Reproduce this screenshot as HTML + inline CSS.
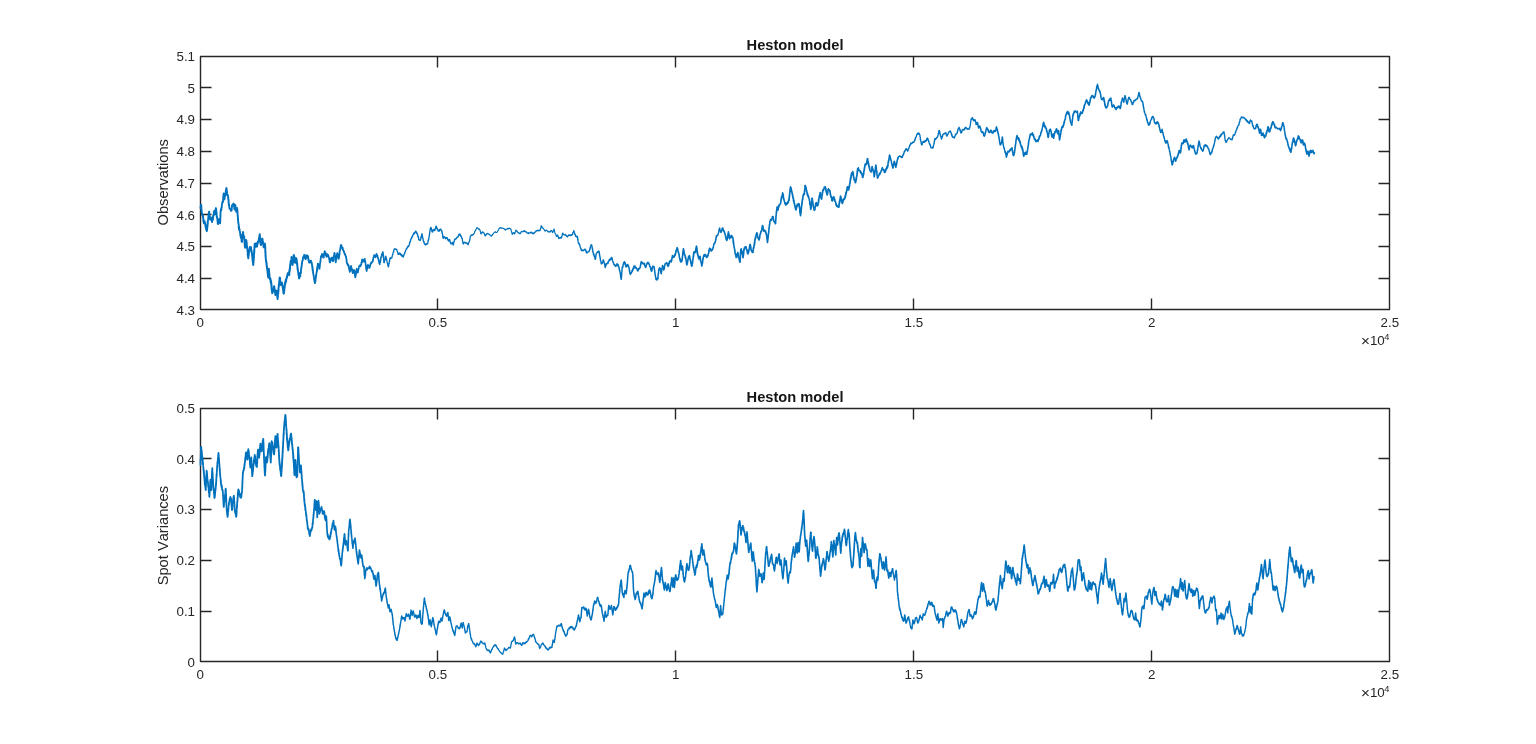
<!DOCTYPE html>
<html lang="en"><head><meta charset="utf-8"><title>Heston model</title>
<style>
html,body{margin:0;padding:0;background:#fff;}
body{width:1536px;height:744px;overflow:hidden;}
svg{display:block;}
text{font-family:"Liberation Sans",sans-serif;fill:#262626;font-kerning:none;}
.t{font-size:13.33px;}
.l{font-size:14.67px;}
.h{font-size:14.67px;font-weight:bold;fill:#161616;}
.ax{stroke:#262626;stroke-width:1.4;fill:none;stroke-linejoin:round;}
.c{stroke:#0072bd;fill:none;stroke-linejoin:round;stroke-linecap:round;}
</style></head><body>
<svg width="1536" height="744" viewBox="0 0 1536 744">
<rect width="1536" height="744" fill="#fff"/>
<g>
<rect class="ax" x="200.5" y="56.5" width="1189.0" height="253.0"/>
<path class="ax" d="M437.5 309.5v-11M437.5 56.5v11M675.5 309.5v-11M675.5 56.5v11M913.5 309.5v-11M913.5 56.5v11M1151.5 309.5v-11M1151.5 56.5v11M200.5 87.5h11M1389.5 87.5h-11M200.5 119.5h11M1389.5 119.5h-11M200.5 151.5h11M1389.5 151.5h-11M200.5 183.5h11M1389.5 183.5h-11M200.5 214.5h11M1389.5 214.5h-11M200.5 246.5h11M1389.5 246.5h-11M200.5 278.5h11M1389.5 278.5h-11"/>
<text class="t" x="200.3" y="327" text-anchor="middle">0</text>
<text class="t" x="437.8" y="327" text-anchor="middle">0.5</text>
<text class="t" x="675.8" y="327" text-anchor="middle">1</text>
<text class="t" x="913.8" y="327" text-anchor="middle">1.5</text>
<text class="t" x="1151.8" y="327" text-anchor="middle">2</text>
<text class="t" x="1389.8" y="327" text-anchor="middle">2.5</text>
<text class="t" x="195.0" y="61" text-anchor="end">5.1</text>
<text class="t" x="195.0" y="93" text-anchor="end">5</text>
<text class="t" x="195.0" y="124" text-anchor="end">4.9</text>
<text class="t" x="195.0" y="156" text-anchor="end">4.8</text>
<text class="t" x="195.0" y="188" text-anchor="end">4.7</text>
<text class="t" x="195.0" y="220" text-anchor="end">4.6</text>
<text class="t" x="195.0" y="251" text-anchor="end">4.5</text>
<text class="t" x="195.0" y="283" text-anchor="end">4.4</text>
<text class="t" x="195.0" y="315" text-anchor="end">4.3</text>
<text class="t" x="1361" y="345"><tspan font-size="15.3px" dy="1.2">×</tspan><tspan dy="-1.2">10</tspan><tspan dy="-4.8" dx="-0.5" font-size="9.3px">4</tspan></text>
<text class="h" x="795.0" y="49.65" text-anchor="middle">Heston model</text>
<text class="l" transform="translate(168 182.3) rotate(-90)" text-anchor="middle">Observations</text>
<path class="c" stroke-width="1.87" d="M200.6 208.3l0-1.9 0 1.1 .1-.1 .1 .5 .1-2.3 .2-1 .1 .8 0 .4 0 .8 .1 1.1 0-1.7 .1 .2 0 2.7 0 .2 .1 1.5 0 0 0-.9 .1 .2 0 2.4 0-1.5 .1 0 0 .2 .1 1.5 0 .5 0 .3 .2 0 .2 .6 .1 .8 .2 .6 .2-.3 0 1 .1 0 .1-.9 0 2.3 .1-1.7 .1 1.7 0-1 .1 2.1 .1-.5 0 1.6 .1 1.9 .1-1.3 0 1.4 .1-1.9 .1 1.6 0 1.3 .1-.2 .1 .7 0 .2 .2-.2 .2-1.6 .1 1.5 .2-1.8 .2 .5 0 1 .1-.5 .1 1.3 .1-.1 .1 1.4 .1-1.2 .1 2.2 .1-.8 .1 2.1 .1-.3 .1-.2 .1-.7 .1 2.3 .1 .1 .1 1.5 .1-1.6 .1 1.4 .1 .4 0 .2 .1 .3 .1 .4 .1 .3 .1-.6 0-.8 .1-.2 0 .3 .1 .4 0-.8 .1-.3 0-.7 0-.5 .1-1 0 .2 .1 .4 0-2.6 .1-.9 0 2.1 .1-1.8 0 .4 .1-.6 0-2.7 .1 2.3 0-.6 0-1.6 .1 0 0-1 .1-1.1 0 .1 .1-.4 0-.3 .1 .2 .1-.6 0-1 .1 .9 0-2.7 .1 1.3 .1 0 0-2.2 .1-1.7 0 .2 .1 .8 0-.1 .1 .2 .1-2.4 0 .3 .1-.4 0 .8 .1-.1 0-.7 .1 2.6 0 1.2 0 0 .1-1.8 0 1 .1 1.2 0 1.8 .1-.5 0-.1 .1 1.4 0-.7 .1 .5 .2 1.2 .3-2.4 .3 .1 .2 .3 .1 .9 .1 1.2 .1-.2 .2 .1 .1-1.6 .1 1.2 .1 .6 .1 .6 .1 1.5 .1-.4 .1 .7 .1 0 .1-.8 .1-.8 .1 0 0 0 .1 .1 .1-2 .1-.1 .1-1.8 .1 2.9 .1-.5 .1-2.2 0-.7 .1-1 .1 .8 .1-.5 .1-.5 .1 .6 .1-1.2 .1-1.5 .1-1.3 .1 2.9 .1-1.8 .1-1.7 .1 .7 .1 .5 .2-1.3 .1 3.7 .1 0 .1-.4 .1 0 .1-.5 0-1.5 .1 .6 .1-1.8 .1 1.8 0-2.8 .1 .2 .1 2.1 0-.3 .1-3.3 .1-.4 .1 1.6 0-.7 .1-.9 0 0 .1 .4 0 .4 .1-.1 0 .8 .1 2.5 0-.1 0 1.3 .1-1.3 0 .4 .1-.6 0 1.5 .1-.9 0 .4 .1 2.6 0 .9 0-.1 .1 .5 0-.2"/>
<path class="c" stroke-width="1.84" d="M216.8 216.7l.1 .5 .1-.2 .1 1.1 0 0 .1-.4 .1 0 0 .4 .1 2.1 .1 .6 .1-.3 0 2.6 .1-.9 .1 .8 .1 .9 0-1.2 .1 .3 .1 1.2 .1 0 0-1.4 .1 1.4 .1-1.3 0 .4 .1-.7 .1-3 0 2 .1-1.9 .1-.3 0-.1 .1-.1 .1 .9 .2 .7 .1 .7 .1-2.3 .1 1.4 .2-.6 .1 2 .1 1 .1-.6 .2 .9 0-.3 0-.4 0 .1 0-1.8 0-.6 .1-.4 0 1.7 0-.7 0-1.7 0-.1 0-.6 .1-.3 0-.9 0-.6 0-1.6 0 .3 0 1.9 .1-1.5 0-.9 0-.7 0-.2 0-.3 0-1.1 0 .1 .1-.5 0-.5 .1-1.1 .2-.6 .1-.8 .1-.4 .2 1.5 .1-1.1 .1-1.3 0 .2 .1-.8 0-.5 .1 .4 0 .8 .1-1.7 0-.6 .1-.9 0 .1 .1 .2 0-.9 .2-.7 .1-1.3 .2-.5 .2 .1 .1 .7 .1-1.1 0 .9 .1-.8 0-1 0 1.2 .1-2.5 0 1.1 .1-.4 0-3 0-.4 .1 .1 0 1.7 .1-.1 0-3.1 .1 1.9 0-1.8 0-.4 .1-.5 0-.3 .1-.2 0-.4 .1 .4 0 0 .1 2.1 0 1.5 .1 .5 0-1.6 .1-.8 0 1.6 .1-.1 0 2.5 .1-.4 0 .1 .1-.9 .1 .9 .1-.7 .1-2.6 .1 .6 .1-.1 .1-.1 .1-.3 .1-.8 .1-.2 .1-.3 .1-1 0-.8 .1 1.7 .1-1.4 0-.4 .1-2.5 .1 1 0 .7 .1-2.9 .1 2.2 0-2 .1 .3 .1-.9 .1-.2 0-.6 .1 1.1 0-.5 .1 1.9 0-1.5 .1 .3 0 2.2 .1-1.6 0 1.2 .1 1.9 0 .8 .1-2.4 0 2.4 .1 1.2 0 .1 .1-.6 0 .6 .2-.2 .2 .5 .1-.6 .2 1.4 .2 .6 0 .3 .1 .5 0 1.4 .1-.7 0-.7 0 2.9 .1-1.8 0 1.1 .1 .8 0 .2 .1-.3 0 1.3 .1 2.1 0-1.6 0 .9 .1 1.5 0 0 .1 .3 0 .1 .1 1 .1-1.5 .1 .8 .1 1.5 .1 .8 .1 1.1 .1-.5 .2 .1 .2 .2 .2 .6 .3 .1 .2 .8 .2 .8 .3-.6 .2 .6 .1-.9 0-.6 .1 1.3 0-.1 .1-.7 0-.5 .1-.5 0-1.3 .1 .2 0-1.9 .1 .3 0-.3 .3-.9 .3 1 .2-1.8 .3 .2 .3 .1 .3-.6"/>
<path class="c" stroke-width="1.86" d="M233.7 203.8l0 1.1 .1-.9 .1 .1 0 2.2 .1-1.7 .1 2.2 0-.8 .1 1 0-.9 .1 2.5 .1-.6 0 .3 .1 .9 .1 .4 0-.6 .1 .3 .1-1.3 0-1.3 .1 .1 .1 .9 0-1.9 .1-.1 .1-.7 0 .7 .1-.5 .1 1.2 0-.1 .1-.4 .1 2.7 0 .3 .1-.3 .1-.6 0 0 .1 2.4 .1-.1 0-.5 .1 1.4 .1 .5 .1-1.4 .1 .5 .2-.2 .1-.2 .1-.6 .2-.5 .1-1.4 .1 .4 .1 .3 0 .2 0 .7 .1 .9 0 .8 0 1.4 0-2.8 .1 2.5 0-.2 0 2.2 .1-.1 0-1.8 0 2 0-.1 .1 .7 0 .9 0-.7 .1 1 0 .4 0 .5 .1-.1 0-.5 0 2.5 .1 1.1 0-.8 .1-.6 0 1.8 0 .8 .1-.3 0 .6 0 1.5 .1-1.4 0 .9 0 .7 .1-.3 .1 .7 0 .3 .1 .1 .1 .7 0 2.8 .1-1.4 .1 .6 0 2.1 .1-1.2 .1-.9 0 2.2 .1-.6 .1 1.9 0-.3 .2-1 .1 1.2 .2 1 0-.3 .1 1.3 .1-.6 .1 1.2 .1 .1 0 .1 .1 2.3 .1 .4 .1-.6 .1-.7 .1 .3 .1 1.8 0 1.2 .1-.9 .1 .7 .1-.1 .1 .3 .1-.1 .1 .5 .1 1.3 .1 2.4 .1-1.2 .1-.1 .1 0 .1 1.4 0-.4 .1-.5 0-1.4 .1-.5 0 .5 .1 .7 0-.8 0-1 .1-1 0 .3 .1-.8 0 1.2 0-3.4 .1 .4 0 1.3 .1-2 0 1 .1-1.7 0-.3 0-.7 .1-.3 .1-.6 .2 .5 .1 2.9 .1-.4 .2 .4 .1 .8 .1-.1 .2 .6 .1-.4 .1 .4 0 .4 0 1.3 .1-.6 0-.5 0 1.4 .1 .1 0 1.7 0-1.1 .1 0 0 1.3 0 2.6 .1-1.4 0 .7 0 .3 .1 .7 0 1.2 0 .9 .1-2.6 0 3.3 0-1 .1 .2 0 1.7 0-.7 .1 1.2 0-.2 .1 .1 0-1.7 .1 .7 .1-.1 .1-1.3 0-2 .1 .8 .1-.3 .1-1.5 0 2.6 .1-2.4 .1-.6 .1-.3 0-.9 .1-.3 .1 .2 0-.5 .1 .6 0-.1 .1 .7 0-.8 .1 2.3 .1-.9 0 1.5 .1-.9 0 .9 .1 1.3 0-1.3 0 3.6 .1-1.3 0 .4 .1-.2 .1 2.5 0 .3 .1-.5 0-.5 0 1.2 .1 .2 0 1.1 .1-.4 0-.3 .1 .4 0 .8 .1 1.3 0-.4 .1 1.3 0 2.2 .1 .4 0-2.6 .1 2.2 0 .1 .1 .2 0 1.7 .1-1 0 .5 .1 .5 0 .6 0 .5 .1 .2 .1-.5 0-2 .1 .2 0-.8 .1 1.3 0-1.1 .1 .4 .1-1.6 0-2.1 .1 1.9 0-.7 .1-.1 0-2.6 .1 1.2 .1-1.2 0-.4 .1 .6 0-.5 .1-1.3 0-.5 .1 .3 .3-1.8 .3 .4 .3 1.6 .4-1.5"/>
<path class="c" stroke-width="1.93" d="M250.8 247.5l0 .4 .1-.7 .1 .7 .1 1.7 .1 1.6 0 .2 .1-.5 .1 .2 .1-1.2 .1 1.2 .1 .6 .1 0 0 1.3 .1 .1 .1 .7 0 .5 .1 1.2 0 .1 .1 .2 0-.1 .1-.8 0 1.8 .1 1.1 0-1.4 .1 3.2 0-1.5 .1 1.3 0-.4 .1-.8 0 3.8 .1-2.8 0 3 .1-1.3 0 1.4 .1-.7 0 .8 .1 1.7 0 .7 .1-1.2 0 1 0 .4 .1-.1 0-1.1 0 .3 .1-1.4 0 .5 0-.5 .1 .2 0-1.1 0-1.9 .1 1.3 0-2.2 0 1.5 .1 .3 0-1.3 0-1.8 .1 1.6 0-1.6 0-2.2 0 .6 .1 1.8 0-2.6 0 .1 .1-1 0-1.8 0 .7 .1 .6 0-.6 0-.9 .1-2 0 2.8 0-1.1 0 0 .1-.2 0-2.5 0-.6 .1 .6 0 .7 0-3.3 .1 .7 0-.9 0 .7 .1 .2 0-1.8 0-1 .1 .4 0-.6 0-.8 .1 .1 .2 1.1 .3-1 .3 1.8 .2-2.2 .3 3.3 .3-2.1 .2 1.5 .2 .3 .1-2.3 .2 2.3 .1-2.4 .2-1.7 .2 1.1 .1 .3 .2-2.1 .1 .3 .2 .3 .1-.7 .2-.4 .1-1.2 .1 .1 0 .3 .1-.5 .1 .4 .1-2.5 0 2.2 .1-1.2 .1-1 .1 .5 .1-.7 0-1.4 .1-1.1 .1 .9 .1-1 .1-.6 0-.2 0 .3 .1 1.6 0 .1 .1 .7 0 .8 0-.1 .1 2 0-2 .1 .7 0 1.4 0 .9 .1 .5 0 1.2 .1-1.9 0 2.4 .1-.4 0-1.2 0 1.5 .1 1.8 0-.2 .1-.5 0 .1 .1 1.1 .1-.8 0-.6 .2 .2 0 1.1 .1-1.1 .2-.9 0-2 .2-.8 0 .9 .2-.7 .1 1.7 0-2.4 .2-.5 0 .7 .1-1 .1 .4 .1-.5 .1 2.5 .1-1.1 0-.7 .1 2.3 .1 .6 .1-.6 .1 1.8 0 .6 .1-1.8 .1-.1 .1 .5 .1 1.9 0 1.8 .1 .1 .1 .5 .1 .2 .1-.3 .1-.4 .2 .7 .1-3.2 .2 2.2 .1-.8 .2-1 .1-.6 .2 0 0 0 0 .9 .1 1.2 0-.7 0 1.2 0-.6 .1 1.3 0-.9 0 1.9 0-.2 0 1.1 .1-.7 0-.3 0 1.5 0 2.2 .1 .9 0-1.8 0 1.9 0 .4 0 0 .1-1.8 0 2.6 0-1.2 0 3 .1 0 0 .2 0-1.6 0 2.4 0 .4 .1-1.1 0 2.1 0-.2 0 .3 .1 .6 0 0 .1 .1 0 .8 .1 2.1 .1-.7 0 .5 .1-.6 .1 .5 0 .5 .1 0 .1 2.7 0-1.1 .1 1.9 .1-2.1 0 3 .1-.7 .1 1.2 0-.4 .1-.3 .1 2.2 0-.8 .1 .6 0 .6"/>
<path class="c" stroke-width="1.95" d="M267.2 268.8l.1-.1 .1 1.1 0-.1 0 1.1 .1 .5 .1-.7 0-.5 0 2.7 .1 1.1 .1 .1 0-1.9 .1 2.7 0 .1 0 .3 .1 .6 .1-.4 0 1 0 .9 .1-.5 0 .7 .1-1.2 0 .2 0-.1 .1-2 0 .2 0 1 0-1.3 0-.2 .1-2.2 0 2.4 0 .2 .1-2.5 0-1.1 0-.9 0 1.9 0-1.3 .1-1.2 0 1.1 0-.9 .1-.8 0 .7 0-.8 .1 1.3 0 1.1 .1-1.4 0 2.7 .1 1 0 .1 0-1.7 .1 .4 0 2.6 .1 .5 0 .7 .1 .3 0-1.2 0 .1 .1-.6 0 2.8 .1 .9 0-1.2 .1 .5 0 1 .1 .2 .1 .6 .2-1.5 .2 1 .2-.1 .1 3.3 .2-1.8 .2 .9 0 .9 .1 .9 0 .6 .1 .6 0 .6 .1-2.2 0 1.3 .1 0 0 1 .1 2.5 0-3.1 .1 2.9 0-1.8 0 3.7 .1 .4 0-1.9 .1 2.9 0-1.2 .1 1.8 0-.7 .1-.5 0 .7 .1 .7 0 1 .1 0 0 1 0-.2 .2-.5 .1-.7 .1-.8 .1-.5 .1-1.3 .2 0 .1 2 .1-1.5 .1-.8 .1 .3 .1 .4 .2-1.1 .1-.3 .1-1.6 .1-.2 .1-.3 .1 .1 0 .8 .1-.3 .1 .8 0 .6 .1 .4 .1 .4 0 .1 .1 2.8 .1-1.7 0-.4 .1 1.9 0-1.1 .1 .5 .1 1.8 0-1 .1 .6 .1 1.8 0 .8 .1-.1 .1-1.5 .2-.3 .1 1.2 .1-2.9 .2 .3 .1-.8 .1 .9 .2-1.3 .1 .6 .1 1 0-.2 .1 .9 .1-.2 0-.9 .1 1.9 0-1.1 .1 2.2 0-.7 .1 1.2 .1 .5 0 1.6 .1 .4 0-1.3 .1 1.4 .1 1.2 0-.3 .1-.3 0-1.1 0-.1 .1-.6 0 .7 .1-1.3 0-.1 0 .8 .1-3.7 0-.1 .1-.9 0-.5 0 2.5 .1-1.2 0 1 .1-4.1 0 .2 0 2.5 .1-1 0-.7 .1-.5 0-1.3 0-.5 .1-.4 0 .1 .1-1.2 0-.2 .1-.6 0 .3 .1-1.9 0-.3 0 .8 .1-1.3 .1-.4 0 1.5 0-1.6 .1-1.5 0 1.5 .1 0 .1-3.7 0 .1 0 .6 .1-1.3 .1 1.7 0-1.4 0-1.2 .1 .1 .1-.7 0 0 .1 .4 .1 1 0 1.9 .1-2.7 .1 2.6 .1 1.6 0-.3 .1 1.3 .1-.8 .1 0 0 .1 .1-.3 .1 2.7 .1-1.8 0 1.3 .1 .5 .3-.9 .3-.8 .3-.8 .3 1.3 .1 .2 .1 .7 .1 .4 0 1.2 .1-.6 .1-.1 0 1.5 .1 .9 .1-1.6 0-.2 .1 .9 .1 3.2 0 .3 .1-2 .1 1.7 0 1.2 .1 .9 .1-1.6 0 .8 .1 1.6 .1 .2 .1-.3"/>
<path class="c" stroke-width="1.95" d="M283.8 293.1l0 .3 .1-1.9 0 .7 .1-1.1 0-.2 .1-1.1 0-.2 .1 .1 .1 1.4 0-1.3 .1-.8 0-1 .1-1.4 0 .3 .1 1.3 .1-.9 0 .1 .1-1.7 0-.7 .1-1.4 0 .8 .1-.6 .1-1.4 .2 1.8 .1-2.4 .1 .3 .2-2.2 .1 .7 .1-1 .2 2.2 .1-1.5 .2-1.8 .1-.3 .1 .6 .1-.5 .1-.8 .1-1.2 .1 1.5 .1-1.4 .1 0 .2-1.3 .1-.4 .1-.2 .1-1.2 .1 1.3 .1-.8 .3 .7 .3-2 .3 2.3 .3 .2 .1 .1 0-.8 .1 .4 0-1.7 .1-.2 0-1.8 .1-.1 0-1 .1 .1 0 1 .1-.1 0 .4 .1-1.8 0-1.8 0 1.4 .1-1.2 0 1.5 .1-.5 0-1 .1-2.8 0 .3 .1 .3 0-1.2 .1 .5 0-.5 .1-.7 .1 0 0-.7 .1-1.5 .1-.5 .1 .4 .1 1.4 .1-.2 0-1 .1-1.2 .1-.1 .1-.3 .1-.1 .1-1 0-1.9 .1 .4 .1 1 0 .2 .1-.3 0 1.4 .1 .2 0 .1 .1-1.3 0 2.4 .1 1 0-.4 .1-1.2 0 2.7 .1 .7 0-.2 .1 .7 0-.1 .1 .6 .1-.7 0 .2 .1-1.1 0 0 .1 .9 0-1.1 .1-1.1 0-2.3 .1 1.4 0 .4 .1-2.3 .1 .2 0-1.9 .1 2 0-1.8 .1 1 0 .3 .1-2.1 0 .7 .1-1.2 0-.8 .1-.4 .1-.3 0 0 .1 1.9 .1 .2 0-1.4 .1 2.5 .1-1.4 .1-.5 0 3.8 .1-2.8 .1 3.6 .1-.8 0 1.2 .1 0 .1 1 .1-.4 0 .5 .1 .1 .1-.2 .1 .4 .1-1.8 .2 1.2 .1 .2 .1-2.3 .1 .2 .1-1.4 .1-.2 .1 .1 .1-.6 .1 .3 .1 .1 0 .9 .1 .6 .1 .6 0 .9 .1-1.8 0 3.5 .1-1.3 .1-.3 0 .9 .1 1.4 0 1 .1-1.1 .1 1.1 0-1.5 .1 2.4 0 .1 .1 .1 .1 1.9 0 .9 .1 0 0-1.2 .1 2.1 .1-.8 0 .6 .1 .5 0 .1 .1 1.1 .1 .6 0 .1 .1 0 .1 .5 0 .1 .1 2.1 .1-1.4 0 .9 .1 .3 .1-.2 0 1.1 .1-.8 .1 2.3 0 .5 .1-.2 .1 1.3 0-.3 .1-.8 .2 .5 .1-.4 .1-1.5 .1-.1 .1 1 .1-1.4 .2-.2 .1 .9 .1-1.8 .1-1.9 .1 .3 .1 .7 .2-.9"/>
<path class="c" stroke-width="1.78" d="M300.8 272.5l0-.5 .1-1 0-.8 .1 .8 0 .6 .1-2.9 .1-.6 0 1.5 .1-1.6 0-.2 .1-.4 0-1.1 .1 1.1 .1 .1 0-1.1 .1-1.4 0 1.3 .1-1.7 0 .3 .1-1.9 .1 1 0-.4 .1-.2 0-1.3 .1-.2 0-.7 .2-.7 .1 .6 .1-.4 .1 0 .2-1.9 .1-1.4 .1 .9 .1-.6 .2-1 .1 1 .1-.1 .1-1 .2 0 .1-1 .1-.6 .2-.2 .1 .5 .1 .6 .2 1.5 .1 .7 .2-.5 .1 1.2 .1-1 .2 1 .1-.5 .2 1 .1-1.2 .2 .3 .2-3.1 .1-.2 .2 .3 .1 .2 .3 1.1 .3 .8 .4-2 .3 .7 .1 0 0 .2 .1 .4 .1 1.6 .1-.4 .1 2.3 .1-.3 0-1.2 .1 1.5 .1 0 .1 1.3 .1 .4 .1-.6 0 1.1 .1 0 .3 .1 .3-.8 .2 0 .3 .1 .3-1.2 .3-.1 .1 0 .1 1.8 .1-.6 .1-.2 .1 1.5 .1-1.6 .1 2 .2-1 .1 1.4 .1-.1 .1 1.2 .1 .2 0 1.2 .1-.2 .1-.4 0 2.6 .1-1.4 .1 2.4 0-1.4 .1-.6 .1 3.4 0-1.5 .1 1.7 0 .9 .1-2.2 .1 1.9 0-.2 .1 1.5 .1-.1 0-.5 .1 1.4 .1 .9 0-.1 .1 .5 .1 .7 .1-.2 0 .7 .1 .8 .1 .3 .1 1.5 .1 .2 0 .3 .1 .3 .1-.2 .1-.9 0 2.7 .1 .7 .1-.7 .1 0 .1 .6 0 1.2 .1-.2 .1 .3 .1-.8 0-.2 .1-.8 .1-.1 0-1 .1-.5 .1 1.7 0-.8 .1-2.9 .1 0 0 .1 .1-.4 .1-1.5 0 2 .1-2.9 .1 1.7 0-.4 .1-1.5 .1-.6 .1 .1 0-.4 .1-1.3 .1-.1 0 0 .1-.2 0-.7 .1-.7 .1-.9 0-.3 .1-.5 .1 1.7 0-3.2 .1 2.4 0-1.5 .1-.7 .1-.4 0-1.1 .1 1.3 .1-1.3 0-.9 .1-.5 .1-.3 0-1 .1 .1"/>
<path class="c" stroke-width="1.75" d="M317.9 263.8l.1 .2 .1 .1 .2 1.5 .1 .4 .2-1.7 .1 1.7 .1 1.7 .2-1.9 .1 .7 .1 2.2 .2-.4 .1 .5 .1-.7 0-.8 .1 .2 0-.9 .1 .1 0-.3 .1-.1 0-1.4 .1-.7 0 .1 .1-.6 0-.1 .1-1.2 0-.1 .1-.9 .1-.4 0 .3 .1 .6 0-2.1 .1 .6 0-.7 .1-.7 0 0 .1-1.3 0 .2 .1-.6 0-1.1 .1 0 .2 0 .3-.1 .3 .5 .2-2.7 .2 .5 .2 .4 .2 .7 .1-.9 .2 2.6 .1-.4 .2-.8 .1 .3 .2 1.2 .1-.6 .1 .7 .1-.2 0-2.9 .1-.5 .1 1.7 .1-1.2 .1-1 0 .9 .1-1 .1-.2 .1-.5 .1-1.3 .1 .9 .1-1.1 .1 .2 .1 1.5 .1 .2 .1-.1 .2 .5 .1 .2 .1-1 .2 1.6 .1 1.1 .1-1 .1 .7 .1 1.1 .4 .6 .3-.2 .3-2.5 .4 1.8 .3-.7 .3-.2 .1 .8 .1-.2 .1 .5 .1 0 .1 1.2 .1 .1 .1-.1 .1 .7 .1 0 .1 1.8 .1-1.2 .1 0 .1 1 .1 2.1 .1-.8 .1 1.2 .1 .3 .1 .1 .1-.7 .2 .4 .1-.5 .1-.9 .2-1.1 .1 .2 .1-1.6 .2 .6 .1-.6 .2 .4 .1-.6 .1-.6 .2 0 .1 1.5 .1 .9 .2-.7 .1-.3 .2 1.6 .1-1.2 .1 1.2 .2 .7 .1-.1 .1 .1 0-1.7 .1 1.1 .1-.3 .1-.3 .1-3.1 .1 2 0-1.3 .1 .4 .1-1.6 .1-.9 .1 0 .1 1 .1-1 0-1.3 .1 0 .1-.3 .1-.8"/>
<path class="c" stroke-width="1.68" d="M334.5 253.1l.1 .7 0 .2 .1 0 0 .3 .1 .6 0 .3 .1-.4 .1 .4 0 2.6 .1-1.5 0 .2 .1 1.7 0 1.8 .1 .3 .1-1.2 0 0 .1 .8 0 .2 .1 .8 0 1 .1-.2 .1 .8 0-.7 .1-.3 .1-.3 0-1 .1-.5 .1-.7 0-.2 .1 .8 .1-1.2 0-1.5 .1 1.5 .1-1.1 0-1.2 .1 .2 .1-1.5 0-.3 .1 1.7 .1-.4 0-.5 .1-1.7 .1 0 0-.5 .2 .8 .1-.7 .1 2.3 .1-1.3 .1 1.4 .1-1 .2 1.9 .1 .1 .1 1.4 .1-1.5 .1 1.4 .1 1.1 .2-.2 0-.9 .1 .2 0-.4 .1-1 .1-.3 0 .9 .1-.6 .1-.9 0-.7 .1-1.7 0 .7 .1 .8 .1-.7 0-2.8 .1-.5 .1 .3 0 .3 .1-1 0-.2 .1 .1 .1-.1 0-.9 .1 .1 .1-1.8 0 .4 .1-.6 .2-.1 .1-2 .2 2.2 .2-2.7 .1 .7 .3-.4 .2 2.4 .2 .4 .2-.4 .2 1.3 .2 0 .2-1.2 .2 1.1 .1 .6 .1 1.1 .2-.6 .1 .6 .2-.1 .1 1.6 .1-.9 .2 .5 .1-.1 .1 .8 .2 1.1 .1 .4 .2 .6 .2-.3 .2-.3 .3 1.7 .2 .3 .2 .9 .2-.5 .1 .3 0 .4 .1 1 0 1.2 .1-.7 .1 .4 0-.4 .1 1 0 1.7 .1 .4 0 .6 .1-1.8 .1 2.4 0-.9 .1 1.4 0-.5 .1 1.1 .3 .1 .3-.5 .3 2.3 .3-.9 .3 .2 .1 1 .1-.4 0 1.7 .1-.9 .1 2 .1-1.3 0 0 .1 2.2 .1-.8 .1 .7 .1-.7 0 1.4 .1 .8 .1-.1 .1 1 .1 .3 0-1.1 .1 .8 .1-1.3 .1 1.1 .1-2 .1-.8 .1-.2 .1 .3 .1-.2 .1-1.3 .1-.6 .1 .3 .1-.7"/>
<path class="c" stroke-width="1.63" d="M351 266.2l.1 .8 .1-.7 .2 .5 .1 .6 .1 2.2 .1 .4 .1 0 .1 .2 .2-1.2 .1 2.6 .1-1 .1 .1 .1 2.1 .1-1.4 .2 1.9 .1-.2 .1-.2 .2-1.3 .1 .5 .2-1.4 .2 .6 .1-1 .2-.6 .1 .3 .1 1 .1-.4 0 1.4 .1-.3 .1 1.1 .1-1.3 0 .6 .1 .1 .1 2.7 .1-.1 0-1 .1 2.2 .1 .2 .1 1 0-.4 .1 .6 .1 .1 0-.2 .1-.3 .1-.8 0-.8 .1 .5 .1 .1 0-2.6 .1-.5 0 .6 .1 1 .1-2 0-1.6 .1 1.7 0-.6 .1 .1 .1-1.5 0 .4 .1-1.8 .1 .3 0-.7 .2 .4 .1-.5 .1 1.1 .2 1.9 .1 .2 .2-1 .1 1.6 .1 .1 .2-.1 .1 0 0-.7 .1-.3 .1-1.3 .1 .2 .1-.3 .1-1.2 0 0 .1 0 .1-.4 .1 .3 .1-2 .1 0 0 0 .1-.6 .3-.4 .3 .3 .4-.9 .3 1.2 .3-1.3 .3-.1 .1-.9 .1 .5 .1 .1 .1-2.6 .1 .6 .1-.2 .1 .4 .1-.1 .1-1.8 .1-1.4 .1 1.1 .1-.4 0-.9 .3 .6 .3 .1 .2-.5 .2 2.2 .3-1.6 .3 1 .1-1.2 .2 1.2 .1-.9 .2-.2 .2-.7 .2-.6 0 .8 .1 .6 0-.4 .1 1.3 .1-.9 0 .2 .1 2.3 .1-.8 0-.4 .1 1.5 .1-.1 0 1.5 .1-.1 .1-.2 0 .5 .1 1.7 0-1 .1 1.3 .1-.5 0 1.6 .1 1.2 .1-.2 0 .7 .1 0 .1-.4 0 .8 .1 .6 .1 .5 0 .3 .1-.6 .1 .2 .1-1.3 .1 .1 0-.4 .1-1.4 .1 1.4 .1-1.2 .1-.4 .1-.5 0-1.5 .1-.3 .1 0 .1 .5 .1-.8"/>
<path class="c" stroke-width="1.53" d="M367.9 265l.2 .1 .2 1.1 .2-.9 .2 .5 .2 .8 .2 1.5 .2-1.1 .2 1.1 .1-.5 .1-.1 .1-.6 .2-.5 .1 .2 .1-.8 .1-1.6 .1 1 .1-1.6 .2 0 .1 .6 .1-.7 .1-1 .4 .8 .4-.7 .3-1.1 .4 .4 .1-.7 .1 .5 .1-.9 .1-1.6 .1 1.6 .1-1 .1 .2 .1-1.2 .1-1.9 .1 .1 .1 0 .1-.4 .1 .6 .1-1.7 .1-.1 .1-.4 .2 .3 .2 .4 .2-.5 .1 .2 .2 .4 .2 1.5 .2 .2 .1-.5 .2-.2 .1-1.3 .1 .3 .2-1.2 .1-.4 .1 .6 .2-.3 .1-.7 .2 .6 .1 .2 .1 .1 .2 1.8 .1 .3 .1-1.1 .2 .1 .1 1.6 .1 .3 .2-.3 .1 1.5 .1-.1 .2-.2 .1 .6 .1 1 .1 1 .1-1.3 .1 1.1 .2 1.9 .1 .4 .1-.8 .1 .6 .1-.1 .1 1.1 .2 .3 0-.8 .1-.7 .1-.6 .1 .4 0-1.4 .1 1.3 .1-.2 .1-.7 .1-.7 0-.1 .1-1.1 .1 0 .1-.7 0-.4 .1-1.1 .1-.1 .1-.6 .2-.7 .1 .6 .1-.6 .2-1.3 .1-.5 .1-.1 .2 .6 .1-1.1 .1-.5 .2-.6 .1-.1 .1 .2 .2-.9 0 .2 .1 .5 0 1.2 .1 .2 0-.6 .1 1.8 0-1 .1 1.6 0-.9 .1 .7 0 1.8 .1-.6 .1 .3 0 1 .1 .4 0 .1 .1 .4 0 1.7 .1 .4 0-.2 .1-.2 0 .7 .1 .6 0 .5"/>
<path class="c" stroke-width="1.34" d="M384.1 262.5l.1-.3 .1 .1 .1-1.3 .2-.1 .1-.8 .1 0 .1-1 .1 .3 .1 .2 .1-1.5 .1-.4 .1-.1 .1-1.1 .1 .6 .2-.9 .1 0 0 .7 .2 .1 0 1.8 .1-.8 .2 .4 0 1.7 .2-.6 0 0 .2 .9 .1 .6 0-.1 .2 .7 0 .4 .1 .5 .2 .7 .1 .5 .1 .5 .1-.2 .1 1 .1-.2 .1 1.2 .2-.1 .1 0 .1 1 .1 0 .1-.8 0-.4 .1-.5 .1-.1 .1-1.1 0-.4 .1-.6 .1 .5 .1-1 0 .9 .1-.8 .1-1.7 .1 1.1 .1-1.2 0 .1 .1-1.6 .1 .6 .1-.5 0-.9 .1-.4 .4-.4 .4 .2 .4 .4 .4-.2 .1-.1 .2-.3 .1-.3 .1-1 .1-.5 .1-.1 .2-.7 .1-.6 .1-.2 .1 .2 .1-1 .1-.2 .2-.7 .1-.4 .1-.5 .1 .4 .1-.9 .2 0 .1-1 .1-.2 .1-.6 .4-.6 .5 .4 .4 .1 .4-.3 .4 .3 .4 .1 .2 .1 .1 .7 .1 .1 .2 .7 .1 .3 .1 0 .2 .8 .1 .6 .1-.2 .2 1.1 .1 .7 .1 .1 .4-.4 .3 .2 .2-.2 .3-1 .4 .1 .2 .7 .3 .5 .3-.7 .3 1.5 .3-.8 .3 1.5 .3-1.2 .3 1.6 .3-.2 .3-.2 .3 .5 .2 .6"/>
<path class="c" stroke-width="1.36" d="M403.2 256.9l.2-.7 .2-.5 .1 .1 .2-.6 .1-1.1 .2 .2 .1 0 .2-.6 .1 .3 .2-1.8 .1 .4 .2-.5 .1-.3 .2-.6 .2-.8 .2-.5 .1 .1 .2-.2 .2-1.2 .2 .6 .2-.6 .2 0 .2-1.2 .1 .1 .3-.2 .3-1 .3-.2 .2 .4 .3 0 .3-1.1 .2-.4 .1-.4 .2 .1 .1-1.4 .1 0 .1-.7 .2-.7 .1 .3 .1 .3 .1-1.1 .2-.3 .1-.7 .1 .1 .1-.8 .2-.8 .1-.1 .2-.4 .2 .3 .2-1.1 .2 .4 .1-1.2 .2 .5 .2-1 .2-.2 .2-.8 .2-.3 .2-.1 .3-.7 .3-1 .2 .6 .3-1.2 .2 1.2 .3-.7 .3-.8 .2-.1 .3-1.1 .3 .1 .2 1 .2-.6 .2 1.1 .2 .8 .2-1.2 .2 .9 .2 .6 .2 .5 .1 .5 .1-.5 .1 .6 .2 1.7 .1-.7 .1 1.1 .1-.8 .2 .8 .1 .1 .1 1.4 .1 .8 .2-.1 .1 .3 .1 .5 .4 .1 .5 .2 .4-.3"/>
<path class="c" stroke-width="1.34" d="M420.4 240l.1-.5 .1-.1 .1 0 .1-.3 .1-1.5 .1-.9 .1 1.2 .1-.6 .2-.3 .1-.8 .1-.9 .1 .2 .1-.5 .1-.5 .1-.7 .1 .1 .1 1.1 .1-.1 .1 .4 0 .9 .1 0 .1 1.5 .1-.1 .1 .3 .1 .2 .1 .7 .1 .1 0 .9 .1 .5 .1 .4 .1-.2 .1 .7 .2 .3 .1 .6 .2-.4 .1 1.4 .2 0 .1 .5 .2 .5 .2 .3 .4-.4 .4 1 .4-.3 .4-1 .4 .4 .4-.3 .3 .1 .3-.8 0-.6 .1-.4 .1 .1 .1-1.6 .1-.4 .1 .5 .1-.2 .1-1.4 .1 .6 .1-.2 .1-1 .1-.6 .1-.4 .1-.4 0-.8 .1 .1 0-.6 .1-.1 .1-.1 0-1.1 .1-.4 .1-.3 0 .1 .1-2 .1 .4 0-.8 .1-.1 0 0 .1-.9 .1-.1 0-.7 .1-.7 0-.2 .3-.6 .3-.8 .2 .7 .2-.3 .1 .2 .1 1 .1 .5 .1-.6 .1 .3 .1 1.4 .1-.4 0 1 .1 .5 .1 .2 .3-.5 .2 .6 .2-1.5 .2 .4 .3-.7 .2-.2 .3-.5 .3 .7 .3 .2 .4 .2 .1-.2 .1-.6 .1-.7 .1-.3 .1-.3 .1 .2 .1-1 .2 .4 .1-.7 .1-1 .1-.2 .2 .8 .2-.6 .2 1 .2-.1 .1 .9 .2 1 .2-.2 .2 .4"/>
<path class="c" stroke-width="1.34" d="M437.5 229.4l.3 .3 .2 1.1 .2-.7 .3 .4 .3 .7 .2 .1 .3-.4 .3-1.4 .2 .6 .3-.1 .3-.7 .2-.3 .2 .2 .2 .6 .2 .5 .3-.2 .2 1.1 .2 0 .1 .1 0 .8 .1 1 .1-.6 .1 .9 0-.3 .1 .7 .1 .2 .1 1.2 .1 .1 0 1.4 .1-.7 .1 .8 .1 .5 0 .6 .1 .2 .3 .2 .4-1.6 .3 1.2 .3-1 .2 .2 .3 .1 .2 0 .3 1 .2 .6 .3-1 .3 .4 .4-.7 .3 0 .2 .5 .2-.1 .2 .8 .2 1.2 .2 .2 .2-.2 .2 0 .2 .7 .3 .5 .3-1.6 .3 0 .4 .5 .1 .8 .1-.2 .2 1.4 .1 0 .1 .9 .2 .3 .1 0 .2-.1 .1 .7 .3-.1 .3 .2 .3-1 .3-.4 .2-.1 .2 .7 .2 .5 .1 .5 .2 .3 .1 .6 .2-.1 .1-1.2 .1 .2 .1-1.3 .1-.5 .1-.2 .2-.3 .1-.5 .1-.3 .1 .2 .1-.5 .1-.7 .2-.4"/>
<path class="c" stroke-width="1.28" d="M454.8 239.4l.3-.1 .4-.6 .4-.2 .3 .3 .3-.9 .3-.1 .3-.7 .2 .1 .3 .1 .3-.5 .2-.6 .3 .1 .2-1.2 .2-.6 .3-.2 .2 .8 .2-.8 .3-.5 .1 .2 .2 1.1 .2-.5 .2 1.3 .1-.5 .2 .4 .2 .4 .2 .6 .2-.4 .1 .8 .2 1.2 .2-.2 .2-.2 .1 .8 .1 .3 .1 .5 .1 .1 0 .9 .1 .9 .1-.2 .1 .8 0 .1 .1 .4 .1 0 0 1 .1 .2 .3 .2 .4-1.1 .3-.5 .3 .4 .4-.6 .3 .2 .4 .7 .4-.3 .3 0 .3 .2 .3-.3 .3 1.2 .2 0 .3-.3 .3 .4 .2 .8 .2-.8 .1 .2 .1-.8 .2-.9 .1-.1 .2-.3 .1-.1 .1-.4 .2-.4 .1-.5 .1-.1 .1-.3 .1-.9 .1 .3 .1-1.1 0-.8 .1 .1 .1-1.1 .1 0 .1-.6 .1-.2 .1-.4 .4 0 .4-.8 .3 .6 .4-.2 .4-.2"/>
<path class="c" stroke-width="1.16" d="M472.5 235l.3-.3 .3 .1 .3-.4 .3-.5 .3-.1 .2-.7 .1 .1 .2-.3 .1-1.2 .2-.1 .2-.6 .1 .4 .2-.8 .2-.5 .1-.1 .2 0 .2-.5 .2-.5 .1-.3 .2-.6 .2-.2 .2-.4 .3 .5 .3 .2 .4-.1 .3 .4 .3 .3 .3 .6 .3-.4 .3 0 .3 .8 .3 .2 .1 .2 .1 1 .1 .2 .1 .4 .1 .3 .1 .8 .1-.4 .1 .7 .1 .1 .1 .7 .2 0 .3-.7 .3 .1 .2-.9 .2-.5 .3-.1 .3 0 .3 .7 .3-.3 .3 .6 .3 .2 .2 .3 .2 .3 .1 .5 .2 1 .2-.4 .2 .9 .1 .3 .3-.2 .2-.7 .2-.6 .3 .5 .2-.4 .2-.8 .3-.3 .4-.2 .4 .7 .4-.1 .4 .1"/>
<path class="c" stroke-width="1.11" d="M488.5 234l.3 0 .3 .4 .3-.1 .3 .5 .3 .4 .3-.1 .3 .1 .3 .8 .3 .1 .3 .1 .2 0 .3-1.1 .2-.1 .2-.5 .3 .3 .2-.5 .2-.5 .3-.3 .3-.4 .4-.5 .3-.3 .3-.2 .3-.2 .4-.2 .4 .9 .3-.1 .4 0 .3 0 .2-.3 .3-.5 .3-.2 .3-.9 .2 0 .2-.5 .2 0 .2-.7 .2-.6 .2 0 .2-.7 .2 0 .3-.3 .4 .4 .4-.7 .4 .3 .5 .4 .4-.1 .4 .1 .3 .2 .4-.2 .4 .3 .4 .3 .3-.2 .4 .5 .4 .6 .3-.4 .4 .5"/>
<path class="c" stroke-width="1.17" d="M505.6 229.8l.3-.3 .3 0 .4 0 .3-.2 .3-.8 .3 0 .4-.1 .4 .5 .4-.6 .4 .3 .4-.4 .4 .1 .3 .2 .2 0 .2 .5 .2 .1 .1 .5 .2 .4 .1 .6 .2 .7 .1 .4 .1 .3 .1 .1 .1 .1 .1 1.1 .1 0 .1 .6 .1 .5 .3-.1 .3-.6 .2-.3 .2-.6 .3 .3 .3-.6 .2 .5 .2 .4 .3 .5 .3-.1 .1-.8 .1-.1 .2-.2 .1-.5 .1-.4 .2-.4 .1-1 .2 0 .1-.4 .2 .6 .3 0 .3 .3 .2 .6 .2-.3 .3 .7 .3 .3 .3 .7 .3-.3 .4 0 .3 .8 .3-.1 .3 .2 .3 .5 .2-.3 .2-.9 .2 .4 .3-1.1 .2-.1 .2 0 .2-.5 .4-.1 .3 0 .4 .4 .4-.1 .4-.2 .4-.5"/>
<path class="c" stroke-width="1.20" d="M523.8 231l.3-.1 .4 .7 .4-.9 .3 .9 .4-.1 .3 .6 .3-.4 .4 .8 .3 .4 .3-.1 .3 .3 .4-.2 .4 .8 .3-1.1 .4 .6 .4-.1 .3 .1 .3-.5 .4 .2 .3-.3 .3-.7 .3 .4 .3 .7 .3 .1 .3-.5 .3 .7 .3 .5 .3 .2 .3-.2 .4-1 .3 .9 .3-1.3 .4 .1 .2-.6 .2 .1 .3-.4 .3 .2 .2-.8 .2-.4 .4 .1 .4 .2 .4-.6 .3-.1 .4 .4 .4-.2 .5 .5 .4-.6 .4 .4 .4-.5"/>
<path class="c" stroke-width="1.16" d="M540.2 230.2l.1-.5 .1-.1 .1-.6 .1-.1 .1-.8 .1-.3 .1-.7 .1 .2 .1-.9 .1-.3 0-.5 .2 .5 .2-.1 .2 .4 .2 .6 .1 .8 .2-.3 .2 .6 .3 0 .3 .2 .3 .4 .3 .1 .3 .6 .2 .1 .3 .8 .3-.2 .2 .8 .2 .3 .4-.6 .3-.1 .3 0 .3-.5 .3 0 .2 .6 .3 .4 .3 .2 .3 .4 .2 .3 .4 .1 .4-.6 .3 .4 .4 .3 .4-.2 .3 .1 .3-1.2 .3 .1 .3-.5 .3 .2 .2 .3 .2-.1 .2 .3 .2 1.1 .2 .4 .3-.1 .1-.7 .1 .4 .2-1.2 .1 .2 .1-.5 .2 0 .1-1 .2-.5 .1-.2 .1 .4 .1 .7 .1-.2 .2 1 .1 .2 .1 .6 .1 .3 .1 .7 .1 .4 .1 .1 .1 .6 .2 .2 .2-.1 .2 .5 .2 .1 .1 1.3 .2-.2 .2 .6"/>
<path class="c" stroke-width="1.28" d="M556.5 236.2l.3-.5 .2 .2 .2-.2 .3-.7 .1 .7 .2-.3 .1 .9 .2 .8 .1-.6 .1 .7 .2 .1 .1 .6 .2 .6 .3 0 .3-.5 .3-.4 .3-.1 .4-.2 .4 1 .3-.3 .4-.2 .1-.8 .1 .4 .1-1.1 .2-.3 .1-.6 .1-.5 .1 .2 .1-1.3 .1 .2 .1-.5 .2-.4 .2 .8 .3 0 .3 .4 .2 .3 .3 .3 .3 .1 .4 .1 .4-.7 .4 1 .4-.2 .3 .2 .3 .8 .3 .2 .3-.1 .3 .6 .3-.7 .2-.5 .2 .3 .3-.6 .3-.6 .2 0 .3 0 .3 .5 .4-.4 .3 .5 .3 .2 .4-.4 .5-.5 .4 .5 .1-.3 .2-.4 .2 0 .2-.1 .1-1.5 .2 .3 .2-.5 .1-.5 .2-.1 .2-.5 .2-.6"/>
<path class="c" stroke-width="1.36" d="M573.8 231l.1 0 .1 1.4 .2-.4 .1 .1 .1 .4 .2 .6 .1 0 .2 1.2 .1 .1 .2 .5 .2-.3 .1 1.3 .2 0 .2 .3 .2 .7 .1 0 .4-.3 .3-.3 .3-.1 .1 .6 .1-.2 .1 .4 .1 1.2 0 .8 .1-1 .1 1.3 .1 0 .1 .6 0 1 .1 .8 .1 .4 .1 .1 0 .3 .1 .2 .1 .4 .2-.2 .2 1.1 .2-.6 .2 .4 .2 .9 .3 .3 .1 0 .1 1.4 .1 .1 .1 .4 .2 .5 .1 .2 .1 .3 .2 .8 .1-.3 .1 .9 .1 .3 .1 .4 .4 .5 .3-.9 .3 1 .3 0 .3-.2 .3 .3 .3-.3 .4-.4 .3-.2 .3 0 .3-.3 .3-.5 .2 .8 .1 .1 .2 .5 .2-.5 .2 .8 .1 1 .2 .5 .2-.7 .1 .8 .2 .4 .2 .4 .3-.3 .3-.6 .3-.2 .3-.1 .3-.4 .4-.2 .3 .2 .3-.9 .1-.6 .1-.6 .2 .4 .1-.5 .1-.8 .2-1 .1 1 .1-1.8 .2 1 .1-1 .1-.6 .2-.4 .1 0 .1-.7"/>
<path class="c" stroke-width="1.40" d="M591.2 245l.2 .4 .2-.4 .2 .8 .1 0 .2 1.5 .1 .2 .1 .7 .1 .6 .1-.7 0 2 .1 .4 .1-.5 0-.4 .1 .8 .1 1.6 0 .6 .1-.6 .1 .2 0 .9 .2-.1 .2 1.8 .1-.6 .2-.3 .2 1.1 .1-.1 .1 1.2 .1 .5 .2-.3 .1 .6 .1 .5 .1 .2 .1 .3 .1 .4 .1 .5 .1 .6 .1-.1 .1-.6 .1-.1 .1-.1 0-2.2 .1 .4 .1 .3 .1-1.2 0-.7 .1 .2 .1-.9 .1-.5 0-.1 .3-.6 .3-.2 .2-.4 .2 .1 .3-.8 .4-.2 .3-.4 .4 .9 .4-1 .1 .4 0 .4 .1 .4 .1 .1 0 0 .1 1.4 .1 1.2 0-1.4 .1 .8 .1 1.2 0-.3 .1 1.1 .1 .1 0 .2 .1 .7 .1 .3 .1 .3 0 .9 .1-.6 .1 1.4 .1 1 .1-.3 .1 .5 .1-.1 0 1 .1 .1 .1-.1 .1 .5 .1 .5 0 .9 .4-.1 .3-.5 .3 .2 .3-.9 .2-.3 .1-.1 .2-1.7 .2-.4 .1 .1 .2-.1 .1 .3 .1 .7 .1 .2 .1 .4 .1 .5 .1 .5 .1 .4 .1 .5 .1-.1 .1 .7 .1-.4 .1 .6 .1 1 .1 .8 .1-.2 .1 .2 .1 1.2 0 .2 .2-.7 .1-.8 .1-.3 .2-.6 .1-.5 .1 .3 .1 .6 .1-1.6 .2-.3 .1-.1 .4 .5 .4-.7 .5-.2"/>
<path class="c" stroke-width="1.43" d="M607.8 263.1l.1-.4 .2 .5 .2-1.9 .2 .3 .1 0 .2-.5 .2-.5 .3-.8 .2-.4 .3 1.2 .3-1.3 .3-.4 .2-.1 .4 .4 .3-1.7 .4 .7 .3-.1 .1-.2 .1 1.9 0-1.1 .1 1.1 .1 0 .1 .8 .2 .5 .1 .5 .2 .2 .1 .2 .2 .8 .2 0 .1 .3 .2 1.1 .1 .4 .2-.5 .1 .9 .4-.3 .3 .4 .3 1 .3 .1 .2-.9 .3 1.1 .2-1.2 .2-.3 .3 .1 .2-1.2 .2 0 .3 .5 .2 .4 .2 1 .3-1.3 .2 2 .2-.2 .3 0 0 .6 .1 .8 .1-.2 .1 .5 .1 1.1 .1-.4 .1 1.4 .1 .6 .1-.3 .1 .4 .1 0 .1 .4 .1 .8 .1 .9 0-.5 .1 .9 .1 .6 .1-.3 0 .6 .1 .4 .1 1.9 .1-.3 0 1.2 .1 .4 .1 .1 .1 .6 0-.6 .1 .4 .1 1.2 0 0 .1-.1 0-1.2 .1 .5 0-.8 0-.2 .1-.3 0-.1 0-1.8 .1 0 0 .5 0-1.6 .1 .2 0-.9 .1-1.4 0 .1 0 .6 .1-1.4 0-1 0 .2 .1-.1 0-.3 0-.5 .1-.5 0-.5 .1-.9 .1-.3 .1-.6 .1-.2 .1 .2 .2 .3 .1-1.6 .1 .5 .1-.5 .1-1.7 .1-.1 .1-.1 .2-.2 .3-1.5 .2 1.8 .3-2.2 .2 .5"/>
<path class="c" stroke-width="1.50" d="M624.6 262.2l.2 0 .1 1.3 .2-.5 .1 1.5 .2-.9 .1 2 .2-.8 .1 1.3 .2 .5 .1-.7 .1 1 .3-.8 .2-.9 .2-.2 .2 1.2 .2-1.1 .2 .1 .3-.8 .1 1 .2 .5 .1 .2 .2-.5 .1 .5 .2 .8 .1 .6 .2 0 .1 .8 .1 .2 0 .1 .1 .6 .1 1.4 .1-.3 0 1.3 .1-1.2 .1 1.7 .1-.1 .1 .8 0-.6 .1 1.1 .1 .2 .1 .4 0 .5 .3-1 .2-.7 .2 .4 .2 .3 .2-.6 .2-.4 .3-.5 .1-.2 .2-1.3 .1 1.1 .2-1 .2-1.1 .1-.2 .2 .8 .2-1 .1-1.1 .2 .2 .2 .5 .3-2.3 .2 1.7 .3-.9 .2-.9 .3-.3 .4 1.8 .3 .3 .3-.1 .3-.4 .2 .7 .2 .3 .2 .4 .2-.2 .2 1 .2 1 .2-.5 .2 .4 .2 .4 .2-2 .3 .7 .3-1.3 .2-.1 .2 .5 .3-.2 .3-.7 .2-.4 .2 0 .1-.8 .1-.2 .1-1.1 .1 .3 0-.7 .1-1 .1 .8 .1-1.7 0 .8 .1-.5 .1-.4 .1-.6 0-.5"/>
<path class="c" stroke-width="1.49" d="M641.2 261.9l.3 .7 .3-.2 .2-.3 .2 1.3 .3-.3 .3 .7 .3-.2 .4 .3 .4-.7 .3 .6 .2 .7 .2-.8 .1 2 .2-.4 .2 1.3 .1 .2 .2 0 .2 .1 .1 .3 .2 .3 .1-.9 .1-.2 .1-.7 .1-.3 .1 0 .2-.8 .1 .2 .1-.6 .1-.5 .1 0 .1-.6 .4 .3 .4-1.2 .4 .8 .5 .1 .1 1.1 .2-.2 .1 .7 .2-.5 .2 1.8 .2 .6 .1-.2 .2 0 .1 .5 .2 .4 .1-.4 .1 1.6 .1-.2 .1 .9 .1 .4 .1 .2 .2 1.2 .1 0 .1-.4 .1 .6 .1-.1 .2-.3 .1-.7 .1 .5 .1-1.7 .1-1.2 .2-.1 .1 .6 .1-1.3 .2 .3 .1-1.1 .1 .1 .3 .6 .3-.1 .3-.1 .3 .9 .1 .3 .1 .5 0 1.1 .1 0 0 .2 .1 .7 .1 1 0 .1 .1 1.2 0-1.2 .1 1.6 .1-.1 0 0 .1 1.1 0 .5 .1 .4 0 .1 .1 .7 .1-.3 .1 1 .1 .6 .1 1.3 .1-.6 .1 .5 .1 1.2 .1-.5 .1 .2 0 .7 .3-.1 .4 .3 .2-.7 .4-1.2 .3 .7"/>
<path class="c" stroke-width="1.52" d="M657.8 278.8l0-.6 .1 .1 0-1.2 .1 .4 0-.8 .1-1.1 0 .7 .1-2.1 0-.4 .1-.5 0 1.1 .1-1.1 .1 .3 0-1 .1-.2 0-1 .1-.3 0 .5 .1-.7 0-1.5 .1 .5 0-.3 .1-.8 .3 .3 .3-1.4 .3 1.1 .3-.7 .1 .6 .1 .1 .1 1.3 .1 .7 0-.9 .1 .9 .1 .1 .1 .7 0 1.4 .1-.8 .1 1 .1 .2 0 .4 .1-.4 .1-1 0 .4 .1-1.4 .1 .7 0-1 .1-.2 .1-.9 0-.7 .1-.6 .1 .4 0-.5 .1-.2 .1-.8 0 .2 .1-.8 .1-.5 0-.5 .1-.4 .1 .4 .1 .8 .1-.4 .2-.1 .1 1.6 .1 .5 .1 .1 .1 .5 .1-.5 .1 .7 .2 .8 .1-.4 .1-.4 0-1.2 .1 .7 .1-1.8 .2 1.6 .1-2.2 0 0 .1-.8 .2-.6 .1 .3 .1-1.1 0 .3 .1-.2 .1-.4 .4-.3 .4 .1 .4-1 .4 .9 .2-.4 .2 .2 .2 2.1 .3-.2 .2-.9 .2 2.1 .3-.4 .1-.2 .1 0 .1-.4 .1-.1 .1-2.6 .2 .8 .1-1.1 .1 1.1 .1-1 .1-.8 .1-.5 .4 .1 .4-.8 .4 1.3 .4 .1 .1-.7 .1 .5 .1-.6 .1-.9 .1-.7 .1 .7 0-1.6 .1 .8 .1-1.1 .1-.8 .1 .1 0 .1 .1-2 .1 .6 .1-.7 .3 .7 .3-.3 .3 1.5 .3-.4 .3-.2"/>
<path class="c" stroke-width="1.56" d="M674 256.9l.2-.1 .2-1.4 .2 .8 .2-1.9 .1 1 .2 .2 .2-1.8 .2 .1 .1 .1 .1-1.5 .1 .2 .1 0 .1-2 .1 .9 .2-1.3 .1-.3 .1 .8 .1-1.2 .1 0 .1-.7 .1-.3 .1-.1 .1-.9 .1 .5 .1 .2 .1 .6 .1 .9 .1 .3 .2-1.1 .1 1.5 .1 .8 .1 1 .1-.9 .1 .7 .1 .5 .1 0 .1 .8 .1-.5 .1 .8 .1 .9 .1-.7 .1 1.4 .1 .1 .1 1.8 .1 .4 .1 .2 .1-.2 .1 .5 .1 .8 .2 1 .1-1.1 .1 2.1 .1-1.4 .1 2 .1-1.5 .2 1.3 .1 .5 .1 .5 .2-.5 .2-1.3 .2 .9 .2-.7 .2 .6 .2-1.2 .1-.3 0-1.1 .1 .2 0 .1 .1-1.1 0-.9 .1-.9 0 .3 .1-.9 0 .1 .1-.5 0 .9 .1-2.3 0 .6 0-1.6 .1 .7 0 .2 .1-1.7 0-.9 .1 .5 0-.5 .1-.8 0 .2 .1-.6 0-.3 .1-.6 .1-.2 0 1.4 .1 .8 .1-1 .1 2.2 .1-.5 .1-.9 0 .6 .1 .7 .1 .5 .1 .8 .1 .8 .1 .1 0 .4 .1 .5 .2 0 .1-.1 .1 .8 .2 0 .1 2.2 .2-1.5 .1 2.3 .1-1.1 .2 1.2 0 .3 .1 .5 .1-.3 0 .4 .1 1.9 .1-1.2 0 1.2 .1 .5 .1 1 0-1.2 .1 2.4 .1-.6 0 1 .1-.7 .1 1 .1 0 .1-.9 0 .1 .1-1.4 .1 .7 .1-1.1 .1-1.7 .1 2 .1-2.2 .1 .5 .1-1 0-.6 .1-.4 .1 .4 .1-.5 .1-.6 .1-.8 .3-1.3 .3 1.4 .3-2.1 .3 .7 .1 1 .1 .1 .1 1 .1-.4 0 .6 .1-.3 .1 2.2 .1-1.1 .1 1.6 .1-1.1 0 .9 .1 .3 .1 .6 .1 .3 .1 .6"/>
<path class="c" stroke-width="1.61" d="M690.9 262.5l.1 .8 .1 .5 .1-1.2 .1 1.2 .1-.3 .1 2.4 .2-1.3 .1 1.5 .1 .1 0-.3 .1-.5 .1-1.4 0 1.5 .1-1.5 .1 .2 0-.1 .1-2.2 .1-.5 0 1.6 .1-.4 .1-2.3 0 .2 .1 .2 .1-1.1 0 .1 .1-.9 .1-.2 0-.7 .1 0 0-1.2 .1 1 .1-2.1 0 1.3 .1-.3 .1-3 0 2.1 .1-2.8 .1 .7 0 .5 .1-.7 0-.8 .1-.7 .3 .4 .3 .1 .3 .3 .3-.2 .1-.5 .1-.5 .1-1.1 .1 1.5 .1-1.5 .1 .8 0-.9 .1-.7 .1-1.8 .1 .3 .1-.1 0-.6 .1-.5 .1-.8 .1 .1 .1 .4 0 .4 .1 .3 .1 .5 0-.4 .1 .8 0 2.3 .1-1.6 .1 .8 0 .2 .1 1 0 .2 .1 2 .1-1.5 0 2.3 .1-1 .1 1.1 0 .8 .1-.2 .1 .4 .1 .4 .1-.6 .1 1.2 .1 .5 .1 .7 .1 .5 .1-.6 .1 .8 .2 .9 .1 .1 .2-1 .2-.2 .2 .2 .1-.8 .2-.4 .2-.5 .1 0 0 .9 .1-.6 .1 2.6 0-1.3 .1 2.3 .1-1.2 0 .7 .1 1.6 .1-.4 0 .4 .1 .1 .1 .6 .1 .3 .1 0 .1 .3 .1-.2 .1 1.6 .1-.1 .2 2 .1 .1 .1-.3 .1 .1 0-1.5 .1-.1 .1-.3 .1-1.4 0 1.7 .1-.9 .1-.8 .1 .5 0-1.2 .1-1.1 .1 .1 .1-1.1 0 .3 .1-1.8 .1 .9 .1-1 0-.4 .1-.4 .1-.3 .2-.4 .2-1.4 .3 1.3 .2-1.1 .2 .9 .3-1.4 .2-.4 .2 .9 .2-.1 .2 .3 .2-.6 .1 1.1 .2 .3 .2 .1 .2 1.1 .2-.5 .2-.7 .2 .4 .3 .3 .2-1.5 .2 .6 .2-1.1"/>
<path class="c" stroke-width="1.45" d="M708 255l.1 0 .1-.4 .1-1.1 .1-.1 .1 .5 .1-.4 .1-.5 .1-2.6 .1-.4 .1 1.8 .1-.9 .1-.1 .1-1 .1-.9 .1-.2 .1-.6 .3 .4 .2 1.3 .2 .1 .3-1.1 .2 .6 .2 1.4 .2-.2 .3 .3 .4-.5 .2-.2 .4-1.3 .3 .5 0-.7 .1 .1 .1-1.6 .1 .8 .1-.3 .1-.4 .1-.3 .1-.1 .1-1.2 .1-1.1 .1-.7 .1-.2 .1 .1 .3-.3 .3 .3 .3-1.8 .3 .5 .1-.4 .1-.7 .1-.3 .1-.2 0-.5 .1-1.3 .1 1 .1-1.1 .1-1.4 0 1.2 .1-.1 .1-1.6 .1 .6 0-1.8 .1 .1 .1-.4 .3 .5 .3 0 .3-.8 .3-.1 .3-.8 .1-.5 .1 0 .1-.2 .1-.4 .1-.7 .1-.1 .2-.7 .1-.3 .1-1.8 .1 .9 .1-1.3 .1-.1 .1-.2 .1-.4 .1-.5 .1-.1 .1 .7 .2 .8 .1 0 .1 .7 .1 .5 .1 .4 .1-.1 .2 .8 .1 .5 .1 .2 .1-.9 .2 .6 .1-1.5 .2 .5 .1-.2 .2-.4 .1-1.7 .2-.1 .1-.5 .2 .5 .1-.7 .2 .5 .2-.6 .2 1.9 .1 .7 .2-.8 .2 .7 .2 .5 .2 .2"/>
<path class="c" stroke-width="1.61" d="M724 231.2l.2 0 .1 .6 .2 1.1 .1-.3 .2 .6 .1 .5 .2 .9 .1-.2 .1 .5 .1 .6 .1-.1 .1 1.6 .1-.4 .1 .4 .1 1.5 .1 .4 .1-1.2 .1 .8 .1 1.3 .1-.4 .1 .6 .2 .5 .2-1.3 .2 .8 .2-2.1 .2 .2 .1-.9 0-.6 .1 1.1 0-1.7 .1-.2 .1-.6 0-.6 .1 .4 0-.5 .1-1 0-.3 .1 .8 .1-.8 0-.5 .1-.8 .1 .9 0-.1 .1 1.1 .1 .8 .1-1.2 0 2.2 .1-1.9 .1 .4 .1 .5 .1 .8 0 .5 .1 .8 .1 1.3 .1-.5 0 .7 .1 .6 .2-1.1 .2-.7 .2 .6 .1-.9 .2 1 .2-1 .2-.5 .4-.7 .3 1.9 .4-1.4 .4 1 .4 .5 0 .1 .1 .4 0 .5 .1-.1 .1 .8 0 .7 .1 1.3 0 .5 .1 1 .1-2.1 0 1.4 .1 1.9 .1-1.7 0 1.3 .1 1.2 .1 .8 0-.2 .1 .3 0 .2 .1 .4 .1 .8 0 .2 .1 .6 .1-.3 .1 .9 0-.3 .1 .3 .1 .6 .1 .5 0 .6 .1 .5 .1-.2 .1 1.9 0 .4 .1 1 .1-1 0 1.1 .2-.4 .1 .5 .1 .3 .1 1.3 .1-.5 .1 .6 .1 1.7 .1-.3 .1 .5 .2-1.1 .1 .9 .1 .1 .2-.5 .1-1.6 .1 1.1 .1-1.9 .1-.6 .2 .1 .1 .2 .1-1.2 .2-.5 0 .3 .1-.3 .1 1.5 .1-.7 .1 1.3 .1-.8 .1 .9 .1 .4 .1 .7 .1 .1 .1 2.2 .1 0 .1 0 .1 .3 .1-.3 .1 2.3 .1-.8 .2 1.2 .1 .8 .1-.9 .1 1 .1 .2"/>
<path class="c" stroke-width="1.67" d="M740 261.9l0-.3 .1-.8 0-.3 0-.8 .1-1.1 0 .3 0 1 .1-.7 0-.1 0-1.6 0 .4 .1-2 0-.5 0-.6 .1 .9 0-.2 0-2.6 .1 1.6 0-.2 0-.6 .1-2.2 0 .7 0-.3 .1-1.6 0-.2 0 .8 0-1.3 .1-.2 .2 0 .1-.5 .2 1 .2 2.3 .2-.7 .1-.5 .2 .9 .1 .4 .1 .7 0 .7 .1-1 .1 1.7 0-.6 .1 .6 .1 .1 0 .6 .1 1.5 .1-.9 0 1.5 .1 .3 .1 .1 0-1.4 .1-.1 0-.3 .1 .7 0-2.8 .1 1.3 .1-1 0 1 .1-1.9 0 1.1 .1-2.7 0 .8 .1-1.8 .1 .1 0-1 .1 .3 0 .9 .1-1.7 0 .6 .1-.6 0-1 .3 0 .3-.6 .2 0 .2-.6 .3-.1 .2 1.3 .2 0 .2-1.2 .2 1.8 .2 .7 .3 0 .1 .4 .1 .6 .1 .2 .1-.1 .1 1.9 .1 .7 .1-1.2 .2 1.4 .1-1.1 .1 1.8 .1-.2 .1-.9 .1 .1 .1 .3 .1-1.6 .1 0 .1 .5 .1-1.9 .1 .4 .1 .2 .1-1.1 .1-1 .1 0 .2-.6 .1-.4 0-.2 .1 .1 .2-2.3 .1 .9 .1-.2 0 .5 .1-2.2 .1 .4 .1 0 .1 1.4 .1-.2 .1 1.5 .1-.6 .1-.1 0 1 .1 1.5 .1 0 .1 0 .1 .3 0 .4 .3 1 .2 .2 .2 .1 .2 .8 .2-.2 .2-.4 .3 1 0 0 .1-.1 .1-.2 .1-1.4 .1-1.4 0 1 .1-1.3 .1-1.2 .1 1 .1-1.2 .1 .3 .1-.8 0 .4 .1-.6 .1-.8 .1-.2 0 0 .1-1.4 .1 .9 .1-2.6 0 1.3 .1-.1 .1-1.7 .1 0 0-1.6 .1 .2 .1 .2 .1-1.6 0-.4 .1 .3 .1-.6 0-.1 .2-.9 .1-.1 .1-1.3 .1 1.4 .1-.3 .1-1.4 .2-1 .1 0 .1-.4 .1-.9 .1-.3 .1 .1 .2-.6"/>
<path class="c" stroke-width="1.58" d="M756.8 233.1l.1 0 .1 .4 .1 .5 .1-.1 .1 1.4 .1-.9 .1 2.3 .2 .1 .1-.1 .1 .8 .1 0 .2 1.1 .1-.6 .2 .7 .2 0 .1 .7 .2 .6 .1-.6 .1-.2 0-.1 .1 .3 .1-1.2 .1 .1 .1-1.4 .1 1 .1-1.5 0-.7 .1-.5 .1-.2 .1-.6 .1-.2 0-.4 .2 .4 .2-1.1 .2-1 .2-1 .1 .8 .2-.8 .2 .1 .1-.7 .1 0 0-.3 .1-.3 .1 .1 .1-2.1 0-.2 .1-.6 .1-.5 .1-.1 0-.5 .1 .3 .1-.7 .1 0 .1 1.7 .1-1.4 .1 2.1 .1-1.4 .1 1.2 .1-.2 .1 1.5 .1 .8 .1-.2 .1 .3 .1 .4 .1 .8 .3-.7 .3-.3 .3 .1 .3 .3 .2 .4 .1 1 .2-.8 .1-.2 .2 1.3 .1 1.2 .2-.7 .1 1 .1 .5 .1-.2 0 .2 .1 1.3 .1-.7 0 1.2 .1-.4 .1 .7 0 1.6 .1-.3 0 .2 .1 1.5 .1-.7 0 .3 .1 1 0 .7 .1 .6 .1 .2 0 .9 .1 .1 0-.3 .1-.6 0 .3 .1-2 0 .6 .1-1.2 0 1.2 .1-1.3 0 0 .1-.7 0 .4 .1-2.1 0 .8 .1-2.4 0 1.3 .1 0 0-.7 .1-.7 0-1.9 .1 .7 0-.7 .1 .6 0-1 .1-.4 0-.3 .1-.9 0-.2 .1-1.2 0-.3 .1-.9 0 1.3 .1-1.4 0-1.3 .1 .9 0-1.1 .1-.4 0 .9 .1-2.7 .1-.4 0 .6 .1-.5 0 .6 .1-1.5 0 .2 .1 .1 0-2.1 .1-.3 0-.1 .1-.2 .2-.4 .3-1.1 .3 .8 .2-1.2 .2 1.1 .3-1 .2-.1 .2-.1 .1-.7 .2-.4 .2-1.6 .2 .6 .2-.2"/>
<path class="c" stroke-width="1.59" d="M772.8 216.9l.1-.3 .1 1.9 .1-1.3 .1 .5 .1 .7 .1 2.1 .1-1.8 .2 2.5 .1-.7 .1 1 .1-.3 .2 .3 .2 0 .2 .8 .3-.1 .2 .3 .2 1.3 .2 0 0-.7 .1 .2 0-.5 0-.2 .1 0 0-.7 0-2 0 1.4 .1-2.7 0 1.8 0-.5 .1-2.3 0 1.5 0-2.6 .1 1.4 0-1.4 0-.4 .1-.3 0-.6 0-.2 .1-.2 0-.7 .1-.4 0-.4 .1-.7 0-1 .1 .9 0-.2 .1-2.2 0 1.4 .1-.2 .1-1.3 0 .6 .1-2.6 0 1.5 .1-1.8 0 .2 .1-.9 0-.1 .1 1.1 .1-.7 .2 1.3 .1-1.4 .1 1.4 .1 .9 .1 0 .1 .5 .1-.8 .1 .8 0-2.3 .1 .7 .1-.7 .1-.5 .1 .4 .1-.8 .1-.7 0 .1 .1-.8 .1-.4 .3 0 .3 .4 .3-1.1 .3-.5 .3-.3 .1-.7 0 .6 .1-.6 .1-.6 .1-.6 0-1.4 .1 .3 .1-.2 0-1.6 .1-.2 .1 .2 .1 .5 0-1.1 .1-.6 .1-1 .1 1 .1-.6 .2-.4 .1-1.5 .1 0 .1 .9 .1-.8 .1-.3 .1-1.9 .2 .2 0-.1 .1 .7 .1 .1 .1 .5 0 1.5 .1 1 .1-1.9 .1 2.1 .1 .7 0-.1 .1 1.3 .1 .2 .1-.9 0 1 .1 .5 .1 .3 .2-.1 .1 .8 .2 1.3 .1 0 .2 .1 .1 1.6 .2-.3 .2 .7 .1-1 .2 1.8 .1-.5 .2 .6 .2-.4 .3-.6 .3-1.1 .3 1.3 .2-1.5 .3 .4 .2 .1 .2-1.5 .2 1.3 .1-1.2 .2 .3 .2-2.1 .2 .7 .2-.7"/>
<path class="c" stroke-width="1.66" d="M789 200l0-.2 .1-.6 0-.6 .1-.7 0-1 .1 .8 .1-1.7 0-.3 .1 .6 0-1.8 0 0 .1 .8 0-1 .1-.6 .1-1 0 .4 .1-1.8 0 .3 .1 .7 0-1.8 0 .2 .1-.6 0-1.1 .1-.5 0 0 .1-.3 .1-.5 0 0 .1-.3 0-.5 .1 .7 .1 .3 .1-.7 .2 2.4 .1-.4 .1 .7 .1-1.3 .1 2.3 .1 .5 .1-.3 .2 .1 0 .9 .1-.4 .1 .9 .1 .3 .1 1 0 0 .1 .5 .1-.6 .1 .2 .1 1.4 .1 1.5 .1-1.3 0 1.4 .1 .6 .1-.1 .1 .1 .1-.1 .1 1.6 .1 .1 .1-.3 .1 2.5 .1-.2 .1-.3 .1-.6 .1 2.4 .1 .3 .1 .1 0 0 .2 1 .1-.7 .1 .3 .1 1.8 .1 .1 .1 .1 .1 0 .1 1.8 .1-.3 .1 1 .1-1.3 .1 1.4 .1 .7 .1 .7 .1-.7 .1 1 .1-.5 .1-.8 .1 .1 .1-.6 .1 .1 .1-.1 .1-.9 .1-.7 .1 .3 .1-.1 .1-1.4 .1-.4 .3-.7 .3 1.5 .4-.6 .3 .2 .3-1.7 .3 .1 .1 .3 0 .4 .1 .5 0-.4 .1 1.9 0-1.2 .1 .4 0 1.5 .1-.5 .1 1.7 0-.9 .1 .2 0 .4 .1 .6 0 1.4 .1 2 0-.3 .1-.7 .1 2.2 0-.6 .1-.8 0 .5 .1 .5 0 1.1 .1 .8 0 .2 .1 .6 .1-.6 0-.7 .1 .1 0 0 .1-1.8 0 1.4 .1-2.2 0 0 .1 1.2 0-1.2 .1-1 0-1.9 .1 1 0-.8 .1-.3 0 .7 .1-1.9 0 1.2 .1-1.6 0-.3 .1-.8 0-.2 .1 0 .1-.9 0-.3 .1-1.1 0-.4 .1 .9 .1-.8 0-1.7 .1 .2 0-.2 .1 0 .1-1.9 0 .6 .1-1.8 .1 .1 0 .1 .1 .8 .1-1.6 0 .6 .1-1.2 0-.1 .1-1 .2-.4 .3-1.6 .3-.4 .2 .6 .2 0 .1 .1 .1-1.1 0-.7 .1 .4 0-1.2 0-.5 .1 .1 0-.2 .1-1.4 .1-.7 0 1.7 .1-2.6 0-.4 .1 .2 0-.4 0-.1 .1 .3 0-.7 .1-1.2 0-.4"/>
<path class="c" stroke-width="1.65" d="M805.2 185.6l.2 .5 .1 1 .1-.3 .1 .7 .1-.8 .1 1.9 .2 0 .1-.9 .1 2 .1 1.4 .1-.5 .1-.2 .2 .8 .1 1.1 .1 0 .1 .4 .1 1.5 .1 0 .1 .9 .1-1.7 .1 .8 .1 .7 .1 .7 .1-.4 .1 1 .2 .6 .2-1 .1 1 .2 .6 .2 .9 .2 .3 .1 .2 .1 .1 .1 .9 .1 .5 0 .2 .1 .5 .1 0 0 2.1 .1 .4 .1-.5 0 1.4 .1-1.6 .1 .8 0 .6 .1 1.2 .1-.3 0-.1 .1 .1 .1 .7 0 2.1 .1 0 .1-.7 0 2 .1-.4 .1 .6 0-.6 .1-.4 0-.3 .1-.7 0-.2 .1 .2 0-.3 .1-1.8 0 0 .1-.9 0-.2 .1-.1 0-.7 0 .5 .1-1.9 0 .8 .1-.1 0-1.4 .1-.4 0 .3 .1-1.2 0-.4 .1-.1 0-1.2 .1 .5 0-.7 .1 .5 0 .7 .1-.7 .1 1 0 1.1 .1 .5 .1-.5 0 .5 .1 2.2 .1-.6 0 1.3 .1-2 0 2.1 .1-.4 .1 .5 0 1.7 .1-1.1 .1 .6 0 .7 .1 .7 .1 .2 .2 .6 .1 .7 .2 1.2 .2-.3 .1 1 .2-.1 .1-.2 .1-.2 .1-.7 .1 .6 0-1.7 .1 .7 .1-1.2 .1-1 0 .7 .1-.4 .1-.8 .1 .2 .1-1.3 0-1 .1 .1 .1 .1 .1-1 .2-.2 .3-.2 .3 1.5 .2-.6 .3 2.4 .3-.6 .3 .2 0-.8 .1-.1 .1-1 .1 .6 0 0 .1-.2 .1-.5 .1-1.4 .1 .6 0-1 .1-2 .1 1.7 .1-2.1 0-.1 .1-.7 .1 .2 .1-.8 .1-.9 0-.5 .1-.2 .1-.7 .1 .2 .1 .7 .1-1.5 .1 .3 0 .1 .1-1.8 .1 1 .1-1.4 .1-.4 0-.4 .1 .6 .1 1 .1-1.2 .1 2 .1-.7 .1 .9 0-.6 .1 .1 .1 2.7 .1 0 .1-1 0 .6 .1 .3 .1 1.1 .1 .5"/>
<path class="c" stroke-width="1.64" d="M821.5 198.8l.1 .1 0-1.1 .1-1.3 .1 1 .1-1.7 0-.9 .1 1.1 .1-.8 .1-.3 0 .1 .1-.3 .1-2.4 .1 .8 0 .2 .1-.5 .1-1.5 .1-.1 .1-1.1 .2-.4 .2 .8 .2-.9 .1 .5 .2-1.1 .2-.2 .2-1.3 .3-.5 .3 .4 .2 .4 .2-.9 .1 .9 .1-.6 .1 1.2 .1 .1 .1-.4 .1 .4 .1 2.6 .1-1.2 .1 .7 .1 1 .1 .3 .1 .7 .1-.8 .1 .8 .1 .9 .1 .4 .1-.1 .1 .3 .1 .9 .1-.1 .1-.2 .1-.3 .1-1.2 0-1.5 .1 .4 .1 1.3 .1-1.5 .1-.4 .1-1.9 0 .3 .1 .8 .1-.9 .1-.7 .1-.3 .3 1.2 .3 0 .3 .1 .3-.1 .1 .3 .1 .8 .1 .9 .1-.1 0-.9 .1 1.3 .1 .4 .1 1 .1 1.2 .1-.8 0 .1 .1 1.3 .1 .2 .1-.2 .1 .7 .1 .7 .1 .3 .1 .5 .1-1.1 .1 .3 .2 .4 .1 .5 .1 2.4 .1 .3 .1-.9 .1 1 .2 .4 .1-1.9 .2-.3 .2 1.6 .1-2.9 .2 1.5 .2-.3 .1-.3 .2-.8 .2-.7 .1 .5 .1 1.3 .2-.7 .1 .6 .1 .6 .2-.3 .1 .6 .1 1.6 .2 .3 .1-.2 .1 0 .2 .4 .1 .1 .1 .4 .1 .4 .1 .3 .1 .8 .1 .2 .2 1.5 .1-1.5 .1 1.2 .1 .6 .4 .8 .3-.7 .4 .2 .4 1.1 .4-.4 .4 .3"/>
<path class="c" stroke-width="1.67" d="M838.8 206.9l0-.8 .1 0 .1-.2 0-1.8 .1 1.3 .1-2.3 .1 1.3 0-2.2 .1 .9 .1-.7 .1 .6 0-1.5 .1-.8 .1-.7 0 .4 .1-.8 .1 .5 .1-.8 0 .1 .1-.9 .1-.8 .1-.6 0-.2 .1-.7 .1 .8 .1-.7 .1 1.5 .1-.1 .1 1 .1 .9 .1-1.7 .1 1.7 .1 1.5 .1-1.9 .1 2 .1 .2 .1 0 .1 1.4 .1 .3 .1 0 .2-.4 .1 .7 .1-.2 .2-1.5 .1 .2 .2-.5 .1-.1 .1-1 .2-.9 .2 .1 .3-.6 .3 .3 .3 .2 .2-1.6 .3-.3 .1-.5 .1-1 .1 1.4 .1-1.9 .1-.5 .1-.5 .1 1.2 .1-1.2 .1-1.9 .1 .8 .1 .2 .1-1.1 .1-.4 .1-.4 .1 .6 .1-1.7 .1-.4 .1 .3 .1 .3 .1-1.3 .1-2.1 .1 .7 .1-.5 .1 .1 .1-.8 .2 .1 .2 .7 .1-.9 .2 .3 .2 1.6 .2 1.2 .2-.5 0-.8 .1-.9 .1 1.3 .1-1 0 0 .1-1.3 .1-.1 .1-.7 .1-.4 0 .9 .1-2.1 .1-.4 .1-.1 0-.5 .1 .2 .1-1 .1-.5 0-.1 .1-1.5 .1 .8 .1-.3 0-.4 .1-2.4 .1 .3 .1-1.2 0 2.2 .1-1.8 .1 .8 .1-.5 0-.8 .1-1.6 .1-.1 0-.4 .2 .1 .2-2 .2 2 .2-.3 .2-.9 .2-1.4 .2 0 .2-.6 0-.2 .1 .5 .1 .7 .1 .1 0 2.2 .1-.3 .1-1.3 .1 2.8 .1-.1 0-.3 .1 0 .1 2.2 .1-.5 0 .4 .1-.4 .1 1.1 .2 .1 .1 1.4 .2-.1 .2-.2 .1 .6 .2-.6 .2 .6 .1 1.8 .2 .1"/>
<path class="c" stroke-width="1.64" d="M855.5 182.5l.1-1 .1-.7 .1 .7 0 .1 .1-1.5 .1 .9 .1-1.3 .1-1.9 0 2.2 .1-2.6 .1 1.7 .1-1.8 .1-.2 .1-.6 .1-.3 0-.8 .1 .3 0 .2 .1-.4 0-1.8 .1 .4 0 .1 .1-.8 0-2.2 .1 2.1 .1-2.4 0-.5 .1 .4 0-.4 .1-1 0-.7 .1-.2 .1 0 .2 .3 .3-.9 .3 2.6 .2-.2 .3-.1 .3 .3 .2 .1 .3-.2 .3 .4 .2 1.6 .3-.9 .3 1.6 .2-.6 .2 .9 .1 .4 .1-.2 .2-.2 .1 1.1 .1-.4 .1 1 .1 .4 .2 .3 .1 1.6 .1-.7 .2 .8 0-.7 .1 .6 .1-.9 .1-.2 .1-1.4 0 .4 .1 .5 .1-1.6 .1 0 .1 .2 .1-1 .1 0 0-2 .1-.3 .1 .1 .1-.8 0 .3 .1-1.2 .1-1 0 1.9 .1-.4 .1-2.1 0-.6 .1-.4 .1 .8 0-.6 .1-.7 .1 .3 0-1.6 .1-.1 .4-1.1 .4 .8 .3-.2 .4-.1 .1-.4 .1-.2 0-1.7 .1 1.7 .1-2.8 .1 1.1 0-.4 .1 0 .1-1 .1-1.2 0 0 .1-.9 .1 .2 .1 .3 .1 .4 .1-.5 0 2.5 .1-1.1 .1 1.3 .1 1.2 .1-.8 0 .1 .1-.2 .1 .8 .1 .5 .1 .8 .1 .8 .1 .1 0 .5 .1 1.2 .1-.1 .1 .3 .1-.9 .1 1.5 .1 .8 .1-1 .1 1.6 .1-.1 .1 .8 .1 .6 .1 .4 .3 .1 .3 .5 .3 .6 .3 .1 .1-.3 .1-1 .1 .7 0-1 .1-.2 .1 .5 .1-.4 0-.5 .1-1.7 .1 0 0-.5 .1-.6"/>
<path class="c" stroke-width="1.57" d="M872.1 166.9l.1 .4 .1 .3 .2 1.1 .1 .7 .1 .7 .1-1.3 .1 1.3 .1-.6 .2 .8 .1-.1 .1 1 0 1.1 .1-1 .1 1.3 0-.7 .1 1.3 .1-.2 0 .1 .1 .8 .1 1.1 0 .5 .1-.3 .1 1.5 0 .2 .1-.5 .1-.9 0 .8 .1-1.6 .1 .1 0 .4 .1-1.3 0-.6 .1 .4 .1-1.6 0 0 .1-.6 0-.7 .1 .6 .1-.9 0 .5 .1-1.3 0-1.9 .1 1 .1-.9 0-.4 .1 .3 0-.8 .1-1.4 .1 .9 0-1.1 .1-.4 0 0 .1 .8 0 .8 .1-.5 0 .6 .1 0 .1 1.6 0-.2 .1 1.9 0-.4 .1 .4 0-.2 .1 1.7 0-1.5 .1 1.8 0 .6 .1-.6 .1 .1 0 2.4 .1 .6 0-.4 .1 1.2 0-.3 .1 0 0 .3 .1 0 0 1.6 .1-.3 0 .5 .1 .6 .2-.2 .2-.2 .2-1.3 .1 .4 .2-.7 .2-.2 .2-.6 .2-.3 .2-.5 .2-1.2 .2 .2 .2 1.1 .2-1.6 .3 .1 .2-.1 .2-1.3 .2 .2 .1-.4 .2-.6 .1 0 .1-.2 .2-.8 .1-.7 .1 .4 .2-1 .1-.5 .3-.4 .2 2.1 .2-.2 .3-.5 .2 .8 .2-.2 .3 .9 .2 .4 .2-.9 .2 2.3 .2-.1 .2-.7 .2 .9 .1-.2 .2-1.5 .1 .1 .1-.8 .2 1 .1-.4 .2-2.1 .1 .9 .1-.3 .2-.8 .1-.3 .3 .6 .2-2.5 .2 1.9 .3-.5 .3-1.4 0-.5 .1-.9 .1 1 0-2.3 .1 .6 0-1.5 .1 .7 .1-.9 .1-1 0 1.1 .1 0 0-2.1 .1 .8 .1-.7 .1-.5"/>
<path class="c" stroke-width="1.47" d="M888.8 160l0-.7 .1-.5 .1 .4 0 0 .1-1.5 .1-1.4 .1 1.5 0-.8 .1-1.8 .1 .3 0-.1 .1-.4 .1 .3 .1 .7 .1-.4 .1 1.6 .1-1.3 .1 1.9 .2-.4 .1 .8 .1 1 .1 .8 .1-.9 .1 .9 .1 .4 .1-.2 .1 1.1 .1-.1 .1-.1 .1 2.3 .1-.2 .1 .1 .1 1.4 .1-1.3 .1 1.3 .1 .3 .1 1.1 .1-.6 .2 0 .1 .4 .1 2 .1 .2 .1-.2 .1 .2 .1-.1 .1-1.1 0-.3 .1 .3 .1-1.6 .1 .4 0-.6 .1-1.1 .1 .4 .1-1.6 .1 .1 0-.9 .1-.2 .1-.1 .1 .1 0-.6 .2 .5 .1-.2 .1 .8 .1 1.5 .1-.4 .1 .6 .1-.9 .1 1.1 .1 1.6 .1-1.4 .1 .8 .2 .6 .1 .8 .1 .7 .1 .2 .1-.9 0 .4 .1-1.6 .1-.2 .1 .5 .1-1.6 .1-.2 0-.2 .1 1.1 .1-2.2 .1 .9 .1-.2 .1-1.4 0-.5 .1-.2 .1-.4 .1-.9 .2-.1 .1-.9 .1-.7 .1-.3 .1 1.2 .1-1.5 .2-.6 .1 .7 .1-.8 .4-.3 .4-.3 .4-.4 .4 .3 .3 .3 .3 0 .3 .2 .3 .4 .3 .4 .3 0 .2-.8 .2 .7 .3-.6 .3-1.4 .2 .2 .1-.7 .2-.7 .1-.2 .2 .4 .1-1 .2-.5 .1 0 .2-1.2 .1 .5 .2-.6 .1-.4 .3-.1 .2-.8 .2 .4 .3-.3 .2-1.1 .2 0 .2-.5"/>
<path class="c" stroke-width="1.33" d="M906.2 148.8l.3-.1 .2 .4 .2 .1 .2 .8 .2-.1 .2 .5 .3 .8 .1-.4 .1-.9 .2 .4 .1-1.2 .1 0 .2-.4 .1 .3 .1-.7 .2-.8 .1-.4 .1-.2 .2-.1 .2-.8 .1-.8 .2 .2 .2-.1 .1-.7 .2-.4 .2 .3 .1-1.2 .2-.2 .4 .2 .3 .3 .4-.1 .4-1.4 .4 .4 .3-.1 .3-.5 .3 .5 .3-.5 .3-.6 .3-.7 .2 0 .1-.5 .1-1.3 .2 1.1 .1-2 .2 .7 .1-.5 .2-.6 .1-.3 .2 0 .1-.9 .2 .1 .1-.7 .2-.9 .1 .3 .2-.7 .3-.6 .3 .4 .4-1.2 .3 .5 .3-.4 .2 .5 .2 .7 .2-.9 .3 .6 .2 .7 .2 .3 0 .1 .1 .9 .1 .9 0 .1 .1 .4 0-.4 .1 1.2 0 .4 .1 1 .1-.7 0 1.3 .1-.4 0 .5 .1 .4 .1 .5 .1 .5 .1-.3 .1 .9 .1 1.5 .1-1.3 .1 1.7 .1 .3 .1-.1 .2 .6 .1-.7 .2 .5 .1-1.2 .2 0 .1-.7 .2-.8 .1 .5 .2-.7"/>
<path class="c" stroke-width="1.39" d="M923 141.9l.4 .3 .4-.9 .3 1.1 .4-.5 .3-.9 .3-.4 .4 1 .3-1 .3 0 .2-.4 .2 .5 .2-1.9 .1 .8 .2-1 .2-.1 .2-.4 .1 .3 .2 0 .1 .9 .2-.2 .2 1 .1-.2 .2 .8 .1 .5 .2 .5 .1-.4 .2 1.1 .1 .8 .2 0 .2 .9 .1-.5 .2 .8 .1 .6 .2 .4 .1-.6 .2 1.2 .2 1 .1-.2 .2 .5 .1 .5 .4-.1 .4 .1 .4-.4 .5 .7 .1-.6 .1-.8 .1 1 .1-1.2 .1-.3 .1-.1 .1-.5 .2-.7 .1-1 .1-.2 .1 .1 .1 0 0-.7 .1-.3 .1-1.4 .1-.1 0 .1 .1-1.1 .1 .8 .1-1.5 0-.2 .1-.6 .1 0 .4 0 .4 .4 .4-.8 .4-.3 .3-.4 .2-.6 .2 .4 .3-.9 .3-.4 .1 0 .1-1 .1-.5 .1-.5 .1-.9 .1 .5 .2-.5 .1-1.3 .1-.3 .1-.3 .1-.1 .1-.6 .1-.1"/>
<path class="c" stroke-width="1.36" d="M939.2 130.6l.2 .7 .1 .6 .1-.4 .1 .8 .1-.3 .1 1.9 .1-1 .1 .6 .1 .8 .1 .1 .1 1.2 .1 0 .1 .4 .2 .3 .1 0 .1 .9 .1 .1 .1 .6 .2 1 .1 .1 .1-.6 .2-.1 .1-.9 .1 .5 .2-1.5 .1-.5 .2 0 .1 .4 .1-1.3 .2-.5 .1-.1 .4-.3 .4-.5 .3 .4 .4-.2 .3-.7 .3 .2 .3-.1 .4-.7 .1 .6 .1 .9 .2-.1 .1 1.1 .1 .3 .2-.5 .1 1 .2-.2 .1 .6 .2-.4 .1-.4 .2-.8 .1 .2 .2-.6 .1 .4 .2-.8 .1-.7 .3-.4 .3-.6 .3-.2 .3-.4 .3-.3 .3 .1 .2-.3 .2-.1 .1 .7 .2 .8 .1-.3 .1 .1 .2 .7 .1 1.1 .2-.3 .1 .7 .2 1 .2-1 .1 .7 .2 1.3 .2 .7 .2-.4 .2 .5 .3-.4 .4 .7 .4-.1 .3 .7 .2-.6 .2-.4 .1-.5 .2-.1 .1-.3 .2-.6 .1-.7 .2 .1"/>
<path class="c" stroke-width="1.34" d="M955.5 135l.3-.4 .2-1 .2 .5 .3-.6 .3-.5 .2 .1 .1 .1 .1-.3 .1-.3 .2-1 .1-.8 .1 .2 .1 .1 .1-1.2 .1-.4 .1-.6 .1-.1 .3-.4 .3 .2 .2-1.3 .2 .2 .2 .7 .1 .1 .2 1.1 .1-.2 .1 1 .2-.9 .1 1.8 .1-.4 .2 .3 .1 1.2 .1-.2 .2-.2 .1 1.1 .1 .2 .2-.2 .1-.7 .2-.6 .2-1 .1 1.2 .2-1.4 .1-.1 .2-.5 .4-.3 .4-.1 .4 .7 .4-.1 .2-.7 .2 .4 .3-1.5 .2 .7 .2 0 .2-1.2 .2 0 .3-.5 .2 .7 .3-.3 .3 .4 .2 .3 .3 1 .3-.3 .4-.3 .4 .4 .4-.1 .4 .4 .1-.6 .2-.7 .1-.4 .2 .1 .1 .2 .1-.3 .2-1.9 .1-.1 .1-.1 .1-.4 .1-.8 0-.4 .1-.2 0-.7 .1-.6 0 .2 .1-1 0-.1 .1-.1 0-.2 .1-.7 .1-.1 0-.8 .1-.9 0 0 .3 .4 .4-.1 .3-.7 .3-.6"/>
<path class="c" stroke-width="1.44" d="M972.4 117.8l.2 .9 .1 .5 .2-.5 .2 1.1 .2-.4 .1 .6 .2 .6 .4 .2 .4-.5 .4-.5 .4 .2 .1-.1 .1 1.4 .1 0 .1 .5 .1-.2 .1 .5 .1 .9 0-.2 .1 1.6 .1 0 .2-.3 .2 .3 .3-.3 .2-1.4 .2 .3 .2-.5 .1 0 .1 .4 .1 1.6 .1-.6 .1 .2 .1 1.3 0 .1 .1 1.1 .1-1 .1 1.1 .1 0 .1 1 .1 .4 .2-.4 .2-.8 .2-.7 .3-.2 .2 1 .2-.8 .1 .3 .1 0 .1 1 .1-.3 .2 1.6 .1 .4 .1-.1 .1 0 .1-.2 .1 1.7 .2 .8 .1-.2 .1 .1 .1 .6 .4 .6 .3-.6 .4-.3 .4 .9 .1 .4 .2 .8 .1-.9 .2 2.1 .1 .7 .1-.6 .2 .1 .1 .2 .1 .9 .2-.2 .1-.8 .2 .6 .1-.2 .1-.6 .2-1.1 .1-1.4 .2 1 .1-1 .1-.6 .1-.5 .1 .5 .1-.8 .1-1.4 .1 0 .1-.3 .1-.3 .1-1.1 .1 1 .1-1.1 .2-.4 .1 .7 .2 .7 .2 .7 .2-.2 .1-.6 .2 .6 .2 .6 .2 .8 .2 .8 .2-1.5 .3 2.3 .2-1 .2 .6 .2 .5"/>
<path class="c" stroke-width="1.48" d="M989.5 132.5l.2-.5 .3 .2 .2-.8 .2-.2 .3-.9 .2 .9 .2-1 .2 .6 .2 .1 .2 1.4 .2-.2 .2 .9 .2-.8 .2 .6 .3 .3 .2-.4 .2 .2 .2-.7 .2-1.5 .2 1 .2-.8 .2-.3 .4 .3 .3 .7 .3-.7 .3 .3 .1-.1 .1-.7 .1-.5 .1-.8 .1-.1 .1-.6 .1 .3 .1-1.7 .1 .5 .1-.6 .1 .4 .1-.1 .1 1.4 .1-.1 .1 .9 .1 .9 .1-.4 .1-.6 .1 .5 .1 1.2 .1 0 .2 .9 0 .9 .1-.1 .1-.4 .1 .4 .1 .9 .1-.2 .1 1.9 .1-1 .1 2 .1-.4 .1 1.3 .1-.6 .1 .9 .1 .3 0 1.1 .1-.9 .1 1.7 .1 1 0-1.3 .1 1.1 .1 1.6 .1 .4 0 .5 .1-.7 .1 .2 .1 .6 0 .4 .1 1 .1 .3 0 .2 .2-.1 .2-1.1 .2 .7 .2-.6 .1-.5 .2 .1 .2-1 .1-.6 0-.2 .1 .2 .1-1.7 0 .8 .1-.5 .1 .1 0-.6 .1-1.8 .1 .9 0-1.6 .1-.6 .1 0 0 .3 .1 .4 0 .1 .1 1.5 0 .2 .1 .5 0-1.1 0 2.6 .1-.3 0 1 .1-.2 0 .4 .1 .7 0 0 .1 1.1 0-.7 .1 .1 0 1 0 .5 .2 .4 .1 .6 .1 .3 .1 .6 .1 .4 .1 0 .1 .9 .2 .4 .1-.5 .1 .3 .1 1 .1 .5 .2 .6 .1 .9 .1 .4 .1-.2 .1 .9 .2-.7 .1 .7"/>
<path class="c" stroke-width="1.56" d="M1005.5 152.5l.1 .2 .1 1.5 .1-1.3 .1 1.3 .1-.4 .1 .4 .1 2.4 .1-1.5 .1 2 .1-.2 .1-.6 .1-.7 .1-1 .1 .7 .1-.1 .1-.4 .1-1.7 .1 1.4 .1-1.4 .1-.2 .1-.4 .1-.6 .1-.7 .3 0 .4 .7 .4-.7 .3 .7 .3-.2 .2-1.2 .2-.7 .2 .4 .2 0 .2-.2 .2-.7 .2-.2 .2-.5 .3 .2 .2 .6 .2-1 .2-.6 .1 .7 0 .6 .1 .5 .1 .2 0 .8 .1 .6 .1-.5 .1 .3 0 .7 .1 .4 .1 .8 0-.2 .1 .4 .1 .9 0 .6 .1 .1 .1 0 0 .9 .3-.5 .1 .5 .3-1.3 .1 .6 .2-1.1 .1-.7 .1-.3 0 .1 .1-.1 0-1.5 .1 .9 .1-1.4 0-.2 .1 .4 0-1 .1-1.3 .1-.3 0-1 .1 .9 0-1 .1-.1 0-1 .1 .1 .1-.9 0-.8 .1-.2 0 .8 .1-1.5 .1 .6 0-.3 .1-.3 0-1.4 .1-.1 0-1.7 .1 .5 .1-.6 0-.4 .1 0 .1-1.8 .1 .3 .1 .9 .1-1.4 0-1 .1 0 .1-.6 .1-.5 .1-.3 .2 .7 .2 .3 .1 1.1 .2 .5 .2-.2 .2 0 .1 .1 .2 1.2 .2-1.5 .2 2.6 .2-1.8 .1 1 .2 .7 .2 .3 .1-.2 .1 .6 .1 1 .2 .6 .1-1.1 .1 .3 .1 2.2 .1-1.2 .1 1.6 .1 .4 .2 .2 .1 .8 .2-.5 .2 .3 .2 2 .1-.9 .2-.1 .2 .9"/>
<path class="c" stroke-width="1.57" d="M1022 147.5l.1-.2 .1 .9 .1 1.7 .1-.1 .2-.9 .1 0 .1 1.1 .1 .8 .1 .4 .1 .6 0 .6 .1 1 0-1.5 .1 .3 0 1.6 .1 1 .1-.5 0 1 .1 .2 0 .5 .2 .2 .2-1.1 .2-.6 .1 .4 .2 0 .2-1.7 .2 0 .2-.7 .1 0 .3-.3 .3 2 .2-1.2 .2 .5 .3 .4 .3 .5 0-.8 .1-.2 .1-.4 .1 0 0-1.2 .1-1.2 .1 .7 .1 .2 0 0 .1-1.5 .1-.5 .1-.6 .1-.1 0 0 .1-1.2 0-.4 .1-.2 .1-.6 0-.2 .1-.2 0 .4 .1-1.1 .1-.6 0-2 .1 2 .1-1.2 0-.2 .1-1.3 .1-.3 0-.6 .1-.3 0-.5 .1-.3 .1-.1 .1-.1 .1-1.1 .1-.6 .1 .4 .1-1.3 .1 .3 .1-1.5 .1 1.2 .1-1.8 .1 .2 .1-.2 0-1 .4 .1 .4-.6 .4 .5 .4-.6 .3 1.1 .3-2 .3 1.1 .3 .4 .1 .3 .2 1.1 .1-1.2 .2 2.1 .1-.2 .1 .8 .2-.6 .1 1.6 .1-.2 .2 1.1 .2-.2 .2 .8 .2-.9 .2 .1 .2 1.4 .2 .4 .2 .4 .4 .5 .4-.4 .4-.9 .4 .8 .2-1.2 .3 1.4 .2-.5 .3-1.2 .2-.3"/>
<path class="c" stroke-width="1.51" d="M1038.6 139.4l.2-.5 .1 .1 .1-1.2 .2-1.1 .1 1.6 .2-2.4 .1 .3 .1 .4 .2-1 .2-.1 .1 .2 .2-.1 .2-1.2 .2-1.5 .1-.1 .2 .3 .1-.9 .1 .5 .1-1.8 .1 .4 .1-.2 .1-.3 .1-.7 .1 .5 .1-1.1 .1 0 .1-1.2 .1-.3 .1-.5 .1-.3 .1-.3 .1-.1 .1-1.3 .1 .4 .1 .2 .1-2.6 .1 1.1 .1-.9 .1-.5 .1-.5 .1-.2 .1-.1 .1 1.1 .2-.3 .1 1.9 .1-.3 .1 1.2 .1-.6 .1-.7 .2 1.6 .1 .3 .1 .3 .3 .9 .3-1.4 .3 1.5 .3 .2 .1 1 .1-.1 .1-.6 .1 1.7 .1 .5 .2 1.1 .1-.2 .1-.8 .1 2 .1 0 .1 .5 .1-.1 .1 .4 .1 1.1 0-1.2 .1 .5 .1 1.9 .1 1 .1-.2 .1 .1 .1 .3 0 .5 .1-.6 .1 .3 .1-1.8 0 .5 .1 .4 .1-2.5 .1-.5 0-.1 .1 .4 .1-.1 .1-1.3 0 .6 .1-1.4 .1-.9 .1 .9 0-.9 .1-.5 .4-.4 .4-.5 .5 1.1 0 0 .1 .4 .1 1.4 .1-.6 .1 .1 0 .8 .1 1.5 .1 .5 .1 .9 .1-1.2 .1 2.1 .1 .3 0-.2 .1 .6 .1 .1 .2 .3 .1-.8 .2-1.3 .1 .7 .2-.6 .1-.2 .2-.2 .1-1 .1 .4 0 .3 .1 1.5 0-.4 0-.6 .1 1.7 0 .9 0-1.2 .1 1.9 0-.2 .1 .1 .1-1.5 .1 .3 .1-.2 0-.3 .1-.6 .1-.1 .1-1.6 .1 0 .1-.3 0 0 .1 .1 .1-.8 .1-1.3 .1 0"/>
<path class="c" stroke-width="1.55" d="M1054.9 131.9l.2-.2 .2 .4 .2-.3 .2-.3 .2-1.5 .2 .1 .2-.8 .2-.5 .1-.1 .1 .9 .1 .1 .1-.2 .1 1.2 .1 .3 .1 .5 .1 1.2 .1-.9 .1 1.2 .1 .5 .2 .3 .1-.3 .1-.3 .1-.5 .1-1.7 .1-.3 .1 .3 .1-.2 .1-.2 .1 .2 0 .4 0 .6 .1 1.5 0-.5 .1 1.1 0 .4 .1 .1 0 1.1 0-.9 .1 .8 0-.4 .1 1.4 0 1.2 0-.9 .1 1 0 .4 .1 .5 0 .3 .1 .8 0 .3 .1-.9 .1 .1 0 .4 .1-2.1 .1 1 .1-1.6 0-.4 .1 1.2 .1-1 .1-.5 .1 .1 0-1 .1-.9 .1-1.1 .1 .5 .1-.7 0 .1 .1-1.1 .1-1 .1-.6 .1 1 0-2 .1 1 .1 0 .1-1.5 .1-.8 .1 .2 .1 .6 0-1.9 .1-.1 .1-.1 .3 .2 .3-1 .3 1.2 .3-1.1 .2-.6 .1-.8 .1-.7 .1 .3 .1 .6 .1-1.2 .1-.9 .1-1.1 .1 .9 .1-1.1 .1 1.1 .2-2.2 .1-.4 .1-.2 .1 .1 .1-.3 .1-.2 .1-.6 .1 .3 .1-.8 .1-1.5 0 1.2 .1-2.2 .1 .4 .1-.6 .1 .2 .1-1.1 .1-.4 .3-.2 .2-1.6 .2 .7 .3-.2 .2 .5 .2-2.1 .3 .4 .2-.3 .2 1.6 .2 .9 .2-.7 .2-.8 .2 .7 .2 1.1 .1 .3 .1 .1 .1 1.2 .1 .9 0 .2 .1-.9 .1 .6 .1 .9 .1 .9 0 .5 .1-.3 .1 1.5 .1 .1 0-.2 .1 .7 .1 .3 .1 1.1 .2 .2 .1-.2 .2 .4 .1 1.4 .1 0 .2 .2 .1-.1 .2 .8"/>
<path class="c" stroke-width="1.54" d="M1071.8 125l0-.5 .1-.3 0 .2 .1-1.9 0 .4 .1-1.2 0-.8 .1 1.7 0-2.5 .1 1.6 0-.6 .1-.9 .1-.8 0-.5 .1 0 0-.5 .1-.4 0-.4 .1-1.7 0-.3 .1 .3 0-.5 .1-.4 .1-1.1 .2 .9 .1-.7 .2-.5 .1 .2 .1-.8 .2-1 .1-.6 .1-.2 .4 .9 .4-1 .4 0 .3 .1 .4 .7 .3 .3 .4-.4 .3-.5 .3-.1 0 .8 .1-.2 0 1.3 0-.4 .1 .7 0 .4 .1 .8 0 1.3 .1-1.1 0 1.8 0 .6 .1-.7 0 0 .1 .1 0 1.3 0 1.4 .1-.6 0 .7 .1-.1 0 1 0 .3 .2-.3 .1 .1 .1 0 .1-.5 .1-1.9 .1 .1 .1-1.3 .2 .4 .1-1 .1 1 .1-1 .1-1 .1 .6 .1-.6 .2-1.6 .1 1.3 .1 .1 .1-.4 .1-1.7 .1 .2 .1-.7 .2-.5 .3 1.1 .3-.6 .3 1.1 .4-1.3 .3 .9 .1-.7 .1-.7 .1 .1 .1-1.2 .1 .7 .2-1 .1-1 .1 .8 .1 .1 .1-.8 .1-.6 .1-.3 .1-.7 .2-.4 .1-1.3 .1 1.8 .1-2.7 .1 .1 .1-.5 .2-.3 .1 .4 .1-.5 .2-.7 .1-.4 .2 .2 .2-1.6 .1-.4 .2 .9 .2-1.2 .1-1 .2 1 .2-1.4 .2 .2 .1 .4 .2 .4 .1 .6 .2 .4 .1-.2 .2 .7 .1-.3 .2 1.1"/>
<path class="c" stroke-width="1.51" d="M1088 103.1l.2 .5 .2-.9 .2 1.9 .2-.8 .2 1.4 .2-.2 .1-.5 .1-.1 .1-1 .1-.3 .1 0 .1-.3 .1-1.2 .1-1.2 0 .7 .1 0 .1 0 .1-1.6 .1 .5 .1-2 .1 .2 .1-.5 .1-.2 .2 .5 .2-1.3 .2 .9 .2-1.3 .2-.6 .2-.1 .3 0 .3 0 .3 .9 .2 .3 .3-.5 .3 1.6 .3-.4 .3 .5 .4-1.2 .3 0 .1-.3 .1-.7 0-.6 .1-.7 .1-.4 .1 1.1 0-.4 .1-1.6 .1-.6 .1 .7 .1-1.9 0 .7 .1-1.7 .1 .5 .1-.3 0-.7 .1-.1 .1 0 .1-.4 .1-1.6 .1-1.1 .1-.5 .1-.2 .1 .3 .1-.7 .1 .8 .1-1 .1-.5 .1-.7 .1 .5 .1 .3 .1 .8 .1 1 .1-.4 .1 1.1 .1 .8 .1-.5 .1 .7 .1 .1 .1 .7 .2-.1 .2 1 .2 0 .3 1.1 .3 .2 .2-.4 .1 .6 0-.3 .1 1.9 .1-.2 .1 .8 0 0 .1 .1 .1-.3 .1 1.4 0 .3 .1 1 .1-.2 .1 .7 0 .9 .1 0 .1 .2 0 .6 .4 .7 .3-.3 .3-.1 .3 1 .2-.9 .2-.4 .2-.1 .2-.9 .2-.1 .3 .5 0 .2 .1 .5 .1 .5 .1 .9 0-.7 .1 2.3 .1-.4 .1-1 .1 1.6 0-.4 .1 1.6 .1 1 .1-1.3 0 1.3 .1 0 .1 .8"/>
<path class="c" stroke-width="1.50" d="M1105 104.9l.1-.3 .1 1.5 .1 .6 .1-.8 .2 .6 .1-.1 .1 .9 .1 .7 .3-.4 .2-.3 .3 .4 .3-.8 .2-.5 .3-.3 .1-.4 .1-.1 .1-.4 .1-1.8 .1 .4 .1 .1 .1-1.4 .1-.9 .1-.1 .1-.5 .1 .3 .1-.4 .1-.4 .3 .2 .3-1.6 .3 1.3 .3-.5 .2 .1 .2 .2 .1-1.7 .2 .4 .2-.9 0 0 .1 1.4 .1 .7 0-.2 .1-.1 .1 1.8 0-1.2 .1 2.2 0-1.5 .1 1.7 .1 .3 0 .3 .1-.1 0 .1 .1 2.1 .1-.2 0-.3 .1 .3 .1 1.3 0 .2 .2 .4 .2-1.1 .3-.6 .2 .4 .2-.4 .2-.6 .2 1 .1-.4 .2-.1 .2 .9 .2-.5 .1 .7 .2 .9 .2 0 .2 .5 .2 .5 .3-.7 .2 1.1 .2 .4 .2 .4 .2-1.9 .3 .3 .2-.4 .2 .5 .3-1.2 .2 .1 .4 .6 .3-1.4 .4 .3 .4-.4 .2 .5 .2 1.1 .1-.2 .2-.9 .2 1.3 .2 .1 .1 .6 .1 0 .1-.6 .1-.5 .1-.6 0-.9 .1 .8 .1-.5 .1-.1 .1-1.6 0 .5 .1-1.9 .1 .6 .1-.7 0-1 .1-.1 .1-.2"/>
<path class="c" stroke-width="1.38" d="M1121.5 101.8l.1-.4 .1-.6 .1-.5 .1-.4 .2-.2 .1-.7 .1-.9 .1 .4 .1-.5 .1 .9 .1-.2 .1 .6 .2-.2 .1 .3 .1 .3 .1 .2 .1 1.3 .1-.1 .1 1 .2 .3 0-.4 .1-1.1 .1 .9 .1-1.3 0-.2 .1-.8 .1-.9 .1 .3 .1 0 0-1.7 .1 .5 .1-.4 .1 .2 0-1.7 .1-.1 .1-.2 .1 .8 .1-.3 .1 1.1 .1-.5 .1 .2 .1 1.7 .1-.4 .1 .1 .1 1.1 .1 .9 .1-.2 .1 .5 .1 1 .1-.8 .1 1.9 .1-.2 .1 .8 .1 .3 .1-.2 .1 .4 .1 .5 .1-.8 .1-.3 .1-.5 .1 .5 .1-1.3 .1 .1 .1-.7 .1 .5 .1-1.8 .1-.5 .1 .4 .1-1.2 .1 0 .2-.3 .2-.9 .2-.2 .2 .2 .3 .3 .2 1.2 .2 .2 .2 .4 .2 .1 .2 .4 .2-.2 .2 .7 .1 .5 .2 .2 .2 .9 .1 .5 .2-.8 .2 .3 .1 2 .2-.9 .1 1.3 .2 0 .2 .1 .1-.4 .2-.7 .1-.7 .1-.2 .2 .1 .1-.2 .2-.8 .1-.9 .2-.3 .4 .5 .4-.9 .3 .6 .4-.9 .4-.3 .3-.1 .3 .2 .4-.7 .3-.4 .3 .1"/>
<path class="c" stroke-width="1.42" d="M1137.5 98.6l.1-.4 .1-.4 .1-.6 .1 .2 .1-.7 .1-.4 .1-.8 .1-.1 .1-.1 .1-1 .1-.4 .1-.1 .1-.5 .1-.7 .1-.2 .1 .7 .1 .3 .1 1 .1-1 .1 .3 .1 1.4 .1 1.1 .1 .1 .1-.2 .1 .1 .1 .9 .1 .3 .2 .2 .1 .1 .1 .9 .2-.1 .1 .6 .1 .2 .1 .7 .1 .5 .3 .5 .3 .2 .2 .4 .2-.5 .3 .3 .3 1 0 .4 .1 .5 .1 .7 0-.6 .1 1.7 .1-.2 .1-.1 0 .7 .1 .5 .1 1.7 .1-.8 0 1 .1-.3 .1 .3 .1 .8 0 .3 .1 .9 .1 .3 .1 .4 .1 1.3 .2-.7 .1 1.4 .1 .1 .1 .5 .1 0 .1 .2 .1 .6 .1 .2 .2 .9 .1-.5 .2 .1 .1 .8 .1-.1 .2 1.1 .1 .5 .2 .3 .1 .7 .1 .3 .1 1.1 .1-.2 .2 1.1 .1-.4 .1 .6 .1-.6 .1 2 .1-.2 .1 .8 .2-.1 .1 .3 .2 .1 .2 1.8 .2-1.4 .1 .4 .2 1.6 .2 0 .2-.8 .1-.6 .2 .4 .1-1.2 .2 1.2 .1-.5 .1-.4 .2-1.7 .1 .3 .2-.8 .2-.6 .1-.4 .2-.3 .1-.3 .2 0 .2-.9 .1 .8 .2-2 .2 .5 .1-.5 .3-1 .4 1 .3 .2 .3-.8 .1 .9 .1 .2 .1 .2 .1-.1 .1 .6 .1 .9 0-.3 .1 .1 .1 2.2 .1-.1 .1 .3 .1 .1 .1 .6"/>
<path class="c" stroke-width="1.44" d="M1154.6 122.4l.3 .7 .2-.4 .3 .9 .2 .1 .3 .3 .2-.3 .2-.8 .3 .6 .2-1.4 .2 1.2 .3-.8 .2-.7 .2 .2 .2 .8 .1 .6 .2-.2 .2-.4 .2 1.2 .2 .2 0 .4 .1 .4 .1 1.4 .1-.4 .1-.5 .1 1.9 .1 .6 .1-.8 .1 .9 .1 .1 .1 1 .1 .6 .1 .1 .1 1.1 .2-.4 .1 .6 .2 1.3 .1-.7 .2 .6 .1 0 .2-1.2 .1 1 .2-2 .2 .7 .1 0 .2-.8 .1-.9 .1 1 .1 .4 .1 0 .1 .8 .1 .6 .1 0 .1 .9 .1-.4 .1 .1 .1 1.8 .1-.3 .1 .8 .1 0 .1 .9 .1-.3 .1 1.5 .1-.2 .1 .5 .1-.9 .1 1.1 .1 .6 .1 .2 .1 .2 .1 .5 .1 .9 .2 .4 .1 .6 .2 .7 .1-1.1 .2 .4 .2 2.1 .1-.4 .2 .4 .2-.4 .1 .3 .2-1.7 .2 .3 .2 .2 .1-.6 .2-.6 .1 .8 .1-.2 .1 1.6 .1-1.5 .1 .4 .1 1.3 .1 .6 .1 .3 .1 .4 .1 0 .1 .2 .1 .9 .1 1.2 .1 .7 .1 .6 .1-1.5 .1 .9 .1 0 .1 .6 .1 .6 .1 .8 .1 .4 .1 .1 .1 1 .1 1.1 .1-.7 .1 .3 0 .8 .1 .2 .1 .4 .1 .2 .1 .9 0 0 .1 1 .1 .2 .1 .4 .1 .8 .1 .3 0 .5 .1 .1 .1 .1 .1 1.2 0-.6 .1 1.3 .1 1.1 .1-.9 0 1.2 .1 .3 .1 .2"/>
<path class="c" stroke-width="1.49" d="M1171.5 161.1l.1 .4 0 1.1 .1-.5 .1-.2 0 1.7 .1 .4 .1 .2 .1 .7 0 0 .1-.8 .1-.5 .2 1 .1-1.5 .1 .6 .1-.9 .1-1.7 .1 .2 .2 .8 .1-1.1 .1-.5 .1 0 .2-1.6 .1 .3 .2-1.1 .2 .3 .1-.2 .2-.8 .1 0 .1-.2 .1 1.4 .1 .4 .1-.3 .1 .2 .1 1.6 .1-.3 .1 1 .1-.1 .2-.1 .1-.8 .2 .5 .1-2.2 .2 0 .1 .3 .2 0 .2-.8 .1 0 .2-.4 .1-1.4 .2 .2 .1 .7 .2-1 .1-.3 .2-.9 .1-.4 .1-1.1 .1 0 .2 .8 .1-1.9 .1 1.1 .1-.9 .1-1.7 .1 .5 .1-.6 .1-.2 .2 .3 .2 1.3 .2-1.6 .2 .4 .1 1.2 .2 .6 .2 .3 .1-.4 0-.4 .1-.9 0-.2 .1 .6 0-1 .1-.2 0-.7 .1-.5 0-1.7 .1 1 .1 .2 0-2.5 .1 1.1 0-1.8 .1 .9 0-.7 .1-.7 0-1 .1-.1 0 .4 .1-1 .1-.4 .3 .1 .3 .6 .3-.6 .3 .5 .1-.5 .1-1.2 .1 1.5 .1-1.2 .2-.2 .1-1.3 .1-.6 .1 .5 .1-.7 .2 .1 .3 .7 .3-.5 .2 2 .2-.4 .2-.5 .2-.1 .2 0 .1-1.9 .2 .5 .1-.6 .2-.1 .1 .5 .2 1.4 .1 .7 .1-.1 .2-.7 .1 1.1 .1 .9 .2-.3 .1 .5 .2 .5"/>
<path class="c" stroke-width="1.47" d="M1187.8 143.6l0 .5 .1 .8 .1-.4 .1-.1 .1 .9 0 .7 .1 .4 .1 .8 .1 1 .1-.4 .1 .7 .1-.2 0 .7 .1 .7 .1 .2 .1-.9 .1 .6 .1-1.5 .1-.1 .1 .2 .1-.4 .1-.8 .1-.9 .1 .9 .1-1.3 .1-.4 .1-.4 .3 .4 .2 .4 .2 .1 .2 .1 .2 .1 .2 .5 .3 .9 .2 0 .3 .3 .3-1.1 .2-.4 .3-.5 .3-.2 .1 .3 .1 1.3 .1-.2 .1 .6 .1 .8 .1-1.3 .1 1.9 .1-.1 .1 .5 .1 .4 .1 .6 .1 .2 .2 .7 .1 1 .1-.7 .2 1 .1 .7 .2-.6 .1 .7 .1 .8 .2 .1 .2-.2 .3-.6 .2-.1 .3 .2 .2-1.1 .1-.6 .1-.8 0 .2 .1-1.4 .1 .1 .1-1 0 1.4 .1-.7 .1-1.1 .1-1 0-.1 .1 0 .1-.8 0 .6 .1-1.8 .1 .3 0 .1 .1-.5 .1-1.1 0-.6 .1 .7 .1-1.2 0-1.2 .1 .1 .1-.3 0 .3 .1-.9 .1 .4 .1-.2 .1 .9 .1 1.2 .1-.8 .1 .7 .1 0 .1 1.4 .1 .3 .1 .1 .1 .8 .1 .6 0 .3 .2 0 .2 .7 .2 .8 .2-.2 .2-.3 .2 1.6 .2 .1 .2 .4 .3 .4 .3 0 .3 .9 .3-.7 .1-.9 .1 .8 .1-.8 .2-.2 .1-1.5 .1 .2 .1-.5 .1 0 .1-1.4 .1 .3 .1-.4"/>
<path class="c" stroke-width="1.40" d="M1204.2 146.1l.4-1 .3 1.5 .3-1.7 .4-.1 .3 .1 .3 0 .3 1 .3 .4 .3-.2 .2 .7 .2-.7 .2 .9 .2 .8 .2 .4 .2 .7 .2-.3 .3 .6 .1 .4 .1-.2 .1 1 .1 .9 .1 .1 .1-.2 .1 .9 .1 .5 .1-.1 .1 .7 .1 .7 .1 .3 .3 .1 .3 .4 .3-1.8 .3 .2 .3-.1 .1-.1 .1-.9 .1 .2 .2-1.7 .1 1.4 .1-.7 .1-.9 .1-1.2 .1 .1 .1-.5 .2-.1 .1 .1 .1-1.1 .2 0 .1-.2 .1-1 .2-.6 .1-.8 .1 .9 .2-.2 .1-1 .1-.5 .1-.6 .1 0 .1-.7 .1-1.1 .1 .2 .1-1.1 0 .2 .1-.9 .1 .8 .1-1.8 .1 .5 0-.5 .1-.9 .1 .1 .1-.4 .3-.7 .3-.6 .3-.4 .4 .5 .2 .3 .2 0 .3 .7 .3 .4 .2 .4 .3 .3 .2-1.1 .3-.1 .3 .5 .2-1.4 .3 0 .3 .2 .3-.6 .2-1.5 .3 1.4 .3-1.2 .2-.2"/>
<path class="c" stroke-width="1.35" d="M1221.2 134.9l.3-.9 .3 .1 .2-.1 .2-.2 .3 .1 .3-.9 .3-1 .3 .6 .3-.8 .3 0 .1 .3 0 .4 .1 .2 0 1.5 .1-.2 .1 .3 0 .7 .1-.6 .1 1.2 0 .2 .1 .2 .1 1.8 0-.3 .1 .7 0-.2 .1 .8 .1 .4 0 .6 .1 .3 0 .4 .3 .6 .2-.3 .1 1.1 .2 .3 .2 .2 .2-.2 .2-.8 .2-.1 .2-.5 .2-.2 .2-.6 .2-.5 .2-.3 .2-.4 .3 0 .4-.9 .3-.3 .2 .4 .4 .2 .3 .1 .3 .6 .4 .4 .3-.1 .3 .4 .3-.2 .3 .4 .3 .1 .1-.8 .1 .2 .1-1.1 .1-.4 .1 .3 .2-1.1 .1-.6 .1 0 .1-.8 .1 .4 .1-1 .1-.1 .4-.1 .4 .6 .4-.5 .2-.4 .1 .2 .1-.6 .2-.7 .1-1.3 .2 .6 .1-.2 .1-.7 .2-.7 .1-.2 .2-.3 .1-.7 .2-.1 .2-.4 .1-.6 .2 0 .1-.8 .2-.7 .2 .5 .2-1.3 .2-.6 .2 0 .2-.6 .2-.1 .3-.3"/>
<path class="c" stroke-width="1.35" d="M1238.8 124.9l.1-.3 .1-.2 .1-.5 .1-1.4 .1 .8 .1-1.4 .2 .1 .1 0 .1-.5 .1-.4 .1-1 .1-.7 .1-.2 .3-.6 .2 .6 .2-1.2 .2-.1 .2-.7 .2-.4 .3 0 .4 .7 .4 .3 .4-.5 .4 .1 .3 .5 .3-.4 .4 .6 .3 0 .3 .5 .3 .8 .3 .6 .3-.7 .3 0 .3 .9 .3 .7 .3 .8 .3-1.1 .3 1.5 .3-.3 .2 .5 .3 .4 .3-.7 .2 1.1 .2 .5 .2-.9 .1 .4 .2 .1 .1-1.1 .1-1 .2-.4 .1-.1 .2-.3 .1-.4 .3 1.1 .3-.4 .3 .3 .4 .2 0 .1 .2 .3 0 1.1 .2 .2 0 .4 .1 .9 .2 .9 0-.9 .2 1.2 .1 .2 .1 .8 .2-.3 .1-.2 .2 .4 .1 1.3 .2 .4 .1 .5 .2 .2 .4 .3 .4 .1 .3 0 .4-1"/>
<path class="c" stroke-width="1.56" d="M1255.5 128l.2 .2 .1-1 .2-.2 .1-1.2 .2-.6 .2 .5 .1-1.1 .2 1.1 .2-1.4 .1-.1 .2 1.1 .1-.7 .1 .8 .2 1.3 .1-.1 .2 1.1 .1-1.1 .1 1.3 .2 .1 .1 .2 .1 .9 .1-.8 .1 .7 .1 .8 .1 1 .1-.7 .1 .6 .1 .1 .1 1.1 .1 1.2 .1-.1 .1-.7 .1-1 .1-.6 .1-.3 .1 .1 .1 .2 .1-.1 .1-1.2 .1-.2 .1 .7 0 .1 .1 .9 .1 .7 0 .3 .1-1.3 .1 2.1 0-.4 .1-.4 .1 1.8 0 0 .1-.2 .1 .4 0 1.4 .1 .2 .2-.2 .2-.1 .2-.7 .3 .7 .2-2 .2 .2 .2-.4 .1 .4 .2 1.2 .1 .5 .1-1 .2 1.8 .1-1.1 .1 1.6 .2-1.3 .1 .5 .1 1.9 .2 0 .1 .3 .2-.7 .2-1.2 .2 .3 .3-.4 .2 .5 .2-.8 .1-.4 .1-1.3 .1-.1 .1-.8 .1-.1 .1-.8 .1 1.5 .1-.5 .1-1.4 .1-.7 .1-.4 .1 0 .1-.4 .1 .5 .1-.6 .1-.8 .1 .2 .1-1.9 .1-.3 .1 .2 .1-.6 .1-.1 .1 1.6 .1-.7 .1-.2 .1 2.2 .1-.6 .1 .4 .1 1.7 .1 .4 .1-1 .1 1.3 .1 0 .2-1.1 .2 1.2 .1-1.1 .2-.5 .2 .7 .1-1.2 .2-1.7 .2 .9 .1-.2 .2-.8 .1 0 .1-.1 .2-1.4 .1-1 .1-.6 .1 .2 .2-.5 .1 .2 .1 .5 .1-1.8 .2-1 .1 .5 .1-.3 .1-.3 .2-.6"/>
<path class="c" stroke-width="1.48" d="M1272.8 121.8l.2 1 .2 0 .2 .3 .2-.5 .2 1.2 .2 .6 .2-.2 .2 .3 .1 1.4 .1-.4 .1 1 .1-1.2 .1 2.2 .1-.4 .1 .3 .1 .6 .1-.1 0-.4 .4 .3 .4-.5 .4-.1 .4 .9 .4 .4 .3 .4 .4-.3 .4-.1 .4 .3 .3 .1 .3-.5 .3 .9 .3 .2 .3 .7 .3 .4 .1-.9 .1-.6 .2 0 .1-1.1 .1-.4 .1 1.7 .1-1.6 .1-.6 .2 0 .1-.9 .1 0 .1-.3 .1-.7 .1-.9 .1 .4 .1 .1 .1-.9 .2-1.2 .1 .5 .1-.4 .1 0 .1 .4 .2 .8 .1 .6 .1 .7 .1-.5 .2 1.5 .1 0 .1-.1 .1 .7 0 .9 .1 .4 0 .7 .1 .4 .1-.7 0 1.4 .1 .7 0 .2 .1 .8 0-.1 .1-.6 .1 .9 0 0 .1 .4 0 1.5 .1 0 .1 .7 .1 .8 .1-1.1 .1 1.8 .1-.5 .1 1.3 .1 .5 .1 .7 .1-1 .1 1.6 .1 .2 .1 0 .2 .6 .2-.6 .2 .2 .1 .4 .2 .6 .1 1.2 .2 .8 .1-.7 .1 .7 .1 1.2 .1-.2 .1 1.2 .1 .9 .1-.9 .1 1.3 .1 .5 .1-.2 .1 .4 .2 1 .1-.2 .2 .6 .1 1 .2-.5 .1 .4 .2 .8 .2 .1"/>
<path class="c" stroke-width="1.58" d="M1289.8 149.4l.1 .9 .2-1 .2 2.1 .2-.4 .1 .4 .2 .9 .2-.4 .1-.7 0-.6 .1-.6 .1 .3 0-.2 .1-1.9 .1 1.1 0-1.8 .1 .8 .1 .5 0-.6 .1-1.4 .1 .3 0-.6 .1-2 .1 .1 0 .4 .1-.6 0-.6 .1-.9 .1 .3 .1-.4 .1-.8 .1-.4 .1 .8 .1-1 .1-.3 .1-2.3 .1 .4 .1 .3 .1-.8 .1-.6 .1 .4 .1-.1 .1 1.2 .2 .1 .1-.8 .1 2.8 .1-.9 .1-.6 .1 .6 .1 1 .2 .7 .1 .2 .1 0 .1 .9 .1 1.7 .1-1.7 .1 2.1 .1 0 .1-.1 .1-.9 .1-.7 .1 .9 .1-.2 .1-.6 .1-.5 .1-1.5 .1 .7 .1-1.9 .1 .9 .1-.4 .1-.6 .1-.8 .1 .3 .2-.6 .2 0 .1-1.1 .2 .6 .2-1.6 .1 .7 .2-1.9 .1-.5 .2 .1 .2 .5 .1 .3 .2 0 .2 .1 .1 1.7 .2 .1 .2 .6 .1-.5 .2 .6 .2 .6 .1-.5 .2 .6 .1 1.6 .2 .3 .1-.1 .2 .9 .1-.3 .2-.7 .2 1 .2-1.4 .2-.4 .1-.9 .2 1 .2-1.1 .1 0 .1 1.7 .1 .5 0-1.6 .1 1.5 .1-.5 .1 1 .1 .8 0 .2 .1 1 .1 .2 .1 .2 .3-1.3 .3-.3 .3-.2 .4 .6 0-.1 .1 1.2 .1 0 .1 .6 .1-.8 0 1.3 .1-.5 .1 1.6 .1-.1 .1 1.3 .1 .4 .1 .6 0-.2 .1 .7 .1 .2"/>
<path class="c" stroke-width="1.55" d="M1306 150l.1 0 .1 1.8 .1-.4 .1-.6 .1 1.4 .1 1.2 .1-.9 .1 1.4 .1-.1 .1-.6 .2 .8 .2-1.4 .1-1.1 .2 .3 .2-.6 .1 1 .1-.9 .1 .6 .1 1.3 0-.7 .1 .1 .1 1.6 .1 0 .1 .6 .1 .4 .1 .8 .1 .2 .1-.7 .1-.9 .1 .2 .1-.5 .1-.3 .1-.3 .1-1 .1-1 .1 1 .1 .2 .1-1.1 .1-.7 0-.5 .3 .7 .2-.3 .2-.6 .2 .4 .2 1.5 .2 .2 .2-.9 .2-.4 .2 .7 .2 .1 .2-.3 .3-1.1 .1-.3 .2 1 .1-.1 .2 1.1 .1 .3 .2 .7 .1-.1 .2 .6 .2-1.3 .3 .6"/>
</g>
<g>
<rect class="ax" x="200.5" y="408.5" width="1189.0" height="253.0"/>
<path class="ax" d="M437.5 661.5v-11M437.5 408.5v11M675.5 661.5v-11M675.5 408.5v11M913.5 661.5v-11M913.5 408.5v11M1151.5 661.5v-11M1151.5 408.5v11M200.5 458.5h11M1389.5 458.5h-11M200.5 509.5h11M1389.5 509.5h-11M200.5 560.5h11M1389.5 560.5h-11M200.5 611.5h11M1389.5 611.5h-11"/>
<text class="t" x="200.3" y="679" text-anchor="middle">0</text>
<text class="t" x="437.8" y="679" text-anchor="middle">0.5</text>
<text class="t" x="675.8" y="679" text-anchor="middle">1</text>
<text class="t" x="913.8" y="679" text-anchor="middle">1.5</text>
<text class="t" x="1151.8" y="679" text-anchor="middle">2</text>
<text class="t" x="1389.8" y="679" text-anchor="middle">2.5</text>
<text class="t" x="195.0" y="413" text-anchor="end">0.5</text>
<text class="t" x="195.0" y="464" text-anchor="end">0.4</text>
<text class="t" x="195.0" y="514" text-anchor="end">0.3</text>
<text class="t" x="195.0" y="565" text-anchor="end">0.2</text>
<text class="t" x="195.0" y="616" text-anchor="end">0.1</text>
<text class="t" x="195.0" y="667" text-anchor="end">0</text>
<text class="t" x="1361" y="697"><tspan font-size="15.3px" dy="1.2">×</tspan><tspan dy="-1.2">10</tspan><tspan dy="-4.8" dx="-0.5" font-size="9.3px">4</tspan></text>
<text class="h" x="795.0" y="401.65" text-anchor="middle">Heston model</text>
<text class="l" transform="translate(168 535.6) rotate(-90)" text-anchor="middle">Spot Variances</text>
<path class="c" stroke-width="1.76" d="M200.5 460l0-.6 0 1.7 0-.2 0 .2 0 2.3 0-.8 0-.1 0 2.6 0-1.9 0-.3 0 .7 0 1.4 0-.6 0 .1 .1-.3 0-.1 0-.1 0-.4 0-1 0 .3 0-1.1 0-1.8 0 1.2 .1-1.4 0-.7 0 1.5 0-1.1 0-2.2 0 .2 0 1.4 0-2.6 .1 1 0-.6 0-.6 0-.4 0-1.9 0-.4 0 0 0-.7 0 1 .1 .2 0-3.2 0 1.3 0-2.2 0-.1 0 .1 0-.1 0-.9 .1-1.2 0 1.5 0-1.5 0-.5 0-.2 .1 .8 0-.4 .1-.4 0 2.2 .1 .4 0-1 .1 2.5 .1-.1 0-1.6 .1 3.7 0-1 .1-1.5 0 2.6 .1 0 .1 1.5 0-2.5 .1 3.2 0 .3 .1 0 0 .3 .1 .6 0-.3 .1 .9 0 .1 .1-.3 0 2.2 .1 .5 0-.3 .1 .2 0 1.2 0-2.4 .1 2.8 0-2 .1 2.8 0 1.5 .1 .8 0-2 0 1.6 .1-.2 0-1 .1 2.7 0-.3 .1 .5 0-.1 0 .8 .1 .5 0 .5 .1 1.6 0-.4 .1 1.6 0-1.6 .1 .6 0 .7 0-.6 .1 3.4 0-.5 .1-2.1 0 2.2 .1 1.8 0-2.7 0 2.3 .1 0 0 1.7 .1-.4 0 .2 .1 .3 0 .2 0 2 .1-1.2 0 2.4 0-2.7 .1 1.9 0 .3 .1-.2 0 1.1 0 1.7 .1-1.4 0-.6 .1 4.1 0 .4 0-2.1 .1 1.6 0-1.5 0 3 .1-1.7 0 1.2 .1 1.5 0-.3 .1-.4 0 1.3 .1-.8 0-.2 .1 .7 .1 2.3 0-1.7 .1 1.4 .1 2 0-.5 .1-.4 .1 1.3 0 .1 0-.9 0 .4 0-2.1 0 1.4 .1-2.7 0-.6 0 .5 0-.4 0 .2 .1-1.3 0 .9 0 .5 0-2.9 0-1.4 .1 .8 0 1.2 0-.5 0-2 0-1.3 .1 .9 0 .9 0-2.7 0 2.3 0-1.9 .1-.4 0-1.7 0 2.2 0-2.2 0-2.3 .1 2.4 0-1.9 0 1.3 0-1.5 0-1.3 .1 .4 0-1.1 0-.7 0 .3 0 .1 .1-1 0-.5 0-.6 0-.3 .1 .8 0 .3 0 1.2 .1-.1 0 1.6 .1-2.8 0 2.1 .1 1.3 0 .9 0-2.7 .1 .7 0 2.1 .1 1.9 0 .4 0-2.7 .1 2.4 0 1.5 .1-.8 0-.3 .1 .8 0 .8 .1-.3 0 2.2 .1-.8 0 .2 .1-.1 .1 1.3 0-.6 .1 .4 0 1.7 .1 .2 0 1.3 .1 0 .1 1.6 0-.9 .1 .7 0 .3 .1 .3 0 0 .1 1.8 0-.9 .1-.5 0 3.3 .1-.2 0-1 0 2.4 .1 .5 0 .1 .1-2.1 0 2.3 0-1.2 .1 1 0 .6 .1 .1 0 1.9 .1-.7 0 1.6 0 0 .1 .4 0-.7 0-.1 .1-.1 0 0 0-1.5 0 1 .1-1.1 0 .3 0-3.3 0-.1 .1 2.2 0-2.2 0 .4 0 .6 .1-3.9 0 2 0 .8 .1-1.2 0-1.4 0 .2 0-1.2 .1 .6 0 .2 0-2.4 0 .6 .1-.8 0 0 0-.3 0-2.7 .1 2 0-.8 0-2.3 0 .3 .1-1.3 0 .5 0-.1 .1-1.1 0 0 0 .1 .1 .2 0 .4 0 .3 .1 .1 0 2.2 0-.5 .1-.3 0 2.8 .1-1.7 0 2.4 0-2.4 .1 3.9 0-1.9 0-.2 .1 2.1 0-1.6 .1 .8 0 1.8 0-.2 .1 1.1 0 .3 0 .3 .1-.3 0-.5 0-.1 0-.9 .1 .4 0-.5 0-2.5 0-.5 0 2.3 .1-2.3 0 .2 0-.7 0 0 0 .8 .1-2.9 0 .5 0-.5 0-1.9 0-.2 .1 .4 0-.1 0 0 0-2.8 0-.5 .1 3.3 0-2.5 0 .9 0-2.1 0-.8 .1 2.2 0-3.8 0 0 0 1.6 0-1.3 .1-2.2 0 1.4 0 .2 0-2.8 0 .5 .1 1 0 0 0-3 0 .3 0 .1 .1-1.1 0-.4 0-.1 0 0 0-.7 .1 .1 0 1.3 0 .5 .1 .6 0 .9 0-1.2 0 .9 .1 1.6 0 .8 0 .1 0-1.2 .1 .4 0-.6 0 1.5 0-.1 .1 .9 0 .6 0 2.1 .1 .5 0-.8 0-1 0 1.9 .1 1 0 1 0-.4 0 1.2 .1-1.3 0 1.9 0 .6 0-.8 .1 .1 0 2.3 0-1.5 0 1.8 .1-.3 0 .4 0 .6 0 .5 .1 .3 0 .6 .1 1.5 0 .5 .1-.8 0 1 0 1 .1-1.1 0 2.6 .1-1.1 0 1.2 .1-1.7 0 .2 0 .6 .1 .9 0 2.7 .1-1.3 0 2 0-1.3 .1-.2 0 1.8 .1-.2 0-.7 0 2.1 .1 1.5 0-.9 .1-.3 0 .9 .1 .4 0 .9 .1-.5 0-1 .1 .1 0-.2 .1 .8 0-3.1 .1-.8 0 2.9 .1-1.6 0-1.4 .1 .7 0-2.4 .1 .4 0 .9 .1-1.8 0 .1 .1 0 0-.9 .1-.8 0 .3 .1 .2 0-.7 .1-1.8 .1 0 0-.1 0-1.7 0-.6 .1 1 0-.3 0 .5 .1-3.5 0 2.4 0-2.3 .1-.4 0 .7 0 .8 .1-3.5 0-1.1 0 .7 0 .1 .1 1.3 0-1.5 0-1.3 .1-.7 0-.4 0 1.1 .1-2.8 0 .3 0-.5 .1 .9 0-1.1 0-.5"/>
<path class="c" stroke-width="1.74" d="M216.6 475l.1-.7 0 .3 0 .1 0-.6 .1-2.6 0 .6 0 1.1 .1-3.4 0-.3 0 .6 .1 .7 0-2.2 0 .8 .1-.8 0 .2 0-2.5 .1-.7 0-.4 0 1.6 0 .5 .1-1.1 0-2.5 0-.3 .1 .7 0-.9 0-.7 .1 .2 0-.2 0-.8 .1-.2 0 0 .1-.6 0-.4 .1 0 0-1.2 .1-.9 0-.3 .1 1.5 0-2.4 .1 1 0 .3 .1-.5 0-3.8 .1 1.3 0 .4 .1-1.8 0-.6 .1-.7 0 .3 0 .2 .1 .7 0-.6 0 1.5 .1-.4 0 1.3 0-.8 .1 1.7 0 .6 0-.6 .1 .4 0 2.5 0 .1 .1-1.5 0 2.1 0-1.7 .1 1.3 0-.7 0 1.5 .1 2 0-1 0 1.7 .1-.9 0 1.4 0 0 .1-.2 0 2.3 0-1.1 .1 .3 0 1 0 .5 .1 .7 0 .4 0 .1 .1 1 0 1 0 .1 .1-1.9 0 3.8 0-1.3 .1-1.4 0 3.4 0-.9 .1 1 0 1.9 0-2.1 .1 .3 0 .1 0 1.8 .1 .9 0 .1 0 .2 .1-.8 0 1.7 0 .8 .1-.1 0 .2 .1 .3 0-.1 .1 1.6 0-1.4 .1 3.8 0-1.5 .1-.1 0-.4 .1 2.7 0 1 .1-1.4 0 1.2 .1 .6 0 .9 .1 0 0 .1 .2 1.2 .1-1.7 .1 3.3 .1-1.7 .1-.4 .1 .6 .1 2.1 .1 .9 .1 1 .1 0 .1-1.2 .1 .9 .1 .1 0 .2 .1 .2 .1 1 0 0 .1 1 0 .9 0 .2 .1 .6 0-.1 0-.4 0 1.8 .1-.3 0 2.3 0 .3 0-2.3 .1 .6 0 1 0 .8 0 2.2 .1-1.3 0 1.3 0-.6 .1 .6 0 2.3 0-1.1 0 2.1 .1-1.3 0 .9 0 .4 0 .7 .1 1.2 0-1.7 0 .7 0 .1 .1 2.1 0-.2 0 .3 .1 .3 0-.2 0-1.7 .1 1.2 0-1 .1-.2 0-.7 .1-.6 0-.5 .1-1 0-.1 .1 .7 0-3.1 .1 2.4 0-.7 .1-2.4 0 1.3 .1-.7 0-1.2 .1 1 0-1.4 .1-.5 0-.5 0-1.3 .1 1.7 0-1.4 .1-.3 .1-1.1 0 1.6 .1-2.4 0 1.6 0-.9 .1-.5 0-.9 .1 .1 0-1.9 .1-1.9 .1-.3 0 2 .1-2.5 0 1.3 .1-1.1 0 .9 0-.7 0 1.5 0 .4 0-.4 .1-.2 0 1.5 0 1.8 0-.9 0 .5 .1 .6 0 .4 0 .7 0 1.7 0-2.2 .1-.3 0 3.3 0-1.3 0 .5 0-.7 .1 2 0 .1 0 1.5 0-.6 0-.8 .1 2.9 0-.3 0-1.2 0 1.7 0 1.8 0-.5 .1 .1 0 1.5 0-.9 0 .4 0 1.7 .1-.2 0 0 0 1.2 0 .4 0 .9 .1 .4 0-.1 0 .4 0 .5 .1-.1 0 1.1 .1-.1 0 1.6 .1 .5 0 .3 .1-.4 0 .9 .1 1.8 0 .4 .1-2.1 .1-.5 0 2.9 .1-1.9 0 2 .1 .8 0 1 .1-.6 0 .5 .1-.5 0-.7 0 .1 .1-1.7 0 1.1 .1-.6 0 .7 .1-2.3 0 .3 0-.6 .1-.7 0-1.6 .1 .1 0 .3 0 .1 .1 .2 0-2.4 .1 .6 0-.1 .1-.2 0-1.1 0-.5 .1-.9 0-.1 .1-.6 0-1 .1 .2 0-.8 .1-1.2 0 1.3 .1 0 .1-1.8 .1 .2 0-.4 .1-.9 0 1.6 .1-2.4 .1 .2 .1-.8 0 .7 .1-2.3 .1 .4 .3 0 .3-2 .3 .8 .3 .5 0 .1 .1 1.3 0-.8 0 .4 .1 .9 0-.2 .1 .4 0 3 0-1.9 .1 .3 0 3.1 0-1.2 .1 1.8 0-2.8 .1 1.9 0 1.4 0 .1 .1 .8 0 1.2 0-.3 .1 .9 0 0 .1-.9 0 1.2 0 1.1 .1-.7 0 .8 .1-.1 0-.3 .1 .3 0-3.1 .1 2.6 0-3.7 .1 1.3 0 1.2 .1-3.8 0 2.9 .1-1.8 0 .8 .1-.6 0-1.7 .1-1.2 0 0 .1-.3"/>
<path class="c" stroke-width="1.75" d="M232.9 502.5l0-1.1 .1-.8 .1 1 0-2.3 .1 1.5 .1-.9 0-.5 .1-1.6 0-.7 .1 2.1 .1-2.5 0 .1 .1 0 .1 .2 0-.2 .1-1.2 0 1 0 .3 .1 .5 0 .5 0-.3 0 .5 .1-.8 0 2.4 0-.7 0 1.4 .1 1.6 0-.1 0 .8 0 .1 .1-1.3 0 .3 0-.5 .1 1.5 0 1.3 0 1.1 0 .3 .1-.7 0-.4 0 1.8 0 .7 .1-1.3 0 1.9 0-.9 0 1.3 .1 .7 0 0 0 .8 .1 .6 0 .4 .1-.3 .1 1.9 .1 .4 .1 .4 .1-1.5 .1 1.5 .1 .3 .1 .9 .1 1.2 .1-1.1 .1 1.1 .1 1.2 .1-.6 .1 1.1 0 0 .1-.5 0-1.2 0 .4 .1-.3 0-.9 0 1.2 .1-2.1 0-1.6 0 .9 .1-.5 0 .4 0 .7 0-2 .1 .4 0-2.3 0-.8 .1-.1 0 .2 0-.7 .1 .1 0-1.2 0-1.1 0 .1 .1 1.3 0-2.5 0 1.6 .1 0 0-2.5 0 1.1 .1-.6 0-1.8 0 .7 0-.8 .1-.2 0-1.2 .1 1.1 0-2.7 0 2 .1-1.4 0-1.8 0 .8 .1-2.3 0 2 0-.5 .1 .4 0-.2 .1-3.1 0 1.1 0-1.9 .1-1.4 0 2.5 0-.3 .1-1.6 0 .8 0-2 .1-1.7 0 .5 0-.3 .1 0 0-.8 0-.3 .2-.7 .1 .3 .2 1.5 .1 2 .1-1.9 .2-.3 .1 1.5 .2 1.6 .1-.2 .1 1.3 .2-1.5 .1 2.3 .2 1.3 .1-.3 .1-2 .2 2.4 .1-.6 .2 .8 .1-.7 .1 1.2 .1-1.8 .1 .3 .1 .5 .1-.1 .1-1.9 .1-1.6 .1 .3 .1-1 .1 .1 .1-.3 0-.5 0-1.1 .1-.2 0-1 0 .5 0 .3 0-.4 .1-1 0-1.6 0 .5 0-1.9 0 1.7 .1-2.7 0 .4 0 2.1 0-1.7 0-2.2 .1 .5 0-1.5 0-.1 0 0 0-1 0 .9 .1 .8 0-3 0-.6 0-.2 0-.2 .1 .5 0-1.4 0-.7 0-.2 0 1.5 .1-.5 0-.4 0-1.4 0-1.6 0 1.8 .1-.5 0-2.2 0-.3 0 .6 0-.8 .1-.6 0-.6 .1 .9 .2-1.9 .1-1.3 .2 .2 .1 .2 .2-.6 0-.3 .1 .6 0-.7 .1-2.1 .1 1.4 .1-1.6 0 1.7 .1-.8 0-2.7 .1 1 .1-2.6 .1 1.6 0-.8 .1-.2 .1-.7 0-1 0-.5 .1-.3 0-.2 .1 .5 0-2 .1-1.2 0 .5 .1 1.3 0-.3 .1-3.3 0 2.1 .1-1.1 0 .4 .1-1.2 0 1 .1-3 0 2.2 .1-.9 0-3 .1-.6 0 2 .1-2.5 0 .1 .1 .4 0-.7 .1 .3 .1 .7 0-1.1 .1 .9 .1 2 .1 1.6 0-.8 .1-.1 .1 .5 .1 1.7 .1-.2 0-1.4 .1 .1 .1 1.6 .1 .4 0 .7 .1 .3 0-1.8 .1 .8 0-2.5 .1 1.9 0-2.9 .1 1.2 0-.8 0 0 .1-.6 0-2 .1 2 0-2.5 .1 .7 0-1.5 0 .7 .1-.6 0-.5 .1-1 0 1.4 .1-1.6 0-.3 0-.4 .1-.3 .1 1.6 0-1.3 .1 1.5 0-1 .1 3.7 0-3 .1 1.8 .1-.9 0 .3 .1 .3 0 4.3 .1 .4 0-1.7 .1 1.7 .1-1.2 0-.2 .1 3.1 0-.5 .1-1 0 1.2 .1 .6"/>
<path class="c" stroke-width="1.80" d="M249.5 458.8l0 .4 .1 .2 0 .5 .1-.2 0 1.1 .1 0 0 .5 .1-.1 0 3.4 0-2.1 .1 .7 0 1.1 .1 .1 0-1.2 .1 3.1 0-1.9 0 1.1 .1 1.4 0 0 .1 .6 0-.8 .1-.1 0-1.2 0-.3 .1-1.2 0-.6 0-.2 .1 .9 0-1.2 .1 .1 0 1 0-2.3 .1-1.7 0 1.5 0 1.4 .1-4 0 .9 .1-1.4 0-.5 0 1.7 .1-1.2 0-.4 0-.4 .1-.1 0 .7 0-.1 0 2.4 .1-.8 0-.7 0 1.3 0 2.4 .1-2 0 1 0 .7 0 1.1 .1 .4 0-1 0 .8 0 1.9 .1-1.9 0 1.4 0 1.4 0-.4 .1-.6 0 3.9 0-1.4 0-.2 0-1 .1 3.8 0 .2 0-.8 0 .5 .1-.6 0 3.2 0-.2 0 1 .1 .4 0-2.5 0 2.4 0-1.3 .1 1.9 0 .2 0 .1 0 1 0 .2 .1-.3 0-.8 .1-.4 0 .7 .1-.8 0 0 .1-1 0-1.4 .1-.5 0 .5 .1-1.8 0-.3 .1 1.6 0-1.2 .1-1.1 0 .2 .1-1.3 0 1.8 .1-2.4 0-.1 .1-1.7 0 .1 .1-.8 0 .9 .1-.4 0-.7 .1-.1 0-1 .1-.2 0-.1 .1-1.2 0-1.7 .1 3.1 0-1.7 .1 .2 0-.6 .1-2.6 .1 .6 0-1.1 .1 1.7 0-1.6 .1-1.6 0 .9 .1 .8 0-2.1 .1 0 0 .2 .1-2 .1 .1 0 .6 .1 1.3 0 .1 .1-1 0 1.1 .1 .7 .1 1.6 0 .5 .1-2.9 0 2.5 .1-.7 .1 1.8 0-.4 .1 1.3 0-1.1 .1 1.8 .1 .3 .1 .8 .1 1.3 .1 .8 .1-1.3 .1-.4 .1 3 .1-.9 .1 .3 .1 .6 .1-1.3 .1 1.5 0-.8 0-.6 .1-.7 0 1.4 0-2.8 0 .6 .1-.3 0-1.4 0 1 0-1.9 .1-1.2 0-.3 0 3 0-2.8 .1 .4 0 .1 0-.7 .1-2.1 0 1.8 0-.1 0-3.9 .1 2.6 0-.8 0 .3 0-1.1 .1-1.5 0-1.2 0 1.3 0-.8 .1-.4 0-1.4 0 1.2 0-.7 .1-.5 0-1.7 0 .3 .1-.4 0-.8 .1-.4 0 .7 .1 1.3 .1-1.5 0 2 .1 .7 .1-1.7 .1 3.3 0-.4 .1 2.2 .1-1.4 .1-.1 0 1 .1 .9 .1-1.2 0 1.5 .1 .6 .1-.1 0-.3 0-.6 .1-1.7 0 .4 .1 .1 0-.9 0-.2 .1 1.1 0-.4 .1-2.9 0-1.1 0 .9 .1 1.4 0-3.8 .1-.3 0-.9 .1 2.9 0-2.7 0 .2 .1 1.4 0-1.4 .1-1.7 0-1.5 0 2.2 .1-1.5 0-.9 .1 .1 0-1.1 0 .1 .1-.5 .1 .5 0-.6 .1 1.6 .1 .9 0 1.5 .1-.1 .1 1.2 .1-.2 0-.9 .1 1 .1 0 .1-.8 0 1.3 .1 .9 .1-.6 0 1.3 .1 .4 .1-.1 0 .2 .1-1.4 0-.7 .1-.8 .1-1.3 0 1.8 .1-1.7 0-.7 .1-1 0 2.9 .1-.4 .1-1.7 0-1.6 .1-1.6 0-.7 .1 .5 0-.4 .1 2.4 0-2.6 .1-1.8 .1 2.9 0-1.4 .1-1.5 0 .3 .1-.2 0-1.3 .1-.5 0 0 .1 .5 0 .7 0 .4 0-.7 0 .5 .1 1.2 0-.1 0 .7 0 2.2 0-2.6 0 1.7 .1-.5 0 2 0 1.9 0-.8 0 1.7 .1-2.5 0 2 0 2 0-2 0-.1 0-.5 .1 4.4 0-1.7 0 2.6 0-1.2 0 .2 .1 1.5 0-.4 0 1.8 0-2 0 .5 0 1.2 .1-.2 0 .8 0 1.7 0-.1 0-.1 .1 2 0-2.4 0 1.3 0 .8 0 1.4 0 .1 .1 .3 0 .8 0-.3 0 .5 0 .1 .1 1.5 0 .8 0-1.4 0 .7 .1 .9 0 .9 0 .2 0 1.2 .1-2.2 0 1.6 0-.8 0 3.5 .1 .7 0-.6 0 .1 0 .3 .1 .4 0-.6 0 2.3 0 .7 .1-1.4 0 1.9 0 1.7 0 .4 .1 .4 0 .4 0-2.7 0 1.5 .1 .5 0 1.2 0 1.1 0-1.4 .1 1.5 0 .2 0-.3 0 .1 .1-.8 0-1.3 0 .4 0-1.2 .1-.1 0-.6 0-.1 0 0 .1-.4 0 .5 0-1 0-3.3 .1 2.4 0-1.9 0 1.5 0-2.4 .1-1 0-1.3 0 1.4 0 .8 .1-2.7 0 1.2 0-1.3 0-2 .1 1.3 0-.6 0 .5 0-2.8 .1 2.1 0-1.3 0 .6 0-1.8 .1-.7 0 0 0-.2 0 .2 .1-1.5 0-.2 0-.3"/>
<path class="c" stroke-width="1.81" d="M266 457.5l.1-.3 .1 .8 0 1.1 .1 1.9 .1-1.6 .1 1 .1 .1 .1 1.7 .1-1.3 0 .5 .1 .9 .1 .2 0-.6 .1-.1 0-.7 .1-.7 0 .8 .1-1.6 0-.7 .1 .7 0 .7 0-1.9 .1-1 0 .8 .1-.7 0-2.6 .1 2.6 0-.3 .1-3 0-.2 0 .8 .1-.8 0-.7 .1 .9 0-3.4 .1 .5 0 .5 .1-.6 0-1 0-.2 .1-1.3 .1 1.5 .1-.4 .1-1.3 .1-.1 .1 .6 0 .1 .1-3.9 .1 1.1 .1-2.3 .1 0 0 2.3 .1-2 .1-1.1 .1 .6 0-.1 .1 1.7 0 0 0 1.1 0 .7 .1-1.3 0 1 0-.3 .1 .2 0 2.5 0-.3 .1-.8 0-.5 0 1.7 0 .6 .1-.1 0 2.5 0 .2 .1 .3 0 1.5 0-1.7 .1 .8 0 2.5 0-2.8 0 2.1 .1 1.1 0-.3 0 .1 .1 1.2 0 .8 0-.4 .1-.1 0-.8 0 1.7 0 0 .1 .5 0 .4 0 .2 .1 .9 0 1.1 0-.1 .1 .9 0-.9 0 .6 0-.5 0-1.4 0 .2 .1-.8 0 0 0-.2 0-2.2 0-.8 0 2.1 .1-.8 0-2.2 0 2.4 0-1.8 0-.6 .1 1.2 0-.3 0-.9 0-1.4 0-1.7 0 .5 .1-1.3 0 1.3 0-.1 0-1.8 0 .9 .1-3.5 0 2.9 0-1.7 0-2.8 0 1.5 0 .5 .1-.8 0-2.2 0 1.7 0-.6 0-1.2 .1 .9 0-2.4 0 .4 0-.8 0-1.6 0 1 .1-.4 0-1.1 0-.1 0-.5 .1 1.1 .1-.4 .1 1.3 .1 .1 0 .2 .1 1.3 .1-2.6 .1 .5 .1 .9 .1 2.8 0 .8 .1-1.3 .1-.5 .1 2.6 .1-.5 .1 .1 0-.1 .1 1.6 .1-.7 .1 2 0 .3 .1-1.6 .1 3.9 .1-1.6 .1 .9 0 1.8 .1-.1 .1-2.4 .1 1.9 0 .3 .1 .6 .1-.3 0-.2 0 .1 0-2.5 .1 .6 0 .7 0-1.9 .1 1.5 0-.8 0-.5 .1-2.7 0-1.1 0 .9 .1-.2 0 0 0 .8 0-2.4 .1-1.5 0 3.1 0-1.2 .1-2.6 0 .2 0-2.2 .1-.1 0 1 0 .5 0-1.4 .1-.5 0-1 0-.6 .1 2.2 0-.5 0-.9 .1-2 0-1.3 0 1.5 .1-2 0 .2 0 0 0-.1 .1-1 0 0 .1 .7 0 1.3 .1 .6 0-.6 .1 1 0 .9 .1-1 0-.9 .1 2.1 0 2.7 .1-3.3 0 .9 0 3 .1 1.1 0-1 .1 .3 0-1.8 .1 .7 0 1.1 .1-.2 0 2.9 .1-1.5 0 2.4 .1-1.1 0 1 0-.3 .1-.9 0-.3 0 .7 .1-2.5 0 .3 0 1.2 0-2.9 .1 2.5 0-4.1 0 2.5 .1-1.2 0-.1 0-1.2 0-1 .1 .8 0-1.9 0-.9 .1 2.8 0-4.3 0 2.3 0-2 .1-1.4 0-.4 0 .2 .1 1.1 0 .2 0-1.7 0 .5 .1-1.3 0-.4 0 .5 .1 .5 0 1.3 0-1.7 .1 .1 0 3.5 .1-1.1 0 .8 0 1.5 .1-.4 0-.2 0 2.5 .1 .1 0-1.5 0 1.1 .1-.5 0 .9 0-.3 .1 2.4 0-1.9 0 .9 .1 2.2 0-.3 .1 1.6 0-1.3 0 .9 .1 .3 0 .5 0 .9 .1 0 0 .9 0-1.2 0 1.2 .1 2.3 0-.9 0 .8 0 1.4 .1-.6 0-.9 0 1.7 .1-.3 0 .9 0 .5 0 1.6 .1 1.1 0 .6 0-2.7 0 1.9 .1 2 0-2.3 0 .4 0 3.2 .1-.4 0 .5 0-1.2 .1 2.6 0 .1 0-.8 0 .7 .1 .7 0-.2 0 .6 0 1.2 .1-.6 0 .6 .1-.4 0 2.2 .1 1 0-1.6 .1 1.7 0 0 .1-.8 0 .4 .1 2 0-2.1 .1 2.8 0 1.9 .1 .3 0-2.7 .1 1.9 0-.1 .1 1 0 .6 .1-.1 .1 .6 0 .8 .1 .9 .1 .3 0 1 .1 .9 .1 .7 0-.5 .1-.2 .1 1.1 0-.5 .1-.2 0-.1 0-1.7 .1-.9 0 1.8 0-2.9 0-.1 .1 .4 0-1.3 0 1.5 .1-.9 0-.4 0 1 0-2.1 .1-1.2 0-1.6 0 .3 .1-.6 0 .9 0 1.2 .1-2.5 0-.1 0-2.7 0 3.4 .1-3.6 0 1.2 0-2.5 .1 2.2 0-1.3 0-1.4 0 1.6 .1-.6 0-1.3 0-.8 0-.3"/>
<path class="c" stroke-width="1.81" d="M282.2 460l.1-.4 0-.8 0 .2 0-1.1 .1-.7 0 .2 0 .9 0-3.4 .1 2.3 0-.9 0-.3 0-.9 .1 0 0-3.3 0 1.4 0-2.3 .1 1.4 0-.6 0 .3 0-.3 .1-2.1 0 0 0 2.2 0-.7 0-2.3 .1-1.4 0 .5 0 .8 0-1.1 .1-.6 0 .7 0-1.4 0-.4 .1-1.1 0-.2 0-.4 0-1.5 .1 0 0-1.1 0 .4 0-.8 0 0 .1-.2 0 .2 0-1.6 .1 .5 0-.1 0-2.9 0 2.5 .1-3.6 0-.5 0-.2 0-.8 .1-.5 0 1.8 0 .1 0-.1 .1-.8 0 .6 0-2.5 0-.7 .1 2 0-3.2 0 2 0-2.4 .1-2 0 .3 0 0 0 .5 .1-.3 0-.1 0-.7 0-.1 .1-2.1 0 .6 0-.7 .1 .3 0-1.6 .1 .7 0 0 .1-2.4 0-1.2 .1 .3 0 .2 .1 1 0-.7 .1-.5 0-1.4 .1-.8 0-.8 0 .4 .1-.8 0 0 .1-1.3 0-.8 .1 1.4 0-1.7 .1 1 0-.3 .1-2 0 .9 .1-1.1 0-.2 0 .1 .1 .3 0 .6 0 1.4 .1 1.8 0-.5 0 1.8 .1-3.3 0 3.4 0-2.5 .1 .9 0 3.9 0 .4 .1-1.5 0-.7 0 .6 .1-.6 0 1.8 0 1.8 .1 .1 0 .2 0-.2 .1 1.3 0 .2 0 .1 .1 1.1 0 0 0 1 .1 .4 0 .4 0 .4 .1 .1 0 1.2 0-1.9 0 .6 .1 .4 0 1 0 .6 .1 2.7 0-.9 0 0 .1 .7 0 1.4 0-2.3 0 2 .1-.7 0 2.4 0 1.5 .1-1 0 .9 0 1.2 0-1.8 .1 1.4 0-1.3 0 2.1 .1 .4 0 .1 0 1.1 0-.2 .1 .7 .1 0 0 .3 0 .7 .1-1.2 .1 2.6 0-1 0 1.8 .1 1 .1 1.6 0-2 .1 .8 0 .6 0 .8 .1-.7 .1 1.2 0-.2 0 1.2 .1 1 0-.4 .1-.4 .1 .6 0-1.1 .1 .6 0-.6 .1-3.4 0 .3 .1-1.4 0 2.2 .1-2.7 0 2.6 .1-2 .1 .4 0-2.4 .1-1.1 0 .7 .1-.3 0 .4 .1 0 0-1.9 .1 .6 0-.9 .1-.2 .1 .4 .1-1.8 .1 .4 .1 .9 .1-1 .1-.2 .1 0 .1-.9 .1-.6 .1-2.5 .1 2.5 .1-.9 .1-.4 .1-1.9 .1-.2 0 .7 .1-.9 0 1.6 .1-.3 0 .7 .1 1.5 0-.6 0 1.5 .1-2.3 0 4.4 .1-2.7 0 .2 .1 .1 0 3.4 .1-2.7 0 1.3 0 3.2 .1-2.8 0 1.3 .1 .2 0 2 .1-.6 0 .8 .1 .6 0-.3 .1 .5 0-.7 .1 2.8 0-.5 .1 0 0 1.7 .1-.3 0 .6 .1 .8 0 .7 .1-1 0 2.1 .1-.1 0-.2 .1 .7 0 .1 0 1.5 .1-.1 0-.8 0 .1 .1 3.5 0-2.5 0 .8 .1 1.1 0-.8 0 3.9 .1-2.8 0 .3 0 2.2 .1-1.3 0 .3 0 3 .1 .6 0 .9 0-1.2 .1-.6 0 .9 0 .2 .1 1.2 0 .5 .1 .3 0 .3 0 1.1 0 .5 .1-1.2 0 3 0-1.8 0 1 .1 2 0-.2 0-1 0 1.7 .1 .8 0-1.7 0-.3 .1 4.5 0-3.5 0 2 0 2.7 .1-2.1 0 2.1 0-1.8 0 3.3 .1-2 0 2.6 0-.8 0 1.4 .1-.1 0 0 0-.7 .1-.6 0-1.1 0 .8 0 .7 .1-1.9 0 .1 0 .5 0-1 .1-.2 0-.6 0-2.1 0-.7 .1 .7 0-1.5 0 .8 0-2.7 .1 2 0 .6 0 0 0-2.3 .1 .5 0 .4 0-.6 0-1.6 .1-2 0 1.2 0-.6 .1-1.8 0-.1 0-.9 0 1.2 .1-1.6 0 .1 0 1 0-.3 .1 .3 0 .9 0 .7 0 .5 .1-.6 0-.1 0 .9 0 1.2 .1-.4 0 1.9 0 1.3 0-.5 .1 .3 0 1.2 0-2 0 2.3 .1 .4 0 1.9 0 .3 0-1.9 .1 2.8 0-2.6 0 3.4 0-1 .1 1.1 0-.6 0 .4 0-.6 .1 2.6 0-.7 0 1.1 0-.4 0 .8 .4 1.7 .3-.7 .3-.4 .1-.5 0-.2 0-.7 0 0 0 .2 0-2.4 .1-.6 0 .2 0-1.1 0 1.5 0-2.4 0-.8 .1 .7 0-1 0-1.2 0 .8 0 .1 0-1.5 0 1.9 .1-2.4 0 1.3 0-3.5 0 1.7 0-1.5 0-.4 .1 .4 0-.5 0 0 0-1.1 0 .2 0-1.7 .1-1.8 0 1 0-1.8 0 .4 0-.6 0 .4 0 0 .1-.6 0-1.1 0 1 0-1.9 0-1.5 0 1.6 .1-2 0 1.2 0 .8 0-2.1 0 .4 0 .1 0-1.9 .1-1.3 0 1.4 0-.6 0-2 0 .9 0-1.2 .1-.6 0-1.1 0-.1 0 .4 0-1.3 0 .3 0-.6"/>
<path class="c" stroke-width="1.72" d="M298.2 447.5l.1 .8 0-.7 0 2.2 .1 .1 0-1.1 0 1.5 0 1.8 .1 .5 0-2.5 0 2.6 0-.9 .1 2.8 0-1.6 0 .9 0-.5 .1 3.1 0-2.7 0 .8 0-.6 .1 1.2 0 1.1 0 1.7 0-2.1 .1 1.7 0-.6 0 2.4 0-1 .1 1.7 0-1.1 0 2.5 0-.7 .1 1.2 0 0 0 .5 .1-.1 0 .9 0 1.7 .1-1.2 0 .6 0 1.3 .1-1.3 0 1.7 .1-.3 0 2.2 0-2.2 .1 .5 0 2.4 .1 .3 0-.1 0-.8 .1 2.1 0-.5 0 2.1 .1-1.6 0 .5 .1 .7 0 1.1 .1 0 0 .1 .1-.8 0-1.1 .1-.4 .1 1.4 0-2.3 .1 1.5 .1-1.6 0-1.1 .1-1.2 .1-.3 0 .2 .1-1.6 0 .6 .1-.3 0 .4 .1 .3 0 .8 0-.4 .1 1.4 0 .3 0 1.1 0 .4 .1-.6 0 1 0-.4 .1 .2 0 .2 0 .8 .1 1.5 0-.4 0-.2 0 .5 .1 2.1 0-1.1 0 1.2 .1 1.5 0 1.1 0-2.6 .1 .5 0 1.6 0-.2 0 2.3 .1-1 0 1.7 0-.5 .1 .5 0 .4 0 .3 .1 .3 0 0 .1 1.6 0 1.1 0-.9 .1-1 0 3.3 0-1.4 .1 2.5 0 .4 .1-2.5 0 3 0-1.9 .1 1.2 0-.3 .1 .4 0 3 0-1.3 .1 .1 0 1.9 0 .2 .1 0 .1 .3 .2 1 .1 0 .2 1.7 .1-2.2 .2 1.7 0 .2 0 .8 0 .2 .1 1.6 0-.6 0-1.1 .1 3.6 0-2.9 0 1.6 .1 2 0 1.2 0 0 .1 .2 0-1.3 0 2.7 .1-2 0 1.4 0-1.2 .1 1.4 0-.1 0 1.4 .1 1 0-.1 .1 .1 0 1.6 .1-.4 .1 1.8 0-1.3 .1 1.2 0-1.6 .1 2.8 .1-1 0 .3 .1 1.7 0 .2 .1 2 .1 .2 0-2.3 .1 .9 .1 2.1 0-.3 .1 .3 .1 .4 0 1.1 .1-.6 0 1.2 .1 .3 0 .2 .1 1.8 0 .1 .1 .2 0-1 .1 .8 0 1.5 .1-2.1 .1 2.6 0-.1 .1 .6 0-.2 .1 2.5 0-1.5 .1 2.2 0 0 .1-.6 0 .7 .1 .3 .1 .5 0 .4 .1 .8 0 .4 .1-.8 0 1.2 .1 1.5 0-.4 .1 .3 0 .4 .1 .1 0 2.3 .1-1.5 0 .8 .1 .7 0 1 .1-.1 .1 .4 .2 .2 .2-1.1 .1 1.3 .2 1 .2 .6 .1 .5 0-.8 .1 2 .1-1.6 0 2.7 .1-.7 .1 .1 .1-.4 0 1.3 .1 .4 .1 .9 .1 .6 0-.4 .1-.9 0-1.2 .1 1.5 .1-1.8 0 1.4 .1-2.2 .1 1.3 .1-3.1 0-.2 .1 1.8 .1-2.5 0 .3 .1 .5 .1-.7 .2-.3 .2 1.1 .2-1.9 .2 1.3 .2-2 .2 .8 .2-1.5 .1-.5 .1 .1 0 .2 0-.3 .1-2.8 .1-.8 0-.5 0 1.3 .1-.9 .1 .6 0 .5 .1-1.1 0-1.6 0 1.2 .1-1.4 .1-2.3 0 1.7 0-1.1 .1-.8 0-.2 .1-1 0-.1 .1 .8 0-1.4 0-1.4 .1 .9 0-2.3 .1 2.2 0-.9 0-1.4 .1 .6 0-2.6 0 .6 .1-.2 0-.2 .1 .9 0-1.3 0-2.1 .1 .5 0-.9 0 .4 .1-1.3 0 .2 .1 0 0-1.3 0 .6 0 .1 .1-.6 0-2.8 0 .4 .1-1.6 0 .8 0-.4 .1 1.2 0-1.6 0 0 .1-1.8 0-.5 0 .2 .1-.8 0-.2 0-.3 .1-.2"/>
<path class="c" stroke-width="1.69" d="M314.8 500l0 .9 0-.2 .1 1.7 0 .1 .1-.7 0 1.1 .1 1.7 0-2.7 0 3 .1 1.1 0-.9 .1-1.6 0 .5 .1 2.6 0 .1 0 1.4 .1-2.1 0 1.9 .1 1.5 0-.3 .1-.6 0 1 .1 .5 0-.6 0 .7 .1-.3 0-1.8 .1-.3 0-.2 .1-.1 0-1.1 0-.7 .1-.8 0 1.2 .1-.3 0-1.5 .1-.4 0 .8 0-1.3 .1-1.9 0 .5 .1-.3 0-.4 0 .6 .1 .2 0 .1 0 1.2 0 .5 0-.7 0 1.2 .1 .5 0 .1 0 2.2 0-.7 0 .2 0-.6 .1 .3 0 1.7 0 .9 0-.8 0 .6 0 .5 .1 1.5 0 1 0-2.4 0 2.8 0-1.3 0 .4 .1 2.2 0 .7 0 .8 0-.7 0 1.5 0-1.1 .1 .3 0 1.5 0-.9 0 1.2 0 .6 0 .2 .1-.9 0 .1 0-.1 .1-1.8 0-.2 0 .6 .1-1.4 0-.7 0-1 .1 2.4 0-1.6 0-1.1 .1-.1 0-.1 0-.9 .1 .1 0 .2 0-2.2 .1 .7 0 .1 0-2.1 .1-.5 0 .9 0-.8 .1-1.6 0 .4 0-1.2 .1 1.2 0-.9 0-1.4 .1 .4 0 .2 0-1.7 .1-1.1 0 .5 0 .3 .1-.7 0-.9 0 .5 .1 .5 0 .8 0 1 .1 .6 0-2 0 3.1 .1-.1 0-.9 0 1.1 .1-.5 0-.5 0 1.7 .1 .5 0-.9 0 2.1 .1 .2 0 1 0-.3 .1-.7 0 2.6 0-.9 .1-.2 0 2.6 0-.5 .1 1.7 0-.3 0-.7 .1 1.7 0 0 .1-1 .1-.1 .1-.5 .1-1.1 .1 1.3 .1-1.7 .1-.5 .1 .1 .1-.3 .1 0 .2-1.4 .1 .4 .2-.2 .2 .9 .1-2.7 .2 0 .1-.1 .1 .6 .1 .4 .1 1.4 0-.1 .1 .1 .1 1.6 .1-.6 0 .6 .1 .6 .1 .9 .1-1.6 .1 1.3 0 1.6 .1-.3 .1-.8 .1 1.2 .2 .2 .1-1.3 .2-1 .2-.1 .2 .6 .1-1 .2 0 .1 1.1 0-.5 .1 .6 .1 1.7 0-1.8 .1 1.1 .1 .4 0 1.2 .1 1.7 .1-1.8 0 2.8 .1-2.1 0 1.5 .1 1 .1 .1 0 .7 .1-.1 .1 1.2 0-.2 .1 .2 .1 .3 .1-1.6 .1-1.5 .1-.5 .1 2.3 .1-2.6 .1 2 .1-1.3 0-.9 .1 0 0 .3 0 .8 .1 .9 0-.3 0 1 0-.7 .1 .9 0 1.9 0-1.4 0 1.8 .1-1.3 0 1.1 0 1.2 0-1 .1 .4 0 .7 0 1.9 0 1.1 .1 1.1 0-2.3 0 3.4 0-.6 .1-.5 0-.3 0 1.2 0 1.6 .1-.1 0 .2 0 .6 0 .2 .1 .5 0 .7 0-.2 0 0 .1 .6 0 1.4 0 .8 0 0 .2 .5 .1 .8 .2 1.1 .1-2.2 .1 2.7 .2 .8 .1-1.3 .2 1.1 .1 .2 .3 1 .3-.6 .3 1.6 .4-.7 0 .3 .1-2.2 .1-.1 .1-1.1 .1 1.7 0-1.2 .1 .9 .1-.1 .1-1 .1-2.9 .1 .5 .1 .8 0-.7 .1-.8 .1-.4"/>
<path class="c" stroke-width="1.64" d="M331 532.5l.1-.8 .1-.4 0 1.2 .1-1.3 .1-2.1 .1 0 .1 .1 .1-.4 .1-.4 0 .3 .1-.7 .1 .7 .1-1.7 .1-.6 0-.2 .1-.5 .1-.4 .1-.8 .1-1.4 .1 0 .1 2.1 .1-2.5 .1 1.4 .1-1.4 .1 .5 .1-2 .1-.5 .1-.1 0 .3 .1 .2 0 .5 .1 2 0 .5 .1-1.2 0 1.1 .1 .2 0 .8 .1 .5 0 .6 .1 1.3 0-.2 .1-1.3 0 2.1 .1-1.1 0 2.3 .1-.4 0 .8 .1-.2 0 .6 .1-1.3 .1 0 .1 .4 .1-1.9 .1 .9 .1 .7 .1-2.3 .1 .6 .1-.9 0 .5 .1 .2 0 .6 .1 .8 0-.4 .1 .7 .1-.3 0 0 .1 3.4 0-2.1 .1 2.4 0-.7 .1 1.7 0-.8 .1 2 0 .4 .1-1 .1 .8 0 0 .1 .5 0 .7 .1 .5 0 .1 .1 1 0 .3 .1 .4 0-1 .1 1.4 0-.4 .1 .8 .1 1.2 0 .3 .1-.2 0 1.4 .1-1.2 0 .2 .1 1.4 0 .5 .1 1.4 .1 0 0 .3 .1 .3 0 1.3 .1-.9 0 1.3 .1 .2 0 .4 .1 .6 .1 .8 0 1.2 .1 .1 .1-.4 0-.1 .1 .4 0 2.5 .1-.9 .1-1.3 0 .5 .1 1.1 0-.1 .1 1.3 .1 1.6 0-.8 .1 .3 .1 .6 0 1 .1 .6 .1 .3 .1-.7 .1 2 .1 .2 .2 1.1 .1-.2 .1 .2 .1 1 .1-.5 .1-.2 .1 1.2 0 .1 .1 1 .1 1.4 0-1.8 .1 2.4 .1-2 0 2.1 .1 1.7 .1-1 0 .4 .1 .8 .1 .7 0-.2 .1-.2 0-.9 .1 0 0 .4 0-1.5 .1-.8 0-.4 0 1.1 .1-.9 0-2.1 .1-.6 0 .8 0-.3 .1-2.3 0 .7 0 1.5 .1-2.3 0 .4 .1-.7 0-.8 0-1.2 .1-.6 0 1 0-.8 .1-.7 0-.1 0-.5 .1-.8 .1-1 0-.5 0 .6 .1-.2 .1-.5 0-2.1 0 .9 .1-.3 .1-.1 0-1.3 .1 0 0 1 0-2.5 .1 0 .1 .9 0-2.1 0 .3 .1-.1 0-1 .1-.7 0 .6 .1-1.8 0 1 .1-.3 0-1.2 .1 .7 0-1.3 .1-.3 0-1.5 .1 .1 0-.4 .1-2 0 1.4 .1-1.4 0 .2 .1 0 0-.4 .1-.4 0 .3 .1-1.5 0-1.7 .1 .7 0-.5 .1-.2 0-.6 0 .6 .1 0 0-.1 0 1.8 .1-.9 0 .7 0 .9 .1-.8 0 1.4 0 .9 .1 .8 0-.6 0-.3 .1 .4 0 2.1 0-1.5 .1 1.6 0 .1 0-.2 .1 1.8 0-.4 0 2.2 .1-1.3 0 .8 0 .4 .1 .8 .1-1.2 .2 .3 .1-.4 .1 .6 .2-.9 .1 .5 .1-1.1 .2-1.9 .1 .3 .1 .9 0-.8 .1 .6 0 0 .1 .7 .1 .6 0 .2 .1 1.1 0-.8 .1 .8 0 1.2 .1 1.7 .1-.9 0 1.4 .1-.3 0 1.3 .1-.3 .1 .3 0 1.4 .1-.7 0 .2 .1 .8"/>
<path class="c" stroke-width="1.62" d="M347.9 550.6l0-.5 0-.2 0-1.3 .1 0 0-1.1 0 1.4 0-.4 0-1.4 .1 .6 0-2.8 0 .1 0 .1 0-1.1 0 .2 .1 .5 0-1 0-.1 0-1.4 0-.3 .1-1 0-1.2 0 .4 0 1.4 0-1.9 .1-.4 0-.4 0-1 0 1.1 0-1 0-2.2 .1 .3 0-.7 0 1.7 0-2.4 0-.9 .1 1.5 0-2.3 0 .6 0 .7 0-1 .1-1.4 0-.8 0 .5 0-.8 0 0 .1-.7 0-.1 .1-.7 0 .1 .1-1.3 0-.6 .1 .8 0-.3 .1-1.4 0 .7 .1-1.5 0-1.1 .1-.1 0-1 .1 1 0-2.3 .1-.4 0 .2 .1 .8 0-2.3 .1 .6 0 .5 .1-1.1 0-1.2 .1 .1 0 .4 .1 .1 0 1.5 .1-.2 0-.8 0 2.7 .1-.3 0-1.3 .1 3.3 0-1 .1-.3 0 1.1 0 .3 .1 .7 0 1.5 .1-2.1 0 3 .1-.2 0-1.2 0 1.5 .1-.4 0 2.2 .1-.2 0 .3 0 .2 .1 .1 0 .6 .1 .1 0 2.4 .1-1.7 0 1.3 0-.2 .1 1.9 0 0 .1 1.1 0 .8 .1-1.4 0 1.9 .1-.4 0 .4 0-.1 .1 .9 0 0 .1 .6 0 .4 .1 .9 0 .2 0 .1 .1 1.3 0-.7 .1 2.2 0-1.7 .1 2.8 0-2.5 .1 .4 0 .6 .1 2 0-.9 .1 1.2 0 .7 0-.5 .1 1.2 0-.4 .1 .7 0 .7 .1 .9 0 .1 .1-1.9 0 1.1 .1-.6 .1-1.5 0 .2 .1-1.9 0 1 .1-1.3 0-.7 .1 .9 0 .5 .1-1.3 0-.6 .1 .1 .1-1 .1 .5 .2-1.1 .1 .9 .2-1.9 .1 .2 .2 .4 .1-1 .2-1.1 0 .5 .1 .6 0-.1 .1 1.9 0-1.4 .1 .7 0 1.5 .1 1.3 0-.5 .1-.6 0 1.7 .1 0 0 .8 .1-1.3 0 .9 .1 .3 0 1.4 .1 .3 0 .6 .1 0 0 .8 .1 .4 0 0 .1 1.1 0 .9 .1 0 0-.3 .1 .2 0 2.5 .1-.9 0-.4 .1 2.5 .1 0 0-1.8 .1 3.1 0-.4 .1 1.4 0-1.1 .1 .2 0 1.7 .1-1.3 0 1.1 .1 .5 0 .6 .1-.2 .1 2 0-.6 .1 .7 .1 .1 0 .5 .1 .5 .1 1.4 .1-1.3 0 2 .1-.4 .1 .6 0 .6 .1 .5 0-.1 .1 0 0-.9 .1-.5 0-.2 .1-.1 0-1.8 0-.8 .1-.3 0 1.3 .1-2.1 0-.2 0-1.2 .1-.4 0 1.7 .1-.9 0 .7 0-1.3 .1-1.2 0-1.1 .1 .8 0 .5 0-3.1 .1 1.2 0 .4 .1-.6 0-1.3 0-1.2 .1 .3 0-.8 .1 .1 0-.8 .1 .9 0 .2 .1-.3 .1 1.4 .1 .3 0 1.5 .1-.7 .1-.2 .1 .3 0 .8 .1-.7 .1 1 .1 1.7 0 1 .1-.2 .1 .6 .1-.1 .1 0 .1-.3 .2-1.1 .1 .4 .2-1.3 .1-.2 .1 .9 0-.6 .1 1 0-.6 .1 .4 0 1.5 .1 1.7 .1-1.1 0-.3 .1 1.3 0-.4 .1 .1 0 2.3 .1 .2 0-1.2 .1 2.7 .1-1.3 0 1.2 .1 .3 0 .8 .1-.5 0 1.2 .1 .4 .2 1.3 .1-.8 .2 .7 .2-.1 .2 .2 .1 1.3 .2-.1"/>
<path class="c" stroke-width="1.56" d="M364.1 567.5l0 .1 0-.5 0 .3 0 2 0 1 0-.9 0 1 .1 0 0 .7 0 1.2 .1 .2 0 .3 0 .3 .1-.3 0-.3 0 3 .1-1.5 0 .6 0 1 .1-.9 0 .5 0 .5 .1 1 0 1 0-.1 .1 .9 0-.7 .1-.1 0-1.2 .1 .7 0-.4 .1-1.1 0 1.1 .1-2.3 .1 .4 0-.3 .1 .6 0-1.6 .1-1.1 0 1.4 .1-2.6 .1-.3 0-.1 .1-.9 0 .9 .1-.7 0-.9 .1-.2 .3 0 .3-1.3 .3 1 .4 .8 .3-1.2 .3-.5 .4 .3 .3-.1 .4 .3 .4-2.2 .4 .5 .2 1.1 .2 .7 .2-1.4 .2 .9 .2 .2 .2 .3 .2 .6 .2 .5 .2 1.3 .1 .4 .2-1.1 .2 1.3 .1 .7 .2-1.6 .2 1.9 .1-.5 .2 .9 .1 .3 0 1.3 .1-.5 .1-.5 .1 2.4 .1-1.3 .1 2.5 0-.2 .1 .3 .1 1.1 .1-.9 .1-.5 .1 1 0 .8 .1 .4 .1-.8 .1 .1 .1 .7 .1-2.9 .1 2 .1-2.2 .1 .3 .1-.5 .1-.4 0 .5 .1 .8 0 .1 .1 .4 0-.2 0 .3 .1 1.4 0 .9 .1 .2 0 .6 .1-1.4 0 1.4 0 .7 .1-.3 0 1.8 .1-.1 0 .4 .1-.6 0 .8 0 .3 .1 1.5 0 .1 .1 .4 0 .6 .1-.6 .1-.4 0 .7 .1-2.5 .1 1.3 .1-2 0 .2 .1 .4 .1-1.1 .1-.8 0-.8 .1-.2 .1 .2 0-.2 .1-1.2 0-.9 0 .9 .1-.8 0-.2 0-1.7 .1-.7 0 1.3 .1 .1 0-1.7 0 .2 .1-1.3 0-.1 .2-.4 .2-.7 .2 .1 .2 .4 .2-1.2 0 .5 .1 .6 0-.1 0 .5 0 .7 .1 0 0 1.8 0-1.4 .1 1.7 0 .2 0-.8 .1 2.3 0 1 0 .4 0-1.4 .1 1.2 0 .1 0 1 .1 0 0 .4 0 .7 .1 .4 0 1 .1-.7 .1 .9 0 .5 .1 .9 .1-.1 0 .8 .1 .5 .1 1.3 0-1.6 .1 1.6 0 1.3 .1 .4 .1-.2 0 0 .1-.4 .1 1.2 0 .6 .1 .3"/>
<path class="c" stroke-width="1.45" d="M380.4 590.5l0 .1 .1 .2 0 1.2 .1 .2 0 .4 .1 1.3 0-.9 .1 .3 0 2 .1-.4 0 .9 .1-1.2 .1 2.8 0-1.2 .1 0 0 1.4 .1 .2 0-.3 .1 1.1 0 1.1 .1-.1 0 .8 .1-.2 0 .9 .1-.4 .1-.4 .1-1.3 .1 .7 0 .2 .1-1.2 .1-1.3 .1 .5 .1-.2 .1-1.8 0 1.6 .1-1 .1-.7 .1-.4 .1-.5 .2-1.1 .2 1.1 .2-.5 .2-1.8 .2 .3 .2 .1 .1 .1 .1-1.4 .1 .6 .1-.7 .1 .4 .2-2.4 .1 .5 .1-.9 .1 0 .1-.4 .1-.5 .1-.3 0 .6 .1 .4 0 .4 .1 .1 0 1.1 0 .7 .1 .8 0-.5 .1 1.2 0-.2 .1-.3 0 .5 0 1.3 .1 .6 0-.1 .1 .1 0 1.4 .1 .4 0 .1 0 .2 .1 0 .1 .5 0 0 .1 1.5 .1-.4 0 1 .1 0 .1 1.1 .1-1 0 1.1 .1 1.6 .1 .4 0-1.1 .1 .8 0 .7 .1-.1 .1 .8 .1 .4 .1 1.2 .1-1 .1 1.3 0 .1 .1-.3 .1 .5 .1 1 .1 .6 0 .5 .2-.4 .1-.1 .1 .3 .1-.4 .1-1.7 .1 .3 .1-1.3 .1 .2 .1 0 0 .8 .1 .2 0 .7 .1 .8 0 0 .1 1.4 .1 0 0 .9 .1-.5 0 .6 .1 .6 0 .7 .1-.8 0 .9 .1 .6 .2-.7 .1 .3 .2-.9 .2 .3 .1-1.2 .2-.4 .1 .4 .1 1.1 .1-.6 .1 .3 .1 1.6 .1-.1 .1 0 .1 .9 .1-.2 .1 1.5 .1-.5 .1 .6 .1 .1 0 1.1 .1-.4 0 .6 .1 .4 0 .8 .1 1.1 0 .2 0 .8 .1-.8 0 .3 .1 .3 0 .5 .1 .5 0 1.3 0-.6 .1 2 0-.1 .1-.3 0 1.3 .1 .1 0 .6 0 .2 .1 .4 .1 .3 .1 .8 0 0 .1 0 .1 1.1 .1 .7 0-.6 .1 1.5 .1-.2 .1 1 0 .7 .1-.1 .1 .2 .1 .3 0 .6 .1 .9 .1 .5 .1 .6 .1-.4 0 1.7 .1 0 .1-.2 .1 1.2 .1 0 0-.1 .1 1.2 .1-.6 .1 1.3 .1 .1 .1 .8 .1 .1 .2 1 .2 .1 .2-.8 .2 .6 .2 1.2 .2 .1"/>
<path class="c" stroke-width="1.41" d="M397 640.2l.1-.2 .1-.7 .1 .4 .2-1.1 .1 .1 .1-1.5 .1 .4 .1-1.5 .1 .7 .1-1 .1-.3 .1-.5 .1-.3 .1-1.1 .1-.2 .1 0 .1 0 0-.6 .1-.5 .1-.8 .1-.3 .1 .1 0-.8 .1 .1 .1-.8 .1-.6 .1-.7 0 0 .1-.8 .1 .4 .1-.9 0-.1 .1-1.8 .1 1.3 .1-1.4 0-1 .1-.2 .1-.2 .1 .2 0-1.3 .1 .1 .1-.4 .1-.6 0-.9 .1 .2 .1-.1 0-.3 .1-1.1 .1 .1 0-1.8 .1 .9 .1-1.4 0 .2 .1-.6 .1-.9 0 0 .2-.1 .1 .9 .2 .9 .1-.9 .2 1.1 .2 .3 .1 .5 .2 .4 .2-.3 .3-.4 .2-.7 .3 .3 .2-.7 .1 .4 .1-.1 .1 1.1 .1-.6 .1 1.7 .1-.1 .1 .4 .1 .2 .1 .7 .1-.3 0-.7 .1-.5 .1-.8 .1 0 0-.2 .1 0 .1-1.1 .1-.5 0-.2 .1-1 .1-.1 .1 .4 0-1 .1-.5 .1-.4 0-.6 .2 .3 .2 .2 .2 1.1 .2 .8 .1 .1 .2-.4 .2 .4 .2-.7 .2 .9 .2-.7 .2-.3 .2-1.1 .1 .6 .2 .2 .1 0 .1 1.2 .1-.8 .1 1.3 .2-.5 .1 2.3 .1 .3 .2-1 .1 1.4 .1 0 0-.5 .1-.1 0-.2 .1-1.4 0-.5 .1-.4 0 .2 .1-.2 0-1.3 .1 0 0-1.2 .1-.5 0-.6 .1 .6 0-1 .1-.3 0 .1 .1-.5 0-.7 .1-.2 0-.6 .1 .4 .1 .4 .1 1.2 .1-.2 .1 .2 .1 1.4 .1-.2 .1 1 .1-.3 .1 .5 .1 .7 .1-.3 0 .8 .2-.5 0 .1 .2-1.1 0 .7 .2-1 .1-1.4 0-.4 .2 .3 0-.6 .1-.5"/>
<path class="c" stroke-width="1.43" d="M413.2 611.1l.1 .3 .1 .8 .1 .4 .1 .3 .1-.5 .1 .7 .1 1.4 .1 .2 .1 .3 .1 .6 .1-.2 .1 1 .1 .4 .3 .3 .2-1.5 .2 .1 .3-.6 .3-.2 .1 0 .1 1.6 .2 .5 .1-1.4 .1 1.3 .2 .3 .1 .3 .2 .1 .1 1 .2-.6 .1-.2 .2 0 .1-.6 .2-1.4 .1-.3 .2 .4 .1-.4 .2 .4 .2 .4 .2 .9 .1-.2 .2 .4 .1 0 0-.8 .1-.2 0-.9 .1-.4 0-.5 .1-.1 .1-1 0 .7 .1-.6 0-.8 .1 .2 0-1.4 .1 0 0-1.1 .1 0 0 .4 .1 .4 0 .7 0 .7 .1 .1 0-.3 0 .3 .1 2.1 0-.6 .1-.2 0 1.1 0 .6 .1 0 0 .1 0 2.3 .1-1 0 1.3 0 .1 .1-.1 0 .7 .1 1 0-.4 0 1.1 .1 .6 0-.1 0 1 .1 0 0 .6 .3-.1 .3 1.3 .3 .1 .3-.7 .1-.2 0-.4 0-.7 .1-.5 0-.3 0-.1 .1-.9 0-.4 0-.5 .1-1.2 0 .2 0-.2 0-1.4 .1 .8 0-.2 0-1.3 .1-1 0 .3 0-.5 .1-.4 0 .4 0-1.6 0 .7 .1-.8 0 .1 0-1 .1 .1 0-1 0-.6 .1-.9 0 .3 0-.8 0-.4 .1-.2 0-.2 .1-1.2 0-.6 .1 .4 0-1.1 .1-.4 0 .5 0-.4 .1-1.5 0-.7 .1-.3 0 .4 .1-1.1 0 .4 0-1.6 .1-.4 0 1.1 .1-1.1 0-.5 .1-.4 0-.9 0-.3 .1-.4 0-.5 .1-.2 0 0 .1 .6 .1 0 0 1.3 .1 1.1 .1 .4 0-.5 .1 1.4 .1-1.1 0 .4 .1 1.8 .1 .2 0 .4 .1-.6 .1 .8 .1 .4 .1-.2 .1 1.4 .1 .4 .1 .3 .1 .1 .1-.4 .1 .8 .1 1.8 .1-.3 .1 .2 .1 .5 .1 1 .1-.9 .1 1 .1 .6 .1 .1 .1-.1 .1 1 .1 1.2 .1-.1 .1 .2 0 1 .1 .6 .1 .6 0 0 .1-.8 .1 1.8 0-1 .1 1.8 .1-.1 0-.3 .1 1.3 .1 .9 0-.4 .1 .6 0 .5 .1 .3 0 .5 .1 .5 0 .8 .1 .1 0 1.3 .1 .1 0-.7 .1 1.1 0 .9 .1-.3 0 .6 .1-.7 .1-.1 0-1.2 .1-.5 .1 1.3 .1-1.6 0-.2 .1-.1 .1-.9 .1 .1 0-.7 .1-.4"/>
<path class="c" stroke-width="1.41" d="M430 619.9l.1 .7 .1 .2 0 .5 .1-.2 .1 .3 .1 .3 0 .6 .1 .4 .1 1 .1 .4 .1 1.3 0-1 .1 1.3 .1 .2 .1 .5 0 .4 .1-.6 .1-.2 .1-.6 0-.5 .1-.4 .1 .4 .1-1 0 .1 .1-.5 .1-1.9 .1-.4 0 1.3 .1-1.6 .1 .1 .1-1.3 0 0 .1-.9 .1 .4 .1-.4 0-.5 .1-.5 .1-.4 .1 .3 0 .9 .1 0 .1 .8 0 0 .1 1.1 .1-.9 .1 .8 0 1.1 .1-.3 .1 .8 .1 .7 0 .7 .1 .4 .1 .5 0 .5 .1 .1 .1 .2 .1 .6 .1 .1 .1 .8 .1 .4 .1 .3 .1 1 .1 0 .1 .7 .1 .4 .1 0 .1 1.1 .1 0 .1 .1 .1 .4 .1 1.6 .1-.4 .1 1.4 .1-.1 .1-.7 .1 1.4 .1-.2 .1 .9 0-.1 .1-1.2 .1 .1 .1-.5 0-.7 .1-.1 .1 .3 0-1.6 .1-.2 .1-.6 0-.4 .1-.9 .1 .5 .1-1.2 0 0 .1-.3 .1-.7 .1 .4 0-1.5 .1-.6 .1 .6 .1-1.2 0 .1 .1-1.2 .1 .4 .1 .2 .1-1.2 0-1.2 .1-.3 .1 .4 .1-.8 .1-.3 .3 .7 .3 .7 .3-.3 .3 .2 .1 0 .1-1.6 .1 0 .1-.2 .1-.2 .1-.7 .1 .3 .1-.4 .1-.9 .1-.7 .1 .2 .1 1.1 .2-.2 .1 0 .1 1.7 .2-.1 .1 .4 .1 0 .1-.1 .1-.3 0-.6 .1-.9 .1 .2 .1-1.2 0 .5 .1-1.2 .1-.5 .1 .3 .1-1.4 0 0 .1-.4 .1-.1 .1-.3 0-.9 .1 .1 .1-.9 .1 .3 .1-1.3 .1-.8 .1 .9 .1-1.6 0 .3 .1-.4 .1-.9 .2 .1 .1 .1 .1 1.3 .2 .7 .1-.8 .2 1.4 .1 .8 .1 0 .2 .1 .2 .8 .1 .7 .2-1.2 .2 .6 .2 .1 .1 .7 .2 .8"/>
<path class="c" stroke-width="1.40" d="M446.6 616.1l.2 .1 .1-1.2 .1-.4 .2-.2 .1-1.2 .2 .9 .1-.7 .1-.8 .2-.2 0 0 .1 .9 0 .3 .1 .2 0 1.4 .1-.7 0 1.3 0-.6 .1 1.3 0-.3 .1 1.1 0-.6 .1 1.6 0 .8 .1-1 0 1.4 .1 .6 0-.1 .1 .5 .1-.7 .1-.2 .1-.5 .1-.7 .1 .4 .1 0 .1-1.7 .1 .1 .2-.4 0 0 .1 1 .1 .7 .1-.2 .1-.3 0 1.1 .1 1.1 .1-.6 .1 .1 .1 1.9 .1-.6 .1 .1 0 .8 .1 .7 .1 .4 .1 .3 .1 .7 .1-.5 .1 1.2 .1 .1 .1 .6 .1 .7 .1 .1 .1 .5 .1 .9 .1-.4 .1 .8 .2 .4 .1 .9 .2 .4 .1 .6 .1-.3 .2 1.3 .1-1.1 .2 1.1 .1 .5 .1 .1 .2 .1 .1 1.8 .2-.8 .1 .6 .1 .4 .2 .2 .1 .8 .2 .5 0-.6 .1-.2 0-.4 .1-.6 .1-.2 0-1 .1 .3 0-1.2 .1 0 .1-.7 0-.2 .1-.8 .1 .4 0-1.6 .1 .8 .1-1.4 0-.1 .1-.1 0-.7 .1-.4 .3-.8 .3-.1 .3 0 .3 .2 .3 .2 .2 .4 .2 .6 .2 .3 .2 .8 .2-.1 .3 .3 .3-.8 .3 1 .3-.6 .3-.2 .1-.2 .1-.3 .1-1.4 .1 .5 .1-1.5 .1 .4 .1 0 .1-1.6 .1-.3 .1 .3 .1-.2 .1-.7 .1 .8 .1 .2 .1 0 .1 1.4 .1 .1 .1-.1 0 .4 .1 1 .1-.3 .1 .3 .1 .8 0 .4 .1-.4 .1 .1 .1-1.4 .1-.8 .1 .1 .1-.9 0-.4 .1 .4 .1-.9 .1-.4 .1-.2 0-.4"/>
<path class="c" stroke-width="1.35" d="M463.2 622.8l.2 .4 .1 .6 .1 .9 .1 .4 .1 0 .1 .3 .1 .5 .1 1.1 .1-.6 .1 .7 .1 .2 .1 .7 .1 0 0 .6 .1 1.3 .1 .5 .1-.4 0 .8 .1 .1 .1-.3 .1 1.1 0 .2 .1 1 .1 .1 .3-.5 .3-.5 .4 0 .3 0 .3-.2 .1-.4 0-.2 .1-.9 0-.3 .1-.6 .1 .1 0-1 .1-.3 0-.5 .1 .3 0-1.5 .1 .8 .1-1.4 0-.1 .1-.3 .2 .2 .1-1.1 .2-.3 .2-.5 .2-.2 0 .6 .1 .7 0 0 .1 .1 .1 .7 0 .4 .1 1.1 0-.5 .1 1.3 .1-.3 0 0 .1 1.2 .1 0 0 .8 .1 .6 .1 .2 0 .3 .1 .5 0 .6 .1 .4 .1-.2 0 1.2 .1-.1 0 1.4 .1-.8 .1 .3 0 .5 .1 .9 .1 1.1 0 .1 .1 .3 .1 .4 .1 .1 .2 1.1 .1-.2 .2 .4 .1 1.2 .2-.9 .1 1 .2 .4 .2 .3 .2 .5 .1-.2 .2 .9 .2 .9 .2-.2 .1 .3 .4 .6 .3 .7 .3-.9 .3 .8 .2 .4 .2 0 .1 .5 .2 .5 .2 .4 .2 .3 .2 .5 .1-.5 .1-.2 .2-.4 .1 0 .1-.9 .2-1.1 .1 .6 .2-.5 .1-.8 .2 .4 .2 .4 .1-.2 .2 .8 .2-.1 .2 .6 .1 .6 .4 0 .3-.7 .3-.6 .3 0"/>
<path class="c" stroke-width="1.29" d="M479.5 644.2l.2 0 .1-.9 .2-.7 .1 .4 .2-.9 .1-.2 .2-.7 .2-.1 .2 .6 .2 .1 .3-.3 .3 .4 .2 .7 .2 .4 .4 .4 .3 0 .3 .4 .3-.2 .3-.2 .3 .3 .3-.6 .4-.1 .1 .1 .1 .4 .1 .8 .1 .1 .1 .7 .1-.1 .1 1.2 .1 0 .1 .6 .1 .1 .1 .8 .1 .3 .2 .4 .2 .3 .1 .5 .2-.1 .2 .2 .2 1 .1 .2 .4-.2 .4 .3 .4-.2 .4-.5 .2 .1 .2 .7 .2-.2 .2 1.5 .2-.4 .2 .8 .2 0 .2 .6 .1-.3 .2-.5 .1 0 .2-.3 .2-1.2 .1 .1 .2-.5 .1-.4 .2-.7 .2 .2 .2-.1 .1-.4 .2-.9 .2-.4 .2-.2 .2-.4 .2-.1 .2-.7 .2 0 .2-.5 .2-.2 .4-.5 .4 .9 .4-.9 .5 .2"/>
<path class="c" stroke-width="1.27" d="M495.8 645.2l.2 .5 .2 0 .2 .5 .2 .8 .2-.1 .2 .7 .2 .4 .4 .3 .3 .8 .3-.4 .3 .5 .2 .7 .2 .1 .1 .4 .2 .2 .2 .4 .2 .4 .2 .4 .3 .1 .3 .1 .2 .4 .3 .2 .3 .4 .4 .4 .3 .5 .3 .1 .4-.5 .3 .5 .1-.2 .1-.9 .1-.6 .1-.4 .2 0 .1-.4 .1-.9 .1 .3 .1-.5 .1-.8 .2-.3 .1-.7 .1-.3 .1-.3 .2 .4 .2 .2 .2 .1 .3 1.1 .2 .4 .2 .1 .2 .2 .3-.1 .3-1 .3 .4 .3-.9 .3 .1 .3-.1 .2-.2 .3-.4 .3-.9 .3 .3 .2-.3 .3 .4 .4-.1 .3 0 .3 .3 .1-.2 0-.9 .1-.4 .1 .3 .1-.7 .1-.1 .1-1.4 0 .2 .1-1 .1 .3 .1-1.2 .1 .5 .1-1.2 0-.3 .1-.1 .3-.6 .4 .3 .3-.2 .3-.6 .3-.2"/>
<path class="c" stroke-width="1.32" d="M513.2 640.5l.2-.1 .1-.9 .2-.5 .1-.1 .1-.8 .2 .2 .1-.9 .2 .1 .1-.7 .1 .2 0 .3 .1 .5 .1 .7 .1 .5 0 .3 .1 .5 .1 .3 .1 .2 0 .7 .1 .5 .1 .5 .1 0 0 1.1 .1 .4 .1 .3 .1 .4 .2-.3 .2-.3 .3-.8 .3 .2 .2-.2 .4 0 .4-.2 .3 .9 .4 .1 .4 .4 .3-.2 .4-.5 .4-.3 .2 0 .3 .9 .2 .5 .2-.2 .3 .5 .2 .1 .2 .7 .2-.1 .2-1.2 .2-.1 .1 .1 .2-.4 .2-1.1 .2 .1 .3 0 .3 .9 .4-.8 .3 .8 .3-.1 .3-.1 .3 .2 .3-1.4 .3 .5 .3-.4 .3-.7 .3 .5 .3-.4 .4-.6 .3-.2 .3-.5 .2-.7 .1 .6 .2-1.3 .2-.5 .2 .5 .1-.6 .2-.5 .2-.8 .2 .4 .2-.4 .1-1.3 .2 0 .2 0 .2-.4"/>
<path class="c" stroke-width="1.31" d="M530.4 635.5l.3 0 .3 0 .3 .4 .3 .9 .3-.5 .2-.6 .2 0 .3-.9 .2 0 .2-.4 .2-.2 .2 .4 .2 0 .2 .5 .1 .5 .2 .3 .1 1.2 .2-.4 .2 1.1 .2 .2 .1 .1 .1 .4 .1 .6 .1-.1 .1 .7 .1 .6 .1 1.1 .2-.1 .1-.2 .1 .7 .1 .6 .3 .1 .3-.1 .3 1 .3 .1 .3 .1 .3 0 .3 1 .3-.5 .4 .1 .1 .5 .1 .3 0 .6 .1 .4 .1 1 .2 .1 .1 .4 0 .6 .1-.1 .2 .6 .1-.6 .2-.3 .1-.6 .2 .4 .2-.7 .2-.1 .1-1.1 .2-.1 .1-.6 .3-.2 .3-.2 .3-.6 .2-.7 .3 .4 .3-.6 .2 .4 .2 .3 .3 .9 .2 .3 .2-.1 .3 .6 .2 .1 .2 .6 .2 .2 .2 .5 .3-.4 .2 .7 .2 .9 .2 0 .3 .3 .3-.3 .3 1.1 .2-.6 .3 .9 .3 0 .3 .5"/>
<path class="c" stroke-width="1.35" d="M548 649.9l.2-.2 .3 .1 .3-.8 .2-.3 .2-.8 .3 .6 .3-1.2 .2 .1 .4-.2 .4 .8 .3-.9 .4 0 .4 .3 .1-.2 0-.6 .1-.9 .1 .4 0-1.5 .1 .6 .1-.4 .1-1.4 0 .1 .1-.2 .1-.7 .1-.5 0-1 .1 .5 .1-1 0-.3 .1-.4 .2 .5 .2 .8 .2 .3 .1-.4 .2 .9 .2 .4 .2 0 0-.6 .1-.6 0-.2 .1-.8 .1 0 0-1 .1 .5 0-.5 .1-.6 0 .2 .1-1.5 .1-.1 0-.6 .1 .1 0-.8 .1 .3 0-1.4 .1 .3 .1-.7 0-.2 .1-.8 0-.4 .1-.7 .1 0 .1-.4 0-1 .1-.3 .1 .3 .1-.7 0-.1 .1-.3 .1-.4 .1-1.4 .1 .1 0-.7 .1-.9 .1 .3 .1-.7 .4 0 .4 .4 .4-1 .4 0 .3-.5 .3 .6 .3 .2 .4 .3 .2-.4 .2 .4 .2-1.3 .2-.4 .2-.5 .2 .4 .2-.7 .2 .1 .1 .6 .1 .3 .1 .5 .1 1.1 .1 .3 .1-.5 .1 1.7 .1-.3 .1 .1 .1 .3 .1 .8 .2 .2 .2 .9 .2 .9 .1-.1 .2-.6 .2 1.5 .2-.1 .2 .5"/>
<path class="c" stroke-width="1.39" d="M564 631.8l.1-.1 .2 .6 .1 .7 .2 .6 .1 .4 .2-.1 .1 .1 .2 .3 .1 1.1 .2 .3 .1 .4 .3 .1 .3-.6 .4-.7 .3 0 .1-.6 .1-.2 .1-1.2 .1 1 .1-.6 .1-1.2 0 .4 .1-1.3 .1-.9 .1 .4 .1-.5 .1-.5 .1-.5 .3 0 .4-.7 .3-.6 .3 1 .4-.9 .2-.6 .4-.7 .2 1.1 .4-.8 .2-.2 .3 .6 .4-.9 .2 1 .4-.2 .3 .7 .2 .9 .3-.7 .3 .7 .2 .1 .3 1.1 .3-.2 .2-.3 .2-1.2 .2-.5 .2 .4 .2-.9 .2-.4 .2-.4 .2 .2 .1-.2 .1-1.2 .1 .1 .1-.1 .1-1.6 .1-.5 .1 .2 .1 .6 .1-1 .1-1.4 .1 .2 .1-.2 0-.6 .1-.3 .1-1.1 .1 .6 .1-.7 .1-1.2 .1 0 0-.4 .1 .6 .1-1.1 .1 .2 .1-.4 0-1.3 .1-.4 .1-.2 .1-.5 .1 .8 .1-.2 0 .6 .1 .2 .1 1.6 .1-1.1 0 1.5 .1-.2 .1 .5 .1-.3 .1 1.8 0 .7 .1 .1 .1 .5 .1-.5 .1 .9 .1-.3 .1-.4 .1-.8 .1 0 .1-1.3 .1 .6 .1-.8 .2-.7 .1-.5 .1 .4 .1-.6"/>
<path class="c" stroke-width="1.45" d="M581 617.4l0-.8 .1-.3 0 0 .1-.4 0-.8 0 .3 .1-.9 0-.1 0-1.6 .1 .3 0-.7 .1-.2 0-.5 0-1.3 .1 .9 0-1.6 .1-.5 0 1.1 0-1.6 .1 .2 0-.5 0-.9 .1-.1 .4 .7 .4-.6 .4 .3 .4-.8 .2 .9 .2-.6 .2 .5 .1 .9 .2 .8 .2-.7 .2 .8 .2 .3 .3 .2 .3-1.8 .3 0 .3 .3 .1 .8 .1 .1 0 1.1 .1-.4 0 1.1 .1-1 .1 .7 0 1.7 .1-.6 0 .7 .1 .4 .1 .7 0 .5 .1 .3 0-.1 .1 1 0 .5 .1-.7 .1-.6 .1-.2 .1 .2 0-.5 .1-.6 .1-.7 .1-1.3 .1 1.2 0-.3 .1-.4 .1-.4 .1-.5 0-1.2 .1-.7 .1-.2 .1 .9 .1 0 0 .2 .1-.2 .1 .9 .1 .2 0 .6 .1 1.8 .1-1.1 .1 .1 .1 1.2 0-.2 .1 1.2 .1 0 .1 1.3 .1 0 .1 .5 .1 .7 .2 .1 .1 .7 .1 .6 .2-.2 .1 1.3 .2 .2 .1-.1 .1-.6 .1 .5 .1-1.2 .1-.7 .1-.1 .1 .6 .1-1.7 .1-.7 .1 .2 .1-.4 .1-.7 .1-.2 .1-.3 .1-.9 0 0 .1 0 0-1.5 .1 .1 0-.3 .1-1.5 .1 1.4 0-2 .1 1.2 0-2 .1 .1 0 .7 .1-1.4 .1 0 0-.4 .1-1.4 0-.1 .1 .3 0-1 .1-.4 .1-.3 .1-.9 .1 .9 .2-.3 .1-.4 .1-1.6 .1 .2 .1-.7 .1 .3 .1-1.7 .2 .1 .2 .9 .2 0 .2-.4 .2 .5 .2 1.3 .2-.4 .1 0 .1-.9 .1-.5 .2 .3 .1-.1 .1-1.4 .1-.1 .1 .2 .1-1.3 .2-.6 .1-.3 .1-.6 .1-.3"/>
<path class="c" stroke-width="1.45" d="M597.5 597.4l.1 1 .2-.3 .1-.4 .2 2.3 .1-.1 .1 .6 .2 .4 .1 .4 .2-.2 .1 .6 .1 .8 .1-.4 .1 1.6 .1-.5 .1 .1 .1-.3 .2 1.8 .1 .6 .1 .1 .1 0 .4 .9 .4-1.7 .4 .8 .1 .8 .1 .3 0 .4 .1-.6 .1 .9 0 .7 .1 1 .1-.1 0 1.5 .1-1.3 0 1 .1-.2 .1 1.6 0-.2 .1 .4 0 .7 .1 .3 .1 1.1 .1 .2 .1-.2 .1 .2 .1 1.6 .1 .5 .1-.7 .1 .7 .1 .4 .1 .7 0 .5 .1-.1 .1 .5 .1-.5 0 1.3 .1 .4 .1 .9 .1 .2 0 .8 .1-.1 .1-.2 0-.7 .1-.2 0-.4 .1-.5 0 .2 .1-.8 0-1.1 .1-.9 0 0 .1-.7 .1-.7 0 0 .1-.2 0 .4 .1-1.3 0-.7 .1 .1 0-.9 .1-.2 0-.6 .1 0 0-.6 .1 .9 .1-.2 .1 1 0 .1 .1 .1 0-.4 .1 1.8 .1 .3 .1 .5 0 .8 .1-.3 0-.3 .1 1.8 .1-.2 0 .4 .3-.7 .3-.9 .2-.4 .2 .3 .3-.3 .3 .1 0-.4 0 0 .1-1.2 0 .4 .1-1 0-.1 .1 .2 0-1.6 0 .4 .1-1.9 0 0 .1 .9 0-1.1 .1 .3 0-.5 0-1.5 .1 .1 0-1.6 .1-.4 0 .3 .1 .1 0-1 .1-.4 .1 .1 .1-.1 .2 1.5 .1 .7 .1 .6 .2-1.2 .1 1 .2 1.1 .1 0 .2 0 .1-1.2 .2 .5 .2-1.2 .1-.2 .2 .1 .2-.9 .1-.7 .2-.1 .1 .2 0 .8 .1 .3 0 .6 .1-.2 0 1 .1 .5 .1 1.2 0-1.5 .1 1.7 0 .2 .1 .6 0-.8 .1 1.7 .1-.2 0-.2 .1 2.2 0-1.2 .1 1.4 0 .2 .1 .4 .1 .5 0-.2 .1-1.2 0 .3 .1-.1 .1-1.8 0 .2 .1 .6 .1-.7 0-.9 .1 .1 .1-1.7 0 .9 .1-1.5 .1-.5 0-.7 .1 .4 .1-.3 0-.2 .1-.8"/>
<path class="c" stroke-width="1.51" d="M614 606.8l.2 .2 .1 .9 .2 .3 .1 .4 .2-.7 .1 1 .2 .6 .1 .4 .3 .4 .3-1.4 .3-1 .2 .7 .3 .5 .3-1.1 .2-.8 .2 .3 .2-1.4 .2 .5 .2 .1 .2-1.4 .2-.4 .2 0 0-.9 .1-.5 0-.5 0 .9 .1-1.2 0 .2 .1-.5 0-.9 0 .4 .1-2.1 0-.1 0-1.1 .1 .1 0-.7 0 .8 .1-1.1 0 .1 .1-.5 0-.4 0-.9 .1 0 0-1.2 0-.5 .1-.1 0-.4 .1 .2 0-1 .1-.7 0 .4 0-2.1 .1 .3 0 .4 .1 .1 0-2.1 .1 .3 0-1.7 0 1 .1-1.3 0 .1 .1-1.3 0 .9 .1-1.5 0 0 0-.3 .1-.2 .1-.6 .1-.2 .1-1.4 0 0 .1-.9 .1 1.5 .1-2.7 0 1 .1 .1 .1-1.6 .1-.3 0-.2 .1 .3 0 1.1 .1 .1 0 1 0-1.1 .1 .4 0 .4 0 1.7 .1 1.1 0-.7 0 1.7 .1 .5 0-.5 .1-.3 0 1.1 0 .8 .1-.2 0 1.2 0-.6 .1 .2 0 .7 0 1.8 .1-.9 0 1.3 0-.4 .1 1.2 0-.1 0 .7 .2 .6 .1 .7 .1 .4 .2 .5 .1-1.3 .1 .4 .1 1.7 .1-.2 .2 0 .1 1.3 .1 .5 .2 .4 0-.7 .1-.4 .1 .7 .1-1.3 0-.5 .1-1.1 .1 .3 .1 0 .1-1.8 0-.6 .1-.2 .1 1 .1-1.6 0 .8 .1-1.2 .1-.3 .2 .7 .1 .9 .2-1.4 .1 .2 .2 2 .1 .4 .2 0 .1 .4 .1-.7 0-.5 .1-.8 0 .2 .1-.5 0-1.3 .1 .5 0-1.6 0 0 .1-.9 0 1.8 .1-1.5 0-.2 .1-.1 0-1.8 0-.5 .1-.5 0 1.5 .1-1.6 0-.6 .1 .3 0-.6 0-.6 .1-.1 0-.3 .1-.8 0 .1 0-.5 .1-.6 0-.8 0-1.3 .1 .4 0 .2 0-2 .1 .2 0-.1 .1-.9 0-.5 0-.1 .1-.9 0-1 0 .6 .1-.7 0 .3 0-.9 .1-.8 0-.2 .1 .3 .1-1.6 .2-.2 .1-.2 .1 .3 .1 .2 .1-1.2 .1-1.4 .2 .6 .1-.4 .1-.7 .1-.3 .1-.2 .1-.7 .1-1.6 .1 .7 .1-.1 .1-.3 .1-.7"/>
<path class="c" stroke-width="1.51" d="M630.2 565.6l.2 1 .1-.7 .1-.1 .1 1.2 .1 0 .1 1.2 .1 .9 .2-.5 .1 .5 .1 .4 .1 .5 .1 .4 .2 .1 .1 .5 .2 .2 .1 .8 .1-.5 .2 .5 .1 1.9 .2-.1 0 0 0 .8 0 1 0-.6 .1 .2 0 1 0 .9 0 .2 0 .9 .1-1.1 0 2.5 0-1.7 0 1.6 0 .8 .1-.3 0-.4 0 .5 0 .9 0 .9 .1-.1 0 2.3 0-.4 0-1 0 .8 .1 .1 0 2.2 0 .3 0 .3 0-.8 .1 2.2 0 .2 0-.7 0 1 0-.2 .1 1 0 .1 0 .8 .1-.1 0 1.7 .1 .1 0 .2 .1 .8 .1-.3 0 .8 .1-.3 0 1.4 .1 .2 0 .2 .1 1.1 .1 0 0 0 .1 .4 .1 1 .1-.8 .1 0 .1 1.4 .1-.5 .1 1.3 .1 1 .1-.2 .1-.1 .1-1.2 .1 .5 .1-.6 0-.2 .1-.6 .1 .3 .1-2.7 0 .9 .1-1.6 .1 .4 .1 .3 0-1 .3-.8 .2 1.1 .2-.3 .2-.6 .2-1.4 .2 .6 .3-1.2 0 1 .1-.9 .1 .8 0-.2 .1 1 0 1 .1 .5 .1 .2 .1-.7 0 2.4 .1-.7 0 .6 .1 .2 .1 .6 .1 .5 .1-.1 .1 .6 .1 .9 .1 1.3 .1-.1 .1-.1 .1 1.1 .1-.3 .1 1.1 .1 .4 .1-.4 .1 .6 .2 .4 .2-.4 .1 0 .2 1.4 .2 .3 .2 1.1 .1-.3 .1 .2 .1 0 .1 1.6 .1 .2 .1-.6 .1 1.2 .1 .2 .1 1.2 .1-.2 .1 0 0-1.2 .1-.3 0-.1 .1-.3 0-.2 .1-1.9 0 .4 .1-.3 0-1.3 .1 1.5 0-2.5 .1 1.5 0-2.2 .1 .7 0-.6 .1-.5 0-.5 .1-.1 0-.9 .1-.3 0-.7 .1-.6 0 .8 .1-.8 .1-1.3 0 1 .1-1.5 0-.1 .1-1.9 0 1.1 .1-.5 0-.2 .1-1.2 0 0 .1-.7 .1 .2 .1 .7 .1 .3 .1 .2 .2-.3 .1 .7 .1 1.3 .1 .2 .1 .5 .1-.5 .1-.1 .1-.3 .2-.1 .1-2 .1 1.3 .1-.9 .1-1.1 .1 .5 .1-.6 .1-.6"/>
<path class="c" stroke-width="1.53" d="M646.2 592.5l.3 .8 .2-.1 .2 1.5 .2-1 .2 1.3 .2-.4 .3 .4 .1-.6 .1 .3 .2-.3 .1-2.1 .1-.5 .2 1.5 .1-1.9 .1 1.3 .2-2.1 .1-.1 .1 0 .2-.5 .1 .8 .2-.8 .1 .5 .1 1 .2 1.8 .1-1.9 .1 1.8 .2-.4 .1 1 .1 .2 .1 .9 .1 .4 .1 1.2 .1-.4 .1 1.3 .2 .2 .1-1 .1-.1 .1 1.3 .1 .6 .1 .4 .1 0 .1-1.1 .1 .5 .1-.9 .1-1.4 .1 0 .1-.5 .1 .2 .1-.6 0-1 0 .8 .1-.2 0-2.2 .1 .6 0 .5 .1-1.2 0-1 0 0 .1-.2 0-.1 .1-1.2 0-1.1 .1 0 0-.8 .1-.5 0 .1 .1-.6 .1-.4 .1-.2 0-.9 .1 .5 .1-1 .1-.5 .1-.2 0-.3 .1-.3 .1 0 .1-1.7 .1-.4 .1 0 .1-.3 0-.4 .1 .2 0-1.3 .1-.7 0-.3 .1-.2 0 .7 .1-.9 0-1.6 .1 .3 0-.8 .1 1 0-1.9 .1 .2 0-1.6 .1-.8 0-.4 .1-.5 0 .7 .1-.8 0-.3 .1 .3 0-.9 .1-.6 .2 .6 .1 .7 .2-.1 .1 1.6 .2-.5 .1 .6 .2 .6 .1-.3 .4 .8 .3-1.6 .3 0 .3 .1 .1 .4 0 .5 .1 .4 0 .5 .1-.6 0 2.5 .1-1.7 .1 2.1 0-1.5 .1 .8 0 1.8 .1-.2 0 1.4 .1-1.1 .1 .9 0 1.2 .1-.5 0 .7 .1 .7 0-.3 .1 1 .1 .4 0 .1 .1-1.7 0 .9 .1-1.2 0-.4 .1 .5 0-.5 .1-1.7 0 .9 .1-1.6 0 .1 .1-1.8 0-.4 .1 1 0-.9 .1-.2 0-.6 .1-.7 0-.9 .1 .7 0-1.6 .1-.2 0-.4 .1 .5 0-1.4 .1-1.2 0 .2 .1-.3 0-.5 .1-.7 0-.4 .1-.2 0 0 .1-.4 0 .2 .1 .8 0 0 0 1.6 .1-.2 0 1.3 .1-.5 0-.7 0 .4 .1 1.3 0 .4 0 1 .1 .6 0 .8 0-.7 .1 .9 0 1.6 0-.6 .1 0 0 .3 0-.2 .1 1.5 0-.2 .1 1.9 0 .1 0 .4 .1 0 0 .5"/>
<path class="c" stroke-width="1.53" d="M662.5 580l.1 .7 .1-.1 .1 .7 0 .5 .1-.5 .1 2 .1-.4 .1-.7 0 1.1 .1 1.2 .1-.3 .1 .8 .1 .1 0 .3 .1 0 .1 1.5 .1 1.1 0 .3 .1-1.6 .1 .9 .1 1.2 0-.5 .1 1.5 .1 .2 0-.3 .1-.6 0-.3 .1-.2 0-.7 .1-.7 0-1.4 .1 .8 0 .7 .1-2.5 0-.8 .1 .5 0-.2 .1 .1 0-1.1 .1-.9 0 .1 .1 .3 .1 .2 .1 .8 .1 1.4 .1-.5 .1 .4 .1 1.3 0-.1 .1 .7 .1-.7 .1 2 .1-.6 .1 1 .1-.1 0-.7 .1 1.4 .1 .8 .1 .5 .1 0 .1-.8 0 .1 .1-1.4 .1 .5 .1-.1 0-.9 .1 .4 .1 0 .1-2.9 .1 .8 0 0 .1-1 .1-.7 .1 .8 0-.7 .1-.9 .1 1 .1-.4 0 .8 .1-.9 .1 2 .1-1 0 2.2 .1 .2 .1 .1 .1 .4 0 .5 .1 .1 .2 .3 .1 .1 .2 1.4 .2 .9 .1-.7 .2 .4 .1 .1 0-1.2 .1 .7 0-.5 .1-.2 .1-2.5 0 1.1 .1-1.4 0-.1 .1-.9 0 .8 .1-1.8 .1 .9 0-.6 .1-1.2 0 .1 .1-.7 .1-1 0 .7 .1-.4 0-.8 .1-.6 .1-.7 0-.3 .1 .9 0-2.8 .1 1.5 0-.6 .1-1.2 .1 .6 0-1 .1-.6 0 .3 .1 .4 0 .1 0 1.1 .1 .9 0-.9 .1 2.4 0-.5 .1-1 0 .4 0 1.7 .1 .1 0 .8 .1 .3 0 1 0 1.1 .1-1.2 0 .6 .1 .2 0 .7 .1 .9 0-.1 .1-.6 0-.8 .1-.7 0 .9 0-1.1 .1-.4 0-1 .1-.3 0 .9 .1-.6 .1-1.6 0 .3 .1-1.5 0-.5 0 .1 .1-.9 0-.1 .1-.4 .1-.4 0 .2 0 1.4 0-1.1 .1 1.1 0 .3 0 .5 .1 1.9 0 0 0 .8 0 .6 .1-1.3 0 1.7 0-1.5 .1 2.1 0 0 0 .7 .1 .4 0 1 0-.4 .1 .6 0 .4 0-.9 .1-.2 0-.2 .1-.2 0-.4 0-1.1 .1 .6 0-.7 .1-.4 0 .2 .1-.7 0-1.1 .1 0 0-2.1 0 .6 .1-1.8 0 .7 .1-.5 0-1.4 .1 1.6 0-1.9 .1 .7 0-.4 0-.9 .1-1.1 0 .4 .1-.7 0-.6 .1 0 .1-.1 .1 2 .1-1.4 .1 .9 .1 2.4 .2-.4 .1-1.2 .1 2.4 .1 .5 .1-.8 .1 .7 .3 .4 .3-1.3 .3-.6 .3 .9 .1-.7 .1-.9 0 .2 .1-.1 .1-.2 0 .2 .1-.5 .1-1.2 0-1.4 .1-.1 0 .3 .1 0 .1-.9 0-.1 .1-.2 .1-.4 0-1.5 .1-.5 .1-.2"/>
<path class="c" stroke-width="1.57" d="M679.4 571.2l0 .1 .1-1.4 0 .7 .1-1.1 0-.7 .1 .4 0-2 .1 .9 0-1.5 .1 .1 0 .6 .1-2.2 .1 .1 0-1.1 .1 .7 0-.7 .1-.3 0 .5 .1-.9 0-.9 .1-.5 0-.2 .1-.5 0-.7 .1 0 0 1.1 0-.6 .1 .3 0 2.5 .1-.6 0-.3 .1 .5 0 1.7 0 .6 .1-1.6 0 3.1 .1-2.1 0 .6 0 1.3 .1 1.1 0-.7 .1 .3 0 .8 .1 1 0 .4 .1-1 .1-.2 .1 1.2 .1-.5 .2-1.7 .1-1.4 .1 .7 .1-1.1 .1 .2 0 .3 .1 .5 0 .5 .1 .4 0 .6 0-.7 .1 2.6 0-.9 0 .2 .1 .7 0-.7 .1 2.5 0-.7 0 1.6 .1 .9 0 .5 .1-1.2 0-.3 0 1.4 .1 0 0 .6 0 1 .1 .5 0-.5 .1 .9 0 .6 .1-.2 .1 1.8 .1 .3 .1-1.4 0 2.6 .1-.8 .1 1.5 .1-1.3 .1 1.4 .1 .5 .1-.5 .1-.5 .1-.4 .1 .1 .1 .4 .1-1.8 0-1.2 .1-.3 .1 .9 .1 0 .1-1.3 .1-.4 .1-.7 .1 0 0-1.3 .1-.1 0 .1 0-1.2 .1-1.2 0-.3 .1 1.3 0-1.1 .1-.7 0 .5 .1-1.2 0 .8 0-3.1 .1 .3 0-.5 .1-1.1 0 1.2 .1 .1 0-2.6 .1 .6 0 .1 .1-.4 0-.8 0-.8 .1-.4 0 .1 .1-.7 .1-.2 0 .9 .1 1.1 .1-.4 .1 .1 .1 1.4 .1-1.4 0 2.5 .1-.4 .1-.7 .1 1.7 .1-.2 .1 1.1 0 .8 .1-.1 .2 0 .2 .3 .2-.1 .1-1.2 .2 .4 .2-1.5 .2-.4 0-.9 .1 .2 0-1 0 .3 .1-1.2 0 .3 0-1.7 .1 1.1 0-.6 0-.6 .1-.2 0 .3 .1-1.5 0-1.2 0 .5 .1-1.8 0-.7 0 1.3 .1-1.2 0 .7 0-1 .1-.7 0-.4 0-.6 .1-.3 .1-.6 .1 .7 0-1.2 .1 .3 0-.7 .1-.4 .1-.8 .1 .2 0-1.4 .1-1.6 0 .9 .1 .3 .1-1.4 0-.3 .1 .9 .1 .6 0 .2 .1 .3 0 1.2 .1 .6 .1 .1 0 0 .1 .7 0 .6 .1-.1 .1 0 0 .9 .1-.4 0 1.3 .1 0 0 .6 .1 .8 .1 0 0-.5 .1 1.4 0-.8 .1 1.2 0 .1 .1 2.6 0-1 .1 1.1 0 0 .1-.8 .1 1.4 0 .9 .1 .1 0 .4 .1 .8 .1-.8 0 1 .1 2 .1-2.2 .1 2 0-.3 .1 1.2 .1-1.1 .1 1.1 0 1 .1 .3 .1 .7 .1 0 0-.5 .1 .2 .1 2.3 .1-.5 .1 .8 .1 1 .1-.3 0 1.4 .1-1 .1 .9 .1-.3 0-.5 .1-.7 0-.9 .1 .6 .1-1.5 0-.5 .1 1.7 0-2.5 .1-.6 0 .7 .1-.3 .1-1.8 0 .3 .1 .2 0-1.3 .1-.1"/>
<path class="c" stroke-width="1.58" d="M696 567.5l.2-.5 .2-.4 .1-1.6 .2 2.5 .2-.5 .2-1.2 .1-.8 .1-.1 .1-.8 0-1.3 .1 1.2 0-1.2 .1-.9 0 1.4 .1-1.1 .1 .1 0-2.1 .1 .9 0-.1 .1-.6 0-.8 .1 0 .1-.6 0-.8 .1-1.4 0 1 .1-2 0 .2 .1-.4 .1 1.2 .1-.7 .1 .6 .1 2 0-2.1 .1 .7 .1 .3 .1 .9 .1 1.5 .1 0 .1 0 0-1 .1 .1 .1-.4 .1-.5 0-.9 .1-1.2 .1-.9 .1 2.3 .1-2.1 0-1.4 .1 2 .1-.9 .1-2 0-.2 .1 .2 .1-.4 0-1 .1-.8 0-.1 .1 1 .1-.3 0-2.6 .1 1.4 0-.9 .1 0 0-2.2 .1-.2 .1 1.6 0-.1 .1-2.1 0 .2 .1-.6 .1-1.6 0 0 .1 .3 0-.9 .1 0 0 0 0 1 .1 .4 0 1.2 0-.7 .1 .8 0-.8 0 .3 .1 2.9 0 0 0 .8 .1-.1 0-.9 0 .1 .1 .9 0 .3 0 .6 .1 2.2 0-1.1 0 .7 .1-.2 0 1.2 0 .4 .1 .4 0-.1 .1 .9 0-.4 .1-.4 .1 0 .1-1.2 .1 .9 0-.4 .1-2.8 .1 2 .1-1.5 .1-.5 .1-.4 .1-.3 0 .1 .1 .5 0 1.4 .1-.2 0 1.4 .1 .6 0-.7 .1-.1 0 1.2 .1 .2 0-.6 .1 1.6 .1-1.1 0 .6 .1 1.7 0-.2 .1 .7 0 1.2 .1-.5 0 .7 .1-.1 0 1.5 .1 .1 .1-.4 .1 .2 .1 .9 .1 1.3 .2-.1 .1 1.1 .1 0 .1 .4 .1 .4 .4 1.1 .4-1.2 .3-.3 .4 1 0 .7 .1 .9 0-.1 0 .9 .1-.9 0 .9 0-.6 .1 1.4 0 1.8 0 .6 .1-2 0 1.6 0 1.5 .1-.9 0 .5 0 .9 .1 .8 0-.1 0 .2 .1 .4 0 .9 .1 1 0-.5 .1 .4 0 1.4 .1 .6 0-1 .1 2.1 0-.7 .1-.1 0-.4 .1 1.9 0-.4 .1 .8 0 1 .1 .1 .1 .7 .1 .5 .1-1.1 .1 2 .2-.4 .1 .2 .1 .7 .1 0 .1 1.2 .1 .5 .1 1.2 .2-.4 .1-.1 .1 1.9 .2-.4 .1 .3 .1 .1 0 0 .1-1.1 0 .3 .1-1.2 0-1.2 .1 .3 0-.8 .1 .7 0-.3 0-2.3 .1 1.8 0-1.3 .1-1.1 0-.9 .1 1.4 0-1.7 0 .8 .1-1.3 0-.4 .1-.5 0 .1 .1 .2 0 .8 0 1.3 .1 .8 0-1.1 .1 .7 0 .7 .1 .7 0-.9 0 1.5 .1 .1 0 0 .1 2.2 0-1 0 .7 .1 1.1 0-.1 .1 .1 0 1 .1 .5"/>
<path class="c" stroke-width="1.49" d="M712.8 587.5l0 .4 .1 .2 0 .6 .1 .1 0 .1 .1 1.2 .1-.1 0 1.7 .1 0 0 .6 .1 .6 .1 .2 0 .4 .1 .6 0-.3 .1 .5 .1 .7 .1 .6 .1 .1 .1 1.2 .1 0 .1 .7 .1 .3 .1 .3 .1 1.2 .1 0 .1-.3 .1 .7 .1 .2 .1 .6 0 .6 .1-.3 .1 1 .1-.1 0-.2 .1 1.5 .1-.3 .1 .9 0 .4 .1 .6 .1 1 .1-.7 0 1.2 .1-.2 .1 1.1 0 .4 .2-.9 .2-.4 .2 .6 .2-1.7 .1 .2 .2-.7 .2 .4 .1 .8 0 .5 .1 .1 .1-.3 .1 .8 0 1.7 .1-1.3 .1 2.3 .1-.9 0 .3 .1 .2 .1 .6 .1 1.5 0-.3 .1 .7 .1 0 .1 .8 0-.1 .1 .3 .1 .7 .1 .4 .1 .8 0 1.5 .1-1.3 .1 0 .1 .5 .1 .6 .1 .9 .1 .7 0-.5 0-.9 0 .5 .1-1.2 0-.6 0-.2 .1 .5 0-.3 0-.4 .1-1.7 0-.2 0-.8 .1-1 0 .7 0-1.6 .1 .6 0-1.2 0 .5 .1-1.4 0 .3 0-.2 .1-1.4 0-.1 0-.5 .1 .1 0-.4 0-.5 .1 .4 0 .4 0 .9 .1 .2 0 .9 .1-.1 0 0 .1 1.9 0-.6 0 .9 .1 .6 0-.9 .1 1.8 0-.2 0 1 .1 .2 0 1 .1-.2 0 .9 .1 .2 0 .1 .3-1.3 .3-.4 .3 1.3 .4-.8 0-.5 .1-.2 0-.3 .1-.3 0-.7 0-.4 .1-.1 0-.6 .1-.5 0-.7 .1-1 .1 .9 0-2.3 .1 1.5 0-1.5 0-.6 .1-1 0 .2 .1 .2 .1-.9 0 0 0-.8 .1-1.2 0 .4 .1-1 0-.5 .1 .5 0-.7 0 0 .1-2.2 0 .5 .1 .7 0-.5 .1-1.7 0-.1 0 .2 .1-1.3 0-1 .1 .2 0 0 .1-1 0-.2 .1-.3 0-.2 0-.7 .1-1.1 0 0 .1 0 0-.9 .1 .5 0-2.1 .1 .3 0-.1 .1-1.1 0 0 .1 .8 0-2.4 .1 .2 0 .9 .1-1.4 0 .3 .1-.3 0-.4 .1-1.6 0-.2 .1-.6 0-.4 .1 0 0-.7 .1-.8 0 0 .1-1.3 0 .5 .1-.2 .1-1.8 0 1.7 .1-.4 .1-1.2 0-1.1 .1 1 .1-2.8 0 .6 .1 .3 0-1.1 .1-.2 .1-.2 0-.4 .1-.8 0-.6 .1 1.1 .1 .8 .1-1.1 .1 .8 .1 1.7 .1-1 .1 1.5 .1-.4 .1 .4 .1 .2 .1-1.1 0-.1 .1-.8 .1-.5 .1 .6 0-1.3 .1 .1 .1-1.7 .1 .6 0-.4 .1-.6"/>
<path class="c" stroke-width="1.63" d="M729 573.8l0-.6 .1-.1 0-1 0-1.1 .1 .2 0-.6 .1 .3 0-.6 0-1.5 .1 .8 0-.6 .1-.8 0-.2 0-.2 .1-.3 0-1.3 0 .6 .1-.4 0-.6 .1-.8 .1 .3 .1-1.9 .1 .1 .1-1.2 .1 .8 .1-1.3 .1 1.6 .1-1.8 .1-.2 .1-.4 .1-.2 .1-.8 .1-.7 .1-.1 0 .6 .1-2.7 .1 1.6 .1-.2 0-1.6 .1 .9 .1-3 .1 1.4 .1-2 0-.5 .1 1.8 .1-1.3 .1-.7 0-.4 .3 .2 .3-.7 .2 .4 .2-1.7 .3-.1 0-.9 .1 .8 0-.9 .1-.5 0 .2 .1-1 0-1.1 .1-.7 0 1.5 .1-2.2 0 1.6 .1-3 0 0 0 1.1 .1-.3 0-2.4 .1 1.3 0-.8 .1-.8 .1 1.2 .1-.5 .1 .4 .1 .3 .1-.5 .1 1.7 0 .9 .1-.3 .1 .5 .1 .4 .1-.3 .1 1.5 .1 .4 .1 .5 .1 0 0 2 .1-1.3 .1 1.6 .1-1.8 0 2.7 .1 .7 .1-.7 .1 .7 0 .8 .1-.2 0-.3 .1-.3 0-1.1 .1-.5 0-.8 0 1 .1-1.7 0 .6 0-1.3 .1 .7 0-.2 .1-.6 0-1.8 0 1.2 .1-2.8 0 .8 .1 .4 0 .2 0-3.1 .1-.3 0 1.6 0-1.5 .1-.9 0 .1 .1-.3 0-.4 0-.5 .1 .2 0-.7 0-.1 0-2.1 .1 .8 0-1.9 0 .4 0 1.1 .1-3 0-.4 0 2.2 0-1.9 .1-.6 0 .8 0-2.5 0-.4 .1 1 0-1.2 0-.8 0-.2 .1 1.4 0-1.5 0-1.7 0 1.2 .1-2 0 1.1 0-1.8 0 .2 .1-.8 0 .2 0-1.2 0-.4 .1 .5 0-1.5 0 .2 0-1 .1 .3 0-.9 .1-.7 .2-.3 .1 .7 .2-1.7 .1-1.2 .1 1.7 .2-.2 .1-2.5 .2 .4 0 .1 0 1.3 .1 .3 0-.2 .1 .4 0 0 0 0 .1 1.3 0 .8 .1-.5 0 1.4 0 1.6 .1-.8 0 .1 .1 1.8 0-.4 0 .1 .1 1.5 0-1.3 .1 .5 0 1.6 0-.3 .1 .8 0 .2 .1-.3 0 1.7 0-.1 .1 1.2 0 .5 .1-.1 0 .6 .1-.4 0-.1 .1-1.7 0 1.2 .1-1.5 .1-.8 0 .8 .1-1.2 0-.5 .1-1.3 0 .8 .1-.4 .1 .1 0-1 .1-1.5 0 .3 .1-.3 .2-.3 .2 1.1 .1-2.6 .2 1.1 .2-1.2 .1 1.2 .1 0 .1 1.4 .1-.6 .1 1.7 .1-1.7 0 2.6 .1-2.6 .1 2.6 .1 .3 .1-1 .1 2.1 .1-.4 .1 .4 .1 .5 .2-.5 .1 2 .1-.8 .1 1.5 .1 .1 .1 1.4 .2-.2 .1-.5 .1 .5"/>
<path class="c" stroke-width="1.59" d="M745.4 535.6l0 .3 .1 1 0-.1 0 .5 .1 1 0 1.2 .1-1.3 0 .3 0 1.4 .1 .3 0 .3 0-.6 .1 2.2 0 0 .1 0 0 .4 0 .1 .1-1.3 0-.1 .1-.6 0 .6 0-2.1 .1-.2 0 .3 .1-.8 0 .5 .1-1.3 0-.2 0-.8 .1-.9 0-.8 .1 1 0-2.2 .1 1.6 0-1.3 0 0 .1-1.4 0 0 .1-.4 0-.3 0 1 .1 .2 0-.1 0 .5 .1 .6 0 1.4 .1-1.9 0 3.2 0-1.5 .1 1.7 0 .1 0 .7 .1 .4 0-1.6 0 1.6 .1 .6 0 .7 .1 .8 0 .3 0 .4 .1-.6 0 .5 0 1.3 .1 .3 0 .1 .1 1.4 0 .8 0-.3 .1-1 0 1.5 0-.8 .1 3.2 0 .5 .1-.7 0 1.4 0-.5 .1 .8 0 .8 0-1.2 .1 1.6 0 0 .1 .3 0 .9 0 .8 .1-.9 0 1.1 .1 .2 0-.7 .1-.7 .1-.7 .1 .2 .1-.4 0-.3 .1-1.8 .1 1 .1-.6 .1-.4 .1-.1 .1-.5 .1-.3 .1-1 0 0 .1 .5 .1-2.3 .2 .1 .1 .3 0-.4 .1-.7 .2-.6 0 0 0 .2 .1 1.2 0 .7 0-1 .1 .7 0 1 0-.3 .1 1 0-.3 0 3 .1-.2 0 .2 0-.2 .1 .2 0 1.7 0-1.2 .1-.2 0 1 0 .4 .1 .6 0 1.2 0-.6 .1 1.2 0 .7 0 .3 .1 .5 0 0 0 .5 .1 .4 0 .1 .1 1.8 0 .5 0-1.8 .1 1.5 0-.2 .1 2 0-.2 0-.1 .1 .3 0 1.4 0 .1 .1-.2 0-1.3 .1 .8 0-1.5 .1-.1 0-.2 .1 .7 0-1.4 .1-1.1 0 1.1 .1-2.3 0 1.6 .1-3.2 0 .3 .1-.3 0 1.2 .1-2.6 0 .6 .1-.6 0-.1 0-.7 .1 .4 0 1.1 .1-.2 0-.6 .1 .7 0 .8 .1 .5 0 2.1 .1-.4 0 .5 .1-.7 0 .2 0-.1 .1 2.3 0 .1 .1-.2 0 1.5 .1-.3 0 .4 .1 1 .1-1 .1 .2 .1 1.6 0 .9 .1-.6 .1 .5 .1 .4 .1 1 .1-.9 0 2 .1 1 .1 .2 .1 .1 .1-.2 0 .9 0 0 .1 .7 0 .6 0 1 0-1 0 2.1 .1-.7 0 .4 0 .1 0 1 .1 1.5 0-1 0-.1 0 1 .1 1.8 0-1.2 0 .7 0-.3 .1 1 0 .2 0-.1 0 1.3 .1 .4 0 .5 0 .5 0 .2 .1 .9 0 .2 0 .5 0 .5 .1 .5 0-.1 0-.1 0 1.3 .1 1.7 0-.9 0 1.1 0 1.2 .1-1.6 0 .5 0 2.4 .1-2.2 0 .4 0 3.1 0-2.2 .1 2.4 0 .3 0 .9 0 .1 .1-.6 0-.2 0 .8 0 .7 .1 .5 0 1.5 0-.5 .1 .9 0 .2 0 0 .1-.7 0-1.4 0 0 .1-.3 0 .8 0-2.7 .1 2 0-1.3 .1-1.7 0 1.3 0-1.9 .1-.2 0 .3 0-.2 .1-2.4 0 2.2 0-1.8 .1 .2 0-1.1 .1-.7 0 .3 0-.2 .1-1.1 0-.9 0 .2 .1-.6 0-.4 .1-1.2 0 .5 0-1.2 .1-1 0 1.1 0-.6 .1-1.1 0 0 0 .2 .1-1.6 0 .3 .1-1.6 0-.2 0 .7 .1-.2 0-2.2 0 1.4 .1-.8 0-.6 0-.3 .1-.2 0-1.2 .1-.4 0 .5 .1 .5 0-.6 .1 .6 .1 1.5 0-.6 .1 1.6 0-.9 .1-.1 .1 3.1 0-.9 .1 .8 .1-.9 0 1.6 .1 .3 .1 .3 .1 .1 .2-1.3 .2 .3 .2-.7 .1 .2 .2-.5 .2-.5 .1 .5 0-.3 .1 .5 0 .4 .1 1 .1 0 0 .9 .1-.3 .1 2.5 0-.2 .1-.1 .1 .2 0 1.3 .1-.7 0 .6 .1 1.2 .1-.6 0 1.7 .1-.9 0 1"/>
<path class="c" stroke-width="1.58" d="M762.2 582.5l.1-.4 0-1 .1-.5 0 .1 .1-.7 0 1 .1-1.3 0 .5 .1-1.3 0-1.6 .1 1.2 0 0 .1-2.1 0 .8 .1-1.6 0-.5 .1-.1 0-1.2 .1 .9 0-.9 0-.7 .1 0 .1 1.3 0 .8 .1-.1 0 0 .1 1.3 .1-.7 0 1 .1 .4 0-.7 .1 .5 0 .3 .1 .8 .1 .4 0 1 0-.2 .1-1 0 .5 0-1.3 .1-.1 0-1.1 0 .2 0-1.1 .1 1.3 0-2.5 0-.8 0 1.2 .1-.7 0 .2 0-.5 0-1.5 .1-.5 0 .3 0 .4 .1-2.2 0 .3 0-.3 0 .6 .1-1.1 0-.9 0 .4 0-2.2 .1 .5 0-1.4 0 .8 0-.5 .1-.7 0-.5 0-.7 .1-.6 0-.7 0 0 0-.8 .1-.9 0 1 0-.4 0-.7 .1-1.1 0-.7 0 1.2 0-1.8 .1-1.3 0 .7 0-.5 .1 .9 0-2.5 0 1.7 0-.6 .1-1.8 0-.7 0 .2 0-1.4 .1 .8 0-1.5 0 .1 .1-.4 0-.1 .1-.6 .1 .3 0-1.2 .1 .7 .1-1.7 0-1.8 .1-.1 .1 1 0-.5 .1-1.1 .1-.8 0 .3 .1 .5 0-.1 .1-.1 0 .6 .1 2.4 0 .5 0 .5 .1 0 0 0 .1 .7 0-.1 .1-.3 0 .4 .1 .9 0-.3 .1 2.2 0 .2 .1-.4 0 .5 0 .8 .1-.3 0 .1 .1 2.1 0 0 0 .1 .1-.3 0 .4 0 1.4 .1 1.3 0 .5 .1-.6 0 .2 0 .6 .1-1.2 0 1.7 .1 1.4 0 .5 0 .2 .1 .2 0 .3 0-.2 .1 .6 0 .3 .1 .2 0 .9 .1-.1 .2-.9 .1 .6 .2 .1 .1-1.3 .1-1.5 .2 .7 .1-1.1 .2-.2 0-.5 .1-1 .1-.5 .1 1.5 .1-2.9 0 1 .1-.4 .1-1.1 .1-1 .1 .2 .1-.6 .1 .3 .1-.8 .1 .9 .1-.6 .1-1.1 .1-.6 .1-.2 .1 .3 .1-1 .1 .7 0 .9 0 .1 .1-.9 0 1.1 .1 1.4 0-.8 .1 .3 0 1.5 0 .3 .1 .7 0-.2 .1 1 0 .4 0 .2 .1-.7 0 1.7 .1 .2 0 .2 .1 1.3 0 0 .2-.1 .2-.1 .2 1 .2 0 .2 1 .1-.1 .1 0 .1 .2 0 1.6 .1 1.6 .1-1.8 .1 .7 .1-.1 0 1.8 .1-.3 .1 1.7 .1-.3 .1-.6 0-1.1 .1 1.4 0-.2 .1-2.9 0-.1 .1 1.1 0-2.4 .1 .6 0-.2 .1-.1 .1-1.8 0 1.5 .1-.6 0-.6 .1-.8 0-.6 .1-1.2 .1 .3 0-1.4 .1 1.7 0-.7 .1-2 0 .3 .1 .8 .1-1 0 .4 .1-1.6 0-.7 .1-.6 0 0 .1-.2 .1 2 .1-.4 .1 .9 0 .8 .1-.4 .1 1.7 .1 0 0-1.8 .1 .9 .1 1.9 .1 .5 0-.3 .1-1.1 .1 .5 .1-1.3 .1-.5 .1 .8 .1-.7 0-1.5 .1-.8 .1 2 .1-1.7 .1 .2 0-.9"/>
<path class="c" stroke-width="1.58" d="M778.2 558.1l.1-1.1 .1 .7 .1-1 .1 .9 .1-.9 .1-1.9 .1 .9 0-1.4 .1 0 .1-.5 .1 .3 0-.2 0 .3 .1 1.9 0-.2 0-.7 .1 1.3 0 .8 0 1.5 .1-1.3 0-.2 0 2.1 .1 1 0-.3 0 .5 .1 1.3 0-1 0 0 .1 .8 0 1.7 0-1.1 .1 1.1 0 .5 0 .6 .1 0 0 .5 .1-.2 .1-.6 0-.6 .1-1.5 .1 2.2 .1-3.2 .1 .9 .1-1.6 .1 2 0-1.7 .1-.1 .1-.6 0 .9 .1 .5 0-.2 .1 1.5 0 .1 0 .9 .1-.6 0 0 0-.3 .1 2.4 0 .9 .1-2.3 0 .5 0 2.1 .1 .1 0 .9 .1 .1 0-.1 0 .4 .1 0 0 1.4 0-.6 .1 1.3 0 .2 .1 .8 0 .3 .1 .2 0 1.1 .1 .1 0 .8 .1-1.2 0 2.7 .1 .3 0-1.8 .1 1.2 0 .8 .1 .7 0 .9 .1-.7 0 1.6 .1-.4 0 1 .1 .3 0-.5 .1-1.2 0-.6 .1 .7 0 .3 0-.9 .1-1.2 0 1.2 .1-1.8 0-1 .1-.1 0 .2 0-1.3 .1 .3 0-.2 .1-1.4 0-.1 .1 .4 0-.8 .1-.8 0-.8 0 .6 0-1.1 .1 .4 0-2.1 0 1.1 0-1.5 .1-.2 0-.2 0-.9 .1 .2 0-1.5 0-.2 0 .2 .1 .3 0-.4 0-.9 0-.7 .1-1.9 0 1.8 0-2.5 .1 1.6 0-1.9 0-.3 0 .3 .1-1 0-.3 .1 .9 0-.4 .1 .2 0 .7 .1 1.9 0-1.1 .1 .1 0 1.3 .1 1.3 0 .7 .1-.9 .1 1.5 0-1.1 .1 1.6 0-.2 .1 .4 .1-.1 .1-1.7 .1 1.1 .1-1.1 .1 .4 .1-.9 .1-1.7 .1-.1 0 .3 .1 .1 0 1.3 0-.8 .1 1 0 .7 0-.1 .1 1.2 0-.5 0 .8 .1 .4 0 .8 0-.1 .1 .7 0 .2 0 1.2 .1-1.1 0 1.9 0-.7 .1 2.1 0 .2 0 .3 .1 .9 0-1.3 0 2.3 .1-1.1 0 1.2 0-.4 .1 1.4 0-.1 0 1 0 .3 .1 1 0 .1 .1 .2 0 .1 .1 .8 0 1.6 .1-1.5 0 2.2 .1-.4 0 1.5 .1-1.6 0 .8 0 1.1 .1-.8 0 .9 .1 1.5 0-.7 .1 .5 0 .8 .1-.9 0-.1 .1-.6 0 .7 .1-1 0-1 .1-1.2 0 .6 0-1.3 .1 .6 0-.3 .1-2.2 0 .1 .1 0 0 .4 .1-1.5 0 .6 .1 0 0-1.9 .1-.3 0 0 .3-.4 .4-1.7 .3 1.3 .3-.5 0-.7 .1-.5 0-.1 0 .6 .1-1.7 0-.7 0-.1 .1-.2 0 .8 .1-2.2 0 1 0-.6 .1 .1 0-2.7 0 1.5 .1-1.3 0-.6 .1-1.5 0 0 0 .2 .1 0 0-1 0-.3 .1-.6 .1-.5 0 .4 .1-.8 0-1.3 .1-.6 0-.5 .1 .2 0 .1 .1 .7 0-.4 .1-2.6 0 .2 .1-1.1 0-.3 .1 .7 0-1 .1-.4 0-.3 .1 0 .1-.7 .1-.8 0 0 .1-.7 .1-.3 .1-1.1 0 .5 .1-1.2 .1 1.3 .1-.5 0-1.5 .1-.6 .1 .4 .1-1 0-.3 .1-1 0 .2 .1 1.2 0-.3 .1 1.1 0-.1 .1 1.2 0 .2 0-1.4 .1 1.4 0 0 .1 .3 0 .5 .1 1.5 0 .1 .1 .4 0 .5 0 0 .1 .1 0 1.2 .1 1 0-.4 .1 1 0 .3"/>
<path class="c" stroke-width="1.64" d="M794.5 556.9l.1 .2 0-.4 .1-1.2 .1 0 .1-.4 0-1.1 .1 .6 .1-.2 .1-2.5 0 0 .1 0 .1 0 0 0 .1-1.4 0 .4 .1-1.5 0-1 0 2.2 .1-3.2 0 2 .1-2.9 0 2.5 .1-2.1 0 .6 0 .1 .1-.5 0-2 .1-1.4 0 .9 .1-.8 0-.5 0-.2 .1 .5 0-.4 .1 1.2 0-.6 .1 2.7 0-1.3 .1 .5 0 1.1 0 1.7 .1-1.4 0 1.1 .1-.4 0 2.1 .1-1.6 0 2.7 0-.3 .1 1.1 0 .3 .1 .4 0-.3 .1 .5 0-.2 0 .6 .1-.2 0-.5 .1-.8 0-1 .1-.9 0 1.3 0-1.3 .1-1.5 0 .5 .1-1.5 0 2.5 .1-3.4 0 2.4 0-2.1 .1-1.6 0 2.1 .1-1.5 0-.2 0-.9 .1-.3 0-1.3 .1-.2 0 .2 0-.4 .1 .2 0 .1 .1 .3 0 .5 .1 .4 0 1.7 0-.6 .1 .8 0 .1 .1 1.4 0 .9 0 .6 .1-2.1 0 2.1 .1 .5 0-.6 .1 1.5 0 1.2 0-.8 .1 1.3 0-.1 .1-.3 0-1.3 0 .8 .1-.8 0 .5 0-2.8 0 2 .1-.9 0-.8 0-.9 .1-.1 0 .8 0-2.8 .1 .3 0-.3 0-1.6 .1-.8 0 1.4 0 .1 .1-2.1 0 1.1 0-1.4 .1 0 0-.9 0 .5 .1-.6 0-1 .1-.7 0 .1 .1-.6 0-.1 .1 .5 .1-1.2 0-1.7 .1 .1 .1-.6 0-.5 .1-.5 .1 .1 0 .6 .1-1.5 0-.2 .1-.7 .1-.3 0-.6 .1 .8 0-.5 .1-1.8 .1 1.2 0-1.2 .1-.5 .1-2.4 0 .2 .1 1.3 .1-.7 0-1.2 .1 .3 0-.8 .1-.7 .1-.6 0-.6 .1-.7 0 .7 .1 .3 0-.6 .1-1.6 0-.7 .1-.7 0 1.6 .1-1.6 0-1.6 .1 .2 0-.6 .1 .2 0-.9 .1-.2 0-.6 0-.2 .1-1.6 0 1.1 0-1.8 .1 .9 0-2.3 0 0 .1-.9 0-.3 0 .4 .1 .7 0-1.8 0 .8 .1-1.3 0 .4 0-.5 .1-1.1 0-.1 0-.1 .1 1.8 0 .4 0 0 0-.7 .1 2.6 0-1.7 0 .1 0 .1 .1 .4 0 1.6 0-.7 0 3.5 .1-1.3 0 2.1 0-.6 0 1.4 .1-1.4 0-.3 0 2.5 0-1.3 .1 .6 0 1.2 0 .4 0 .3 .1 .7 0 .6 0 .3 0 .4 0-.3 0 1.3 .1 .5 0 .4 0 1.4 0-.6 0 .2 .1 2.1 0-2.3 0 .2 0 3.4 0 .5 .1-.6 0-.6 0 .6 0 .5 0-.1 0 1.5 .1 .1 0 1.3 0-.3 0 0 0 1.5 .1 .8 0-1.4 0 1.8 0 .3 0-.4 .1 .9 0 .3 0 .8 .1-.2 0 0 .1 .1 0 1.2 .1-.1 0 2 0 1.1 .1-.9 0 1.4 .1-.2 0 .2 .1 .5 0-1.1 0 1.7 .1-.3 0 1 .1 1.9 0-1 .1 0 0 .9 .1 .7 0-.3 .1 0 0-.5 .1-.9 0-1.8 .1 1 .1 .4 0-1.7 .1-1.4 0 2.5 .1-2.2 0 .2 .1-.9 .1-.5 0-.1 .1 .2 0 1.4 0 .3 0-.4 .1 1 0-1 0 2.4 .1 .8 0-.5 0 .7 .1 .1 0-1.2 0 3.3 .1-1.3 0 .1 0-.3 .1 2.1 0 1.3 0-1 0 1.3 .1 0 0 .4 0 1.2 .1-.9 0 1.3 0 .1 .1 .9 0 .2 0-.1 .1 .8 0 1 0 1.2 .1 .5 0-.2 .1 1 0 .6 0 .7 .1 0 0-1.1 .1 1.4 0 .2 0 .8 .1-.2 0 .6 0 1.3 .1-1.5 0 1.9 0-.2 .1-.7 0 .5 .1 0 0-1.2 .1 .5 0-.9 .1 .2 0-.4 0-1.9 .1-1.5 0 .6 .1-.4 0-.7 .1 .7 0-2.3 0 1.7 .1-2.1 0-.3 .1 .4 0-.9 .1-.1 0-.8 0 .2 .1-1.9 0-.7 0 .1 .1 .8 0-.8 0 0 .1-2.3 0 2.2 0-1.7 .1-1.2 0 1.4 0-.7 .1-.4 0-1.8 0 .4 .1-2.2 0 .8 0 .5 .1-.3 0-1.5 0-.8 .1 .1 0-.6 0-.5 .1 0 0-1.3 0-.8 .1 1.4 0-2.5 .1 .1 0-.6 0-.6 .1 .6 0-.1 .1-1.9 0 .9 0-.3 .1-.4 0-.6 0-1.8 .1 .1 0 .1 .1-.5"/>
<path class="c" stroke-width="1.60" d="M810.8 532.5l0-.1 0 1 .1 1.4 0-1 0 2 .1-1.2 0 .4 .1 2.4 0 .5 0-1.2 .1 2.1 0-1.1 0 1.4 .1-.1 0 0 .1 .9 0 .1 0 .5 .1 .6 0-.6 0 1.7 .1-.7 0 1 .1 0 0 1 .1-.5 0 .8 0 2.1 .1-.2 0 .7 .1 .5 0 .4 .1 .2 0-.8 0 1.6 .1-1.5 0 1.7 .1 1.8 0-.3 .1-1.1 0 1.7 .1 .3 0 .3 0-.3 .1-.1 0-.7 0 .2 .1-.7 0 .3 0-1.8 .1-.8 0-1.4 0 2.1 .1-1.1 0-2.3 0 1.5 .1-1.7 0 1.1 0 .1 .1-2.6 0 .2 0 .2 .1-1 0-.1 0-.3 0-.8 .1-.3 .1-1.6 .1-.5 .1 .4 .1-.4 .1-1.4 .1-.2 0-.6 .1 .2 .1 .1 .1 .1 0 .2 0 .7 .1 1.8 0 .6 .1-.8 0 .3 .1 .4 0-.7 0 2.3 .1-.7 0 1.5 .1 .8 0-.7 0 .6 .1 1 0-.9 .1 2.5 0-.9 .1 .9 0 .3 0 .6 .1 1 0-.8 0 1.1 0-.7 .1 2.6 0-1.7 0 .8 0 2.5 .1-1.4 0 .7 0 .3 .1-.1 0 .8 0-.5 0 1.5 .1 1 0 1.6 0 .4 .1-1.3 0 .1 0 1.3 0 1.3 .1-.9 0 .7 0 .3 .1 .7 .1-.8 .1 .1 .1 .9 .1-3.2 .1 1.3 .1 .2 .1-.3 .1-1.3 .1-.9 0-.7 0 .4 .1-.5 0-1.6 0 .7 .1 0 0-1.4 0 .8 .1-1.8 0 .9 0-1.3 .1 .5 0-1.3 0-.1 .1-1.4 0 1.2 0-1.8 0 .2 .1 .7 .1 1 0-1 .1 1.2 0 .3 .1-.7 0 1.3 .1-.8 0 1.4 .1 0 0 2.6 .1-1.7 0 1.3 .1 .3 0 .9 .1 .7 0-.1 .1 .5 0 .2 .2-.5 .1 1 .2 .9 .1 1.6 .2-.7 .1 .2 .1 .9 0-.7 0 1.1 0 .6 .1 .6 0 .6 0 .4 .1 .3 0 .2 0 1.2 .1 .1 0 .2 0 1.5 .1-1.1 0 1.6 0-.5 .1-.1 0 1.5 0 .9 0-1.6 .1 2.7 0-1 0 1.8 .1-.3 0 .1 0 0 .1 .6 0 .9 0 .3 .1 .6 0 .4 .1 .7 0 1.2 .1-1.4 0-.1 .1 1.7 0 1.1 0 1.2 .1-.7 0 .1 .1 1.1 0 0 .1-.5 0-.1 .1-.9 0 .5 0-2 .1 1.1 0-1.4 .1-.6 0-1.1 .1 0 0-.4 0 1.2 .1-.9 0 .4 .1-1.2 0-2 .1 1.7 0-2.6 0 1.4 .1-.3 0-1.8 .1 .2 0-.7 .1-.5 .1-.6 .2-.4 .1 1.2 .1-2.1 .1-.1 .1-.4 .1-.2 .1-1.1 .1-.1 .1 .5 .1-.3 .1-.5 .1-1.5 .1 .3 .1-1.9 .1 .4 .1-.1 .1 .2 0 1 .1 .4 0 .6 .1 .2 .1 1.1 0-2 .1 2.3 0 .5 .1-1.2 0 1.8 .1 .5 .1-.4 0 .1 .1 1.1 0-.3 .1 1.4 .1 1.2 0-.3 .1 .2 .1 .4 0 1.5 .1-.3 0 .9 .1-.2 .1-.2 0 .7 .1-.8 0 .3 .1-.9 0-.1 0-1.3 .1-.4 0-1 .1 1.8 0-1.8 .1 .7 0-1.6 0 1.2 .1-2.5 0 1.5 .1-.9 0-1.2 .1 .3 0-1.2 .1-.7 0-.2 0-.1 .1-1.2 0 .9 .1-.8 0-1.9 .1-.3 0 1.2 .1 0 0-.4 .1-2.1 0-.2 .1 .2 0 .1 .1-1.3 0-1.8 .1 .5 0-.2 .1-.8 0 0 .1-1.2 0 .1"/>
<path class="c" stroke-width="1.62" d="M827 551.9l.1 .5 0 1.2 .1-1.6 .1 .5 0 2.1 .1-.1 .1-.2 0 1.8 .1-.8 .1 1.3 0-.8 .1 1.7 .1 0 .1-.1 .1 .6 .1 1.4 .1-.3 .1 .2 .1-.4 .1 .6 .1 1.3 .1 .4 0-.3 .1-.8 .1-.7 0 .8 .1-.7 0-1.8 .1 1.2 .1-1 .1-1.6 0-.1 .1 1.6 0-1 .1-.2 .1-1.4 .1-.2 0-.7 .1-.9 .1-.8 0 0 .1-.1 0-.1 .1-.4 .1-1.8 .1 1.4 0-.7 .1 .6 0-1.4 .1-1.3 .1 .5 .1-.5 0-.1 0-1.4 0 1.2 .1-2.7 0 1.6 0-1.2 .1-.1 0 .1 0 .1 .1-2.3 0-.1 0 .9 .1-1.6 0-1.3 0-.2 0 .2 .1-.2 .1 .5 0 2 .1 .5 0-.8 .1 .2 0 0 .1 1.1 0-.9 .1 .6 0 .8 .1 2.7 0-2.3 .1 2.4 0-1.3 .1 2.1 0-.1 .1 .7 0 .1 .1 .2 0 .3 .1 1.4 0 .7 0-1.1 .1 1.7 0-1.2 .1 1.7 0 .4 0 1.6 .1-1.5 0-.1 .1 .8 0 1 0 .4 .1 .6 0-.9 0-.4 .1-.5 0-.8 0 .6 0-1.5 0-.3 .1 1.4 0-1.5 0-.6 0 0 .1-.6 0-.2 0-1.9 0 .1 .1-.5 0-1.1 0 .5 0 .2 .1-.9 0 .3 0-2.5 0 .8 0-1.5 .1-.6 0 1.5 0-.2 0-1.2 .1 .4 0-.7 0-.4 0-1.1 .1-.3 0-.4 0-.3 0-1 .1-.2 0 .5 .1-.6 .1 1.4 .1 1.5 0 .3 .1-.2 .1 .8 .1-.8 0 .3 .1 1.1 .1-.1 .1 .9 .1 .5 0 .3 .1 .4 0 1.2 .1-1.1 0 .2 0 1 .1 1.5 0 .9 .1 .2 0-.1 .1-.2 .1 2.5 0-1.7 .1 1.5 0 .6 0-.5 .1 .7 0 .2 .1 1.1 .1 .1 0-.7 0-.1 0-.4 0-.9 .1 .1 0-1.7 0-.4 0-.6 .1 .3 0-.2 0 .2 0 .2 0-1.6 .1-.2 0 .1 0-.5 0-2.5 .1 .4 0-.6 0 .7 0-.4 0-1.6 .1 .4 0-.4 0-2.2 0 2.3 .1-2.1 0 .4 0-1.5 0 1.2 0-2.3 .1-.9 0 1.6 0-.4 0-.6 .1-.8 0-1 0-.3 0-.5 .1 1 0-.5 .1 1.6 0-.6 .1 .3 0-.3 .1 2.3 0 .4 .1-.6 0-.2 .1 1.3 0-.3 .1 .6 0 1.2 .1 .4 0 .2 .1 .7 0-.6 .1 .1 0 .1 0-.2 .1-.6 0-2 .1-.9 0 1.6 0-1.1 .1-1.1 0-1 .1 .8 0 .6 0-.5 .1-2.2 0-.9 0 .7 .1 .2 0-1.4 0-.4 .2-.8 .1 .3 .1-.8 .1-1.7 .1-.1 .1-.2 .1-.1 .1 .3 .1 .6 0-.3 0 .9 .1 .6 0-.8 .1 1.5 0 .5 .1 .6 0 .7 0 0 .1 2.2 0 .4 .1-2.2 0 3 0-.7 .1 .8 0 .4 .1 0 0 .7 .1 .3 0 .2 0 .6 .1 .5 0 1.2 0-.7 .1-.6 0 1.5 0 .9 0-1.3 .1 2.7 0-1.3 0 1.2 .1 .9 0-.9 0 1.8 .1 .5 0 0 0-.3 .1 2.5 0-.7 0 .7 .1 .8 0-.3 0 .8 .1 .1 0-.2 0-1 .1-1 0-.6 0 1.4 .1-.5 0-1 0-.6 .1 1 0-3.4 0 .2 .1-1.1 0 0 .1-.8 0 1.2 0 0 .1-1 0-1 0-.7 .1-.8 0-.3 0 .7 .1-.6 0-.5 .1 .1 0-1.4 .1 .5 .1-.2 0-1.4 .1 1 0-1.8 .1 1.4 0-3.1 .1 2.2 .1-2.6 0 1.5 .1-2.6 0 1.3 .1-1.2 .2-1.4 .1 1.9 .2-2.9 .2 .8 .1-1.4 .2 .6"/>
<path class="c" stroke-width="1.62" d="M843.5 533.8l.1-1.1 .1 .2 .1 0 .1-.9 .1 1.1 .1-2.4 .1 1.1 .1-2.2 .1 .7 .1-.9 0 .8 .1-.3 0 .3 .1 1.3 0 .7 .1-.8 0-.5 .1 .4 0 2.6 .1 .7 0-.6 .1 1.3 0 .2 0-1 .1 2.1 0-.9 .1 .9 0 .8 .1 .1 0 .2 .1 .9 0-.3 .1 .8 0-.8 .1 .9 0 .6 0 .7 .1 2.4 0 .2 .1-.4 0-.1 .1 1.8 0-.3 .1-.5 0 .5 .1 1.1 0-.3 0 .7 .1-.1 .1-.7 0-1.1 .1 1.5 .1-2.2 0 1.5 .1-1.9 .1-.4 0-.5 .1-.8 0 0 .1-1.7 .1-.1 0 .2 .1-.1 0-.4 .1 .1 .1-1.1 0-1 .1-.1 0-1.2 0 1.7 .1-1.3 0-.6 .1-2 .1 .1 0-.3 .1 .8 0-1.4 .1 .9 0-.6 0-1.5 .1 .6 0-.7 .1-.9 0-.3 .1 .2 .1-.6 .1 2.5 .1 .5 .1 0 .1-.1 .1 .5 .1 1.1 .1-.3 0 .6 .1 .5 0 .1 0 1.5 0 .6 .1-1.6 0 1.1 0 1.6 0-1.3 0-.1 .1 .9 0 1.7 0 .8 0-1.7 .1 2.5 0 .2 0 .4 0-.6 0 .9 .1 1 0-.9 0 1.3 0 .9 .1 .1 0 1 0-.2 0 .2 .1 .9 0 .8 0 .7 .1 .7 0-1.3 0 .5 .1 1 0 .3 0 .9 .1 1.7 0-.4 0-1.4 .1 2.5 0-.8 0 .9 .1 .2 0-.6 .1 1.5 0 1.6 0-.6 .1 1.8 0-.7 0-.3 .1 .2 0 .8 0 2.1 .1-.1 0 .6 .1 0 0 .4 .1 .5 0 .8 .1-.3 0 .9 .1-.6 0 1 .1 1.1 0 .1 .1 .2 0-.6 .1 2.4 0-.9 .1 1.6 0 0 .1 1.1 0-.3 .4 1.4 .5-1 .4-.4 0-.2 0-1.2 .1-.7 0 1.3 0-1.8 .1 .3 0-.6 0-1.3 .1-.2 0 1.2 0-.7 .1 .2 0-1.2 0-.5 .1-1.5 0-.2 0-1.6 .1 .4 0 .9 0-1 .1-.5 0-1 0-.1 .1-.4 0 .1 .1-.9 0-.2 0-.6 0-.9 .1-.3 0 .6 0-.7 0-1.3 .1 .8 0-1.1 0-.8 0-1.6 .1 1.7 0-1.3 0-1.2 .1 .7 0 0 0-2.8 0-.4 .1 1.5 0-.1 0-1.7 0 .6 .1-2.2 0 .7 0-1 0 .2 .1-.9 0-.2 0-.6 .1 .4 0-1.4 .1 .1 0-1.8 0 .1 .1 1 0-1.2 0-1.7 .1-.7 0 2.5 .1-2.8 0 .2 0-1 .1 1.8 0-2.4 .1-.7 0-.5 0 1.4 .1-.7 0-1.1 0 0 .1-.9 0 .5 .1 .5 0 .5 .1-.2 0 1.1 .1 .4 0 .9 .1-.7 0 1.6 .1-.4 0 .1 .1 1.4 0 1 .1 0 0-1 .1 1.6 0 .2 .2 .8 .2-.4 .2 .6 .1 2 .2 .1 .1-.6 .1 .5 .1-.4 0 1.6 .1-.6 0 .7 0 .1 .1 2.3 0 0 .1-1.7 .1 3.1 0-1.2 .1-.6 0 1.2 .1 2.4 0-2.1 0 2.8 .1-.1 0 .7 .1-.1 0 .1 .1 1.1 .1-.3 0 .8 .1-.9 0 .3 .1 1.4 .1 1.4 0 1 .1-2.3 0 1.3 .1 .9 0 1.3 .1-.9 .1 1.3 0-.1 0 .1 .1 .6 0-.2 0 .2 .1 1.5 0 0 0 1.4 0-.5 .1 .4 0 2.3 0-.3 0 1.2 .1-1.4 0 .4 0 2.2 .1-.6 0 .7 0 .4 0 .9 .1-.8 0 .1 0 .6 .1 .8"/>
<path class="c" stroke-width="1.59" d="M859.8 567.5l0-.5 0-1 0 .5 0-.7 .1-1 0-.2 0-.5 0-.5 .1-1.3 0 .4 0-.4 0-.6 .1 1.3 0-1.9 0-1.7 0 1.3 .1-2.2 0-.5 0 2.5 0-3.1 0 .2 .1-.9 0-.9 0 2 0-1.8 .1 .6 0 .2 0-3.2 0 1.1 .1 .7 0-2.8 0 0 0 .2 .1-.2 0-1.1 0-1 0 .2 .1 .6 0-1.9 0 .8 0-.9 .1-.5 0 .1 .1 1.6 0-1 .1 1.2 0 .6 .1-.6 0 .9 .1-.5 0 3.1 .1-.8 0-.2 .1 .6 0 .8 .1 1.2 0-.4 .1 0 0 .8 0-.1 .1-.7 0-1.2 0 0 0-.6 0 .9 .1-1.3 0-.3 0-.5 0-.7 .1 .4 0-2.5 0 1.8 0-.1 0-2.7 .1 0 0 0 0-1.4 0-.6 0 .7 .1-1.2 0 1 0-.5 0-2.5 0 .3 .1 1.7 0-.6 0-2.7 0-.3 0 0 .1-.7 0 .3 0 .1 0-.8 .1-.5 0-1.4 0 0 0 .1 0-.7 .1-.2 0-.9 0-.3 0 .8 .1-.7 0 1.8 .1-.8 .1 2.1 0-.6 .1 1.8 0 .5 .1-.3 0-.2 0 1 .1-.7 0-.2 .1 .7 0 .6 .1 .7 .1 1.9 0-.5 .1-.1 0 .9 0 .9 .1 .1 0 1 .1 .9 0-1.6 .1 2.6 0-.9 .1 .8 0 .3 0 .9 .1-1.2 0 2.1 .1 .6 0-.2 .1-.1 0-.2 .1-1 0 .5 0-.4 .1-1.1 0 0 .1-2.2 0 1.4 .1-1.2 0-1.8 0-.2 .1 .8 0-.8 .1 .2 0-1 .1 .6 0-1.6 .1-.2 0-.4 .1 .2 .1 1.7 .1 .6 .1-2.3 .2 1.4 .1 1.3 .1-1.2 .1 2.4 .1-.4 .2 1.3 .1 .5 .2-.4 .2 .8 .1 .9 .2-.6 0 .8 0-.5 .1 1.7 0 .5 0-.6 0 1.7 .1 .2 0-1.1 0 .7 0-.2 .1 1.4 0 .2 0 2.2 0-1.3 .1 0 0 2 0 1.2 0 .4 .1-.2 0-.7 0 1.2 0 1.3 0-.9 .1-.3 0 .1 0 .4 0 2.3 .1-.3 0 1.7 0-.1 0 0 .1 0 0 .1 0 .7 0 .5 .1 .8 0 .3 0-.7 .1-.4 0-.4 .1-.5 0 .1 .1 .4 0-2 .1-1.3 0 .1 .1 .4 0 0 .1-2 0 1.3 .1-.3 0-2.1 .1 .3 .1-.3 0 0 .1 .2 0 .9 .1 1.1 0 0 .1 1.7 .1 .5 0 .4 .1-1.5 0 1.8 .1 1 .1 .2 0-.2 .1 0 0 .5 .1 1 .1-.2 0-.9 .1 .1 .1-1.5 0 1.5 .1-1.4 0-.4 .1-.4 .1 .2 .1-1.2 0 .1 .1-.8 0 .3 .1-1 .1-1 .1 .2 0 .9 0 0 .1-.5 0 1.2 0 1.4 .1-.8 0 1.6 .1 0 0-.7 0 1 .1-.7 0 2.6 0 .2 .1 .9 0 .7 .1 .4 0-1.6 0 1.5 .1 1.1 0 .1 0-.9 .1 1.6 0 0 .1 .6 0 .7 .1 .8 0-1.1 0 .5 .1 1.6 0-.9 .1 2.6 0-.3 .1 0 0 0 0 1.4 .1 .4 0-.3 .1 1.2 0-.1 .1 1.2 0-.4 .1 .9 0 0 0-.1 .1-1 0-1 .1 .9 .1-2.1 0 1.4 .1-2.5 0-.5 .1 1.5 0-.9 0-.9 .1-1 0-.1 .1-.2 0-.9 .1 .2 .1 .3 0-1 .1-.1 0-.8 0 .6 .1 1 0-.4 .1 .5 0 .2 0-.3 .1 .5 0 1.1 0-.5 .1 2.8 0 .1 .1-1 0 2 0-.2 .1 1.4 0 .4 .1-.6 0 .2 0 .3 .1 .5 0 .2 0 .3 .1 .9 .1 1.4 .2-1.8 .2 .8 .1 2.1 .2 .1 .2-.1 0 .1 .1 1.7 0-1.3 .1 2.2 0 .2 .1-.6 0 .5 .1-.5 0 2.7 .1-1.2 0 .1 .1 .6 0 1.1"/>
<path class="c" stroke-width="1.57" d="M876 588.1l0 .1 .1-1 0-.4 .1-.2 0 .4 0-.6 .1-2.3 0 .3 .1-.6 0-1.2 .1-.6 0 1.1 0-2 .1 .4 0 1.1 .1-.3 0-1.6 .1-.2 0-1.7 0 .1 .1 .2 0-1.1 .1 .2 0-.7 .1-.5 .2 2.1 .1 1 .2-1.3 .1 1.4 .2-.2 0-.7 0 .1 .1-1.1 0-.8 0 1.2 0-1.7 .1 .6 0-2.2 0-.5 0-.5 .1 .8 0-1.8 0 2.2 0-.5 .1-1 0-.4 0 .1 0-2.4 .1 1.1 0-2.3 0 .2 0-.2 .1 .6 0-1 0-2 0 1.6 .1-1.6 0-.2 0 .5 0-1.1 .1-.9 0-.7 0 0 .1-.4 0-.4 0-.7 .1 .1 0-1.6 0-.6 .1 .1 0-.4 .1 .8 0 0 0-2.1 .1-1 0-.4 0 1.2 .1 .2 0-1.5 .1 .5 0-.3 0-1 .1-1.4 0-.1 .1-.6 0-.1 0-1 .1 .6 0-1.4 .1-.1 .1 .3 .1 .5 .1 .7 .1-1.2 .1 2.1 .1-.7 .1 2.2 .1-1.2 .2 1 0 1.1 .1-.1 .1-.1 0 .6 .1-.7 .1 1.9 .1 1.5 0-.5 .1 1.2 .1-.6 0-.3 .1 1 .1 .5 0 1.1 .1 .6 .1-.5 0 1.3 .1-.5 0 .2 .1 1.7 0-.1 .1 .3 .1-1 0 2.1 .1 .2 0 .2 .1 .2 .1-.3 0-.7 .1 .7 .1-.9 0-1.5 .1-.2 0 1.2 .1-1.2 .1-1.9 0 .8 .1 .4 0-1.3 .1-.1 .1-1.3 0-.7 .1 .1 .1 .5 0-.2 .1 1.3 0-1 .1 1.3 0 .7 .1-.7 0 1.7 .1 .6 0 1.2 .1-.4 0 1.4 .1-2 0 1.5 .1 .6 0-.6 .1 1.3 0 1 .1-.1 .1-.6 0-1.2 .1 1.1 .1 .3 .1-.4 0-1.1 .1-1.1 .1 .9 .1-.5 0-2.5 .1 .2 .1-.1 0-.3 0 0 .1-1.7 0-.4 0 .1 .1-.9 0 .6 0-1 .1-.5 0 .1 0-1.7 .1 1.5 0-1.1 0-1.1 .1 .2 0 .3 0-.6 .1-1.3 0-.3 0 .9 .1 0 0 1.1 0-.8 .1 1.9 0-1.1 0 .1 .1 .2 0 2.8 0-2 .1 2 0 .2 0 0 .1-.2 0 .1 0 2.9 .1-.1 0-.5 0-.5 .1 2.1 0 0 0 1 .1 .2 0-.4 0 1.8 .1 .5 0-1.1 0 1.5 .1-.2 0 .7 .2 1.4 .2-1.1 .3-.5 .2 1.4 0 1 .1-.2 0-.5 .1 1.9 .1 .5 0 1.2 .1-2.2 0 2.9 .1-.7 0-.4 .1 1.2 0-.6 .1 .5 0 1.9 .1-.3 .1 .7 0-.4 .1 0 .1-1.5 .1 .4 0 .2 .1-1.8 .1-.5 .1-.8 0 .1 .1-1.1 .1 .2 .1 0 .1-.4 .1 .6 .1 1.1 .1-1.7 .1 1.9 .1-.5 .1 1.2 .1 .5 .1 .8 .2-.2 0-.4 .1 .7 .1-1.1 .1-.6 .1-1.9 .1-.4 .1 1.1 .1-1.3 .1 .2 .1-1.2 .1 .2 .1 .8 .1-1.4 .1-1.1 .1 0 .1-.3 .1-.4 .1-.3"/>
<path class="c" stroke-width="1.48" d="M892.5 568.8l.1 0 0 .6 .1-.2 .1 .9 0-.4 .1 1.3 .1 1 0 .4 .1 1 .1-.9 0 .1 .1 .5 .1 .6 0 .7 .1 .6 .1 .2 .1 .7 .1 .2 0 .2 .1 1.1 .1-.3 .1-.3 .1 1.2 0 .7 .1-.1 .1 1 .1 .4 .1-.7 0 .5 .1-1.8 .1-.8 .1 .2 0-.3 .1 .1 .1 0 .1-.3 0-1.2 .1-.9 .1 .2 .1-.4 .1-.2 0-1 .1-.1 .1-1.7 .1 1.8 .1-1 .1-1.8 .1 .8 0-.8 .1 .2 0 .2 .1 1.2 0 .2 0 1.4 .1-.3 0 .8 0 0 .1-.5 0 .1 0 .7 .1 1 0 1.7 .1-.1 0 0 0 .8 .1 .9 0 .2 0 0 .1 .4 0 .5 0 .8 0 .2 .1-.3 0 .4 0 .8 0 .2 0 1.7 0 .1 .1-.6 0 .6 0-.1 0 2.7 0-1 0 1.1 .1 .1 0 .1 0-.1 0 .3 0 1.4 .1 1.3 0-.1 0 .4 0 .7 0-.3 0 1 .1 .5 0 0 0 .6 .1 .5 0-.3 .1 .3 0 1.5 .1 .9 .1-1.1 0 .9 .1-.2 0 .3 .1 1.4 0 1.7 .1-.9 .1 .9 0 .8 .1-.5 0 1.1 .1 .2 0 1 .1-.8 0 1.2 .1 .2 0 .9 .1-.2 0 0 .1 .7 0 1.6 0-1.1 .1 1.1 0 .9 .1 .1 0 .6 .1 .3 .1 0 .1 1.8 .1-1.4 .1 2.3 .2-1 .1 1.8 .1 .3 .1-1.2 .1 1.5 .1 .6 .1 0 .1-.2 .1 .4 .1 .9 .1 1.7 .1-.6 .1 .3 .1 .6 .1 .3 0 .4 .2 0 .1 .8 .2 1.1 .1 .3 .1 .7 .2 .3 .1-1.1 .2 .7 .1 1 .2 1 .2-.8 .1 1.4 .2 .4 .2 0 .2 .5 .2-.1 0-.6 .1-.8 .1 .7 0-.2 .1-.2 0-.4 .1-2 .1 .8 .1-.7 0 .2 .1-.8 0-.7 .1-.4 .1-1.1 .1 0 0 .6 .1 .4 0-.4 .1 .9 .1 1.4 0-.6 .1 .3 .1 1.3 0-1 .1 1.8 .1-.3 0 1.1 .1-.3 .1 .4 0 .2 .1 1.5 .1-.6 0 1 .1 .4 .2-.6 .1 .2 .2 .1 .1-1.5 .2-.4 .1 .2 .2-1.3 .1 .2 .2-.6 .2-.3 .1-.7 .2-.9 .1 1.4 .2-1 .1-.5 .2-.5"/>
<path class="c" stroke-width="1.42" d="M908.5 616.9l.1 .1 .1 1.4 .1-.4 .1 1 .1-.1 .1 .7 .1 1.2 .1-.1 .1-.7 .1 .5 .1 .5 .1 1.1 .1 .4 0 .7 .1 0 .1 .2 .1 .7 .1 .8 .1 .5 .1 .3 .1 .2 .1 1.3 .1-.1 .1 .8 .1-.6 .1 .8 .3-.6 .4 1.4 .3-.1 0-.4 .1-.6 0 0 .1-1.3 0-.2 .1-.4 0-1 .1-.4 0 .1 0-.3 .1 .5 0-.9 .1-1.7 0 .6 .1-.8 0-.9 0 0 .1-.5 0-.5 .1-.1 .1 .9 .2 .2 .1 .4 .1-.4 .2 .1 .1 2.1 .1-.1 .2 .3 .1 .3 .1-.6 .1 .2 .1-.5 .1-.1 .1-.8 .1-1.1 .1-.2 .1 .4 .1-1 .1 0 .1-.5 .1-.6 .1-.9 .3 .1 .3-.7 .3 .4 .3-.4 .1 .4 .1 .4 .1 .6 .1 .6 .1 .7 .1-.6 .1 1.3 .1 .9 .1-1.2 .1 1.1 .1 .9 .1 .1 .1 .4 .1-.1 .2-1 .1-.5 .2 .6 .2-1.3 .1 0 .2-.2 .1-.6 .1-.8 .1 .6 .1-1 .1-1.5 .1 0 0 .7 .1-.6 .1-1.5 .1 .4 .1-.7 .2-.3 .2 1.5 .2-.2 .2 .7 .2-.1 .2 .3 .2 .5 .2 .4 .2-.6 .1 1.3 .2-.2 .1 1.1 .1-.8 .1-.3 .1 0 0-.3 .1-.5 0-.4 .1-1.2 .1 1 .1-2.2 0 1.4 .1-1.2 0-.2 .1-.3 .1-.4 0-.8 .3 .2 .4 .8 .2 .4 .4-.1 .3-.1"/>
<path class="c" stroke-width="1.45" d="M924.8 615l.1-.2 .1-.4 .2-.5 .1-1 .1-1 .2 .9 .1-.1 .2-1.2 .1-.3 .1-.9 .2-.1 .1-.6 .2 0 .1-.9 .1-.6 .2 .4 .1 0 .1-1 .2 .2 .1-1.8 .1 .5 .1-1.1 .1 .9 .1-.8 .1-1.6 .1 .3 .1-.3 .2 .2 .1-1 .2-.2 .1-1.3 .2-.2 .1-.1 .2 .1 .1 1.4 .1-.3 .2 .2 .1-.3 .2 2.1 .1 .3 .1-.5 .2 .8 .2-1 .1 .5 .2-1.6 .2 1.7 .2-1.7 .1 .1 .2-.5 .2-.2 .1 .4 .1 .7 .2-.2 .1 2.3 .2 .4 .1-1.3 .1 1.8 .2-.2 .4-.5 .4-.4 .4 .9 .1 .9 0 .1 .1-.1 .1 .7 0 .8 .1 .6 0-.4 .1 1.2 0 .8 .1-1.3 .1 1.3 0 .2 .1 0 0 1.1 .1 .4 .1 .5 .1 .6 .1 .8 .1-.5 .2 1.3 .1 .4 .1-.2 .1 1 .1-.2 .1 .6 .1 .8 .1 .5 .1-1.1 .2 .9 .1 1 .1 1 .1 .2 .1-.1 .1-.7 0 .2 .1-1.1 0-.4 .1 .8 .1-.9 0-.7 .1-1.5 0 .3 .1 .1 0-.7 .1-.7 .1-.2 0-.7 .1 0 0 .8 .1-.1 0 1.2 0 .2 .1 .3 0-.2 .1 1.3 0 .3 .1 .8 0-1.1 0 1.6 .1 .6 0-.9 .1 1.7 0 1 0-1.2 .1 2 0-.9 .1 .9 0 .7 .1 .3 .1-.7 .1-.4 .1-.5 .1-.2 .1-.4 .1 .8 .1-2 .2 .3 .1-1 .1-.3 .1 .1 .3 .1 .3 .9 .3-.7 .3 .9"/>
<path class="c" stroke-width="1.44" d="M941.2 620l.4 .1 .3-.9 .3-.8 .3 .4 0 .4 .1 .1 0 1.1 0 .4 .1-.6 0 1.3 .1 .6 0 .9 0-.4 .1-.3 0 .5 .1 1.6 0-.8 0 2.1 .1 .4 0-.7 0 .5 .1 .8 0 0 0 .8 .1-.3 0-.8 .1-.7 0-.1 .1-.3 0-.4 .1-.9 0 .5 0 0 .1-1.9 0-.8 .1 .4 0 0 .1-1 0-1 0 .1 .1-.3 0-.2 .1-.6 0-.4 .2-.3 .2 .4 .2-.6 .1-.1 .2-1.7 .2 .2 .2-.5 .1-.2 .1-.5 .1-.5 .1-1 .1 .4 .1-1.6 .1 1 .1-1 .1-.3 .1-.3 .1-1 .1 0 .1 .6 .1 0 .1 0 .1 .7 .1 .7 .1-.3 .2 1.5 .1-.3 .1 1 .1 .7 .1 0 .1 .4 .1-.1 .2-1.2 .1-.1 .1-1.2 .2 1.1 .1-.9 .1-.6 .2-.3 .1-.4 .3 0 .4 1.1 .3-1.2 .3 .7 0-.4 .1-.5 .1 .2 0-1.3 .1 .8 0-1.5 .1 0 0 .3 .1-1.3 .1-1 0-.1 .1-.2 0-.1 .1-.5 0-.6 .3 .5 .3 .6 .2-.8 .2 1.7 .3-.1 .2 .6 .1-.2 .2 1.3 .1-.6 .2 .3 .1 1.3 .2-.1 .2 .5 .2-.4 .3 0 .3-1.5 .2 .4 .3-.5 .3 .1 .1 .4 .2 .2 .1 .6 .2 1.2 .2-1.1 .1 .3 .2 1.7 .1-.2 .1 .5 .1 .2 0 .3 .1 .3 .1 1.3 0-.2 .1 1 .1-.3 0 .8 .1 1.1 .1-.7 0 1.4 .1 0"/>
<path class="c" stroke-width="1.42" d="M957.5 618.8l.1-.1 0 1 .1 .7 .1 .3 0-.7 .1 .4 .1 .8 0 .5 .1 1.7 .1-.9 0 1.3 .1 .7 .1-.9 0 1.1 .1 .3 .1 .6 .1 .1 .1 .1 .1 .7 .2 1.5 .1-.8 .1 .8 .1 .9 .1-.1 .1-.3 .1-1.2 .1 .2 .1 .1 .1-1.8 .1 .6 .1-.2 .1-.8 .1-.4 0-.9 .1 .1 .1-.7 0 .1 .1-.7 .1-.5 0 .3 .1-2 .1 1.1 0-1.1 .1-.1 .1-.6 0-.6 .2 .5 .2-.5 .1 .9 .2 .7 .1 .5 .2-.1 .1 1 .2 .1 .1 .9 .1-.2 .1 1.3 .2 .3 .1-.8 .1 .9 .1 .3 .1 .8 .1-.1 .1 .5 .2 .5 0-.4 .1-1.1 .1-.4 .1 .7 0-1.1 .1 0 .1-.6 .1-.9 0 .4 .1-.3 .1-1.7 .1 .6 .1-.9 .2 .6 .2 0 .3 1.4 .3-1.1 .2 1 .1-.3 .1 .1 .1-.9 .1 0 .1-1.5 .1-.3 .1 .4 .1-1.7 .1 .3 .1-.4 .1-.9 0 .6 .1-.6 0-1.6 .1-.5 .1 .4 0-1 .1 1.1 0-.5 .1-1.7 0 .3 .1 0 .1-1.4 0 .1 .1-.6 .1 .2 .2-1.3 .1 .3 .2-1 .2 .6 .1-1.5 .2 .2 .1-.6 .1 .1 0 1.3 .1-.5 0 1.6 .1-.6 .1-.2 0 .7 .1 1.6 0-.7 .1 1.2 0-.4 .1 .2 0 .8 .1 .6 0 .3 .1 .8 .3-.4 .3-.4 .3-.7 .3 .3 .2 .7 .1 0 .2 .3 .1 .6 .1-.5 .2 1.6 .1 .6 .2 .6 .1-.1 .2-.5 .1-.2 .2-.6 .2 .1 .1-1 .2-.4"/>
<path class="c" stroke-width="1.49" d="M973.5 616.2l.1 0 .1-.2 .1-.5 .2-1.8 .1 .7 .1-.4 .1-.6 .1-.9 .1-.2 .1-.2 .2-.2 .2 .5 .2 .5 .3 .4 .3 .9 .2-.4 .1-.3 0-.6 .1-.3 0-1.2 .1 .7 .1-.5 0-.4 .1-1.8 0-.7 .1 1.4 0-2.2 .1-.4 .1 1.1 0-.3 .1-.8 0-1.1 .1-.2 .1 .1 0-.5 .1 0 0-1.7 .1 .4 .1-1.3 0 1 .1-.9 0-.6 .1-.6 0 .5 .1-1.1 .1-.9 0-.7 .1 .1 .1-.6 .1-.6 .1 .9 .1-.3 .1-1.1 .1 .2 .1-1.5 .1 0 .1-.8 .3 .5 .3 .6 .3-.5 .3 .1 0-.2 .1-.4 0-1.3 .1-.5 0-.5 0 .8 .1-.8 0-.4 .1-.7 0-.3 0-1.5 .1 1.5 0-.8 .1 0 0-.7 0-1.8 .1 .4 0-.4 .1-.5 0-1 .1 0 0 .3 .1-1.2 0-.1 .1-1.1 .1-1 0 .6 .1-1.4 0 1.1 .1-.6 0-1 .1-.2 .1-.4 0-.3 .1 .5 0 .3 .1-.1 0 .8 0 1.5 .1-.4 0 .7 .1 .1 0-.2 .1 .8 0 1.6 0-1.4 .1 1.7 0 .6 .1 .2 0 .5 .1-.1 0 1.4 .1-.2 0 .4 .1-.3 0-.7 .1-.8 0-.2 .1-.8 .1 .2 0-.6 .1 0 0-.4 .1-.6 0 .1 .1-.2 .1-.5 0-1.2 .1-1.2 0 .5 .1-.7 .1 .5 0 .2 .1 0 0 1.1 .1 1.3 .1-.3 0 1.3 .1-.1 0-.9 .1 .3 0 .7 .1 1.1 .1-.4 0 2.1 .1-.3 0 .3 .1 .5 .2 .3 .2-.7 .3 1.9 .2-.2 0-.1 .1 .7 .1 1.4 0-.3 .1 1.1 0 .5 .1-.7 0 1.8 .1 0 .1-1.2 0 2 .1-.2 0 .9 .1 0 0 .4 .1 .1 .1 .2 0 .2 .1 1.3 0 .8 .1 .3 .1 .4 0-.1 .1 1.1 0-.4 .1 1.4 .1 .9 0 .4 .1-1.3 0 .7 .1 .7 0 .7 .1-.8 .1-.8 .1 .2 .1-1 .1 .3 .1 .5 .1-1.9 .1 .3 .1-.4 .1-.8 .1 0 .1-1.3 .1 .1 .1-.2 .1 1.5 .1 .6 .2-.1 .1 1.1 .1 .3 .1-.9 .1 .7 .1 1.4 .1-.3 .2 .3"/>
<path class="c" stroke-width="1.51" d="M989.8 605l.3 .1 .3-.9 .3-.5 .3 .1 .2 .4 .3-1.1 .3-.2 .2-.6 .2-.4 .2-.9 .2 .3 .1-.3 .2-.2 .1-1.7 .2 .1 .1-.6 .2 .2 .1 0 .1 .7 .1-.4 .1 2.3 .1-.4 .1 .6 .1 .2 .1-.7 .1 2.2 .1-.4 .1 .8 .2 .1 0 .2 .1 0 .1 .9 0 0 .1 1.9 0 .5 .1-.3 .1 .8 .1-1.1 0 1.3 .1 .3 0 .9 .1-.2 .1 1 .1 0 .1 .2 .1-.9 .1-.7 .1-.2 .1 .6 .1-1.3 .1 .3 .1-2.1 .1 .8 .1-.7 .1-.7 .1-.3 .1-.8 .1 .9 .1-.3 .1-2 .1 .7 .1-1.3 .1-.1 .1-.3 .1-.6 0-.8 .1 .1 0-.9 .1 .4 0-1.9 0-.5 .1 1.4 0-1.4 .1-1 0 .5 .1-1.1 0 .1 0-.4 .1-.6 0 .1 .1-1.8 0 .1 .1-.3 0-.3 .1-.4 0-.9 0-.5 .1 .8 0-1.6 0-.7 .1 .3 0-1 0-1 .1 .3 0 .1 .1-.5 0-.8 0-.8 .1 .6 0-.5 .1-1.1 0 .3 0-.5 .1-.5 0-.7 0-1 .1 0 0 0 .1 .2 0-1 .1-.3 0-.4 .1-.8 0-.8 .1 .4 0-.7 .1-.6 0-.4 0-.5 .1 .1 0-1.3 .1-.9 0 .7 .1-.9 0 .1 .1 .6 0-.2 .1 2.2 0-.3 .1-.9 0 1.3 0-.4 .1 2.7 0 .4 .1 .1 0-1 .1 1.9 0-.6 .1 .4 0-.3 .1 1.3 0 .8 0 .1 .1 .7 .1 .9 .1-1.4 .1 1.2 .1 .7 .1-.9 0 1.7 .1-.4 .1 1.8 .1-.8 .1 1.4 0 .1 .1-.5 0-.3 .1-.4 0 .3 .1-2.2 0-.6 .1 1.7 0-1.2 0-.3 .1 .3 0-2.9 .1 .2 0 1.4 .1-2.6 0 1.5 0-.3 .1-2.3 0-.1 .1 0 0-1.2 .1 .4 0-.4 0-.5 .2 .8 .1 .4 .2 .2 .1 .2 .2 1 .1-.2 .1-.3 0-1 0 .8 .1-.6 0-1.5 0-1 .1-.5 0 .7 0-.5 .1 .6 0-.2 0-1.2 .1-2.1 0 .7 0-.2 .1-1.7 0 .5 0-1.4 .1-.1 0 .2 0 .3 .1-.3 0-1.4 0-.4 .1-.4 0-.2 0-.1 .1-.4 0-.9 0 .2 .1-.6 0-.4 .1-.3 0 .2 0-2.4 .1-.1 0-.9 .1 .3 0-.4 0-.5 .1 .4 0-1 0-.1 .1-.8 0-.9 .1-.1"/>
<path class="c" stroke-width="1.56" d="M1005.8 561.2l0 0 .1 1.5 .1-.3 0 1 .1 .2 .1 1.1 0-1.3 .1 .8 .1 2.1 0-.7 .1 1.2 .1-.7 0 .8 .1 .5 .1-.2 0 1.2 .1 .7 .1-1.3 0 1.5 .1 1 .1 1.1 0 0 .1-.7 .1 1.8 0-.5 .1 .5 .1 .1 0-.2 .1-1.4 .1-.5 0-1.3 .1 1 0-.6 .1-1.4 .1 .6 0-1.1 .1-.5 0 .6 .1-1.9 .1-.1 0 .4 .1-.6 .1 .6 0-.2 .1 .2 0 .1 .1 1.9 .1-1.2 0 1.4 .1 .6 0 .4 .1 1.5 0-.8 .1 .3 .1 .6 0 1.6 .1-.2 0 .4 .1 .3 .1-.8 0 .8 .1-.2 .1-2.1 0-.6 .1 .1 .1-.7 0 0 .1-1.5 .1 1.5 0-.8 .1-1 .1-.3 0 .3 .1 .6 0 1.1 .1-.8 0 1.5 .1 .4 0 .1 .1 .2 0 .7 .1-.9 0 1 .1 .3 0 .6 0 .8 .1-.7 0 1.4 .1 .4 0 0 .1 .9 0 1.2 .1-1 0 1.5 .1 1 0-.4 .1 .6 0 .5 .1-.4 0-.8 .1-.1 0-.2 .1 0 0-.4 .1-.4 0-1.1 .1 .5 0-1 .1-1 0-.3 0-.7 .1-1.5 0 1.4 .1-2.2 0 .4 .1-1.1 0 .6 .1-.6 0-.4 .1-1.1 0 .6 .1-.1 0-.7 .1-.7 0 .5 .1-.5 .1 1.5 0 1.3 .1 .5 0-.7 .1 .5 0 1.5 .1 .4 .1-.5 0 .6 .1 0 0 0 .1 .6 .1 .6 .1 .5 .1-.3 .1 1.7 .1-.4 .1 .6 .1-.8 .1 2.4 .1 .3 .2-.3 .1 1.1 .1-.4 .1 .5 .1 .8 .1-1.2 .1 2.9 .1 .5 .1-1.2 .1 .8 .1 .9 .1-.3 .1 .6 .1-.5 .1 1.2 .1-.2 .1 1.4 .1 .2 .1 .4 .1-.5 0 .3 0-1.9 .1 .5 0-1 0-1.1 .1 .6 0 .8 0-.8 .1-1.4 0 1 0-2.1 .1-.5 0 .2 0-1.4 .1 1.5 0-.3 0-1.4 .1-1.8 0 1 0-1 .1-1.1 0 .3 0-.6 .1 .3 0-.8 .1 .5 0 .4 .1 1 .1 .2 0 .8 .1-1.3 .1 1.7 0 .4 .1-.5 .1 .2 0 1.5 .1-.1 .1 .9 0 .7 .1-.2 .3-.7 .2-.2 .2 0 .3-.3 .1 .9 0 .8 .1-1.6 .1 .3 .1 1.4 0 1.2 .1-.3 .1 0 .1 2.1 0-.8 .1 1 .1 0 0-.2 0-.4 .1-.8 0-.3 0-.6 .1-.8 0-1.2 0 1.9 .1-.9 0-2.2 0 .7 .1 0 0-1.5 0 .7 .1 .3 0-2.6 0 0 .1 0 0 .7 0-.5 .1-1.1 0-1.1 0 .6 .1-1.1 0-.7 0-.3 0-.5 .1-.4 0-1 .1-.3 0-.5 0-1 .1 1.5 0-.9 0-1.7 0-.3 .1-.9 0 1 0 .1 .1-2.1 0 .7 .1-1.4 0 1.2 0-1.9 .1-1.1 0 .6 0-1.2 .1-.5 0 1.6 0-2.3 0 .8 .1-.5 0 0 0-.8 .1-1.3 0-.5 0 0"/>
<path class="c" stroke-width="1.57" d="M1022.2 558.8l.1-.1 .1-.9 .1 .7 0-2.6 .1 1.4 0-.3 .1 0 .1-1.9 .1 .3 0 0 .1-.8 0-1.9 .1 .9 .1-.8 0-.3 .1-.1 .1-.5 0-.7 .1-.2 0-.3 .1-.6 0 .3 .1-1.4 0 .9 .1-.7 0-2 .1 1 0-1.4 .1 0 0-.8 .1-.4 0-.6 .1 0 0 .3 .1 1 0 1.4 .1-.7 0 1.1 .1-.9 0 .8 .1 1.2 0 .3 .1-.6 0 .6 .1 1.3 0 0 .1 1.3 0 .1 .1 .3 0 .6 .1 .6 .1 .3 0 .5 0 .3 .1 .5 0-.4 .1 2.4 .1-1 0 1.3 0 .5 .1 .5 .1 .2 0 1 .1-.1 0-.7 0 .4 .1 1.7 .1-.5 0 .6 .1 .8 0-.5 .1 1.2 .1 .5 0-.3 .1-.3 .1 .2 0 .5 .1 1.8 .1 .5 0 .3 .1 1 .1-.1 0-.3 .1 1 .1-.2 .2 .6 .1-.8 .2-.9 .1-1.7 .2 .5 0 1 .1-.5 0-.1 .1 1.6 0 1 0 .8 .1-.1 0-.1 .1 .6 0 .3 .1-1 0 2 0 1.4 .1-2 0 1.3 .1 1.5 0-.4 .1 0 0 .8 .1 .7 0-1 .1-.2 .1-.2 .1-.3 0-.5 .1 .2 .1-.9 .1 .7 0-3 .1 .9 .1-1.2 .1 .2 .1-.4 .1-.4 .1 .9 .1 .1 .1 1.9 .2 .1 .1 .5 .1-.9 .2 .9 0 0 .1 1.7 0-.2 .1 .6 0 .2 .1 1 0-1.4 .1 2.1 0 1.3 .1-1 0-.6 .1 2.3 0-.6 .1 1.7 0-.8 .1 .2 0 1.1 .1 .3 .1 .9 .1 .3 0-.9 .1 1.9 .1 .5 .1 .3 0 0 .1 .4 .1 1.4 .1-.9 .1 1.4 0 .5 .1-.5 .1 .9 .1 .3 .1-.3 0-.8 .1 .5 .1 .1 0-2.6 .1-.3 .1 .3 .1-.1 0-.2 .1-1.5 .1 .6 .1-.7 .1 .2 .1-.9 .1-.7 .1-.8 .1-.5 .1 .3 .1-.9 .1 .1 .1 .5 .1-.6 .1-1.4 .1-.3 .1 1 0-.9 .1 .9 .1 1.5 0 .4 .1-.2 .1 .8 0-.3 .1 .9 .1-1 0 2 .1 .2 .1-.3 0 .6 .1 .7 .1-.3 .1 .2 .1 .4 .1 1.9 .1 .3 .1 1.3 .1-1.9 .1 1.8 .1 .3 .1 .3 .1 .5 0 .5 .1 .6 .1-.4 .1 1.4 0-.5 .1 .5 .1 2 .1-.1 0-.2 .1 1.3 .1 .2 .1 .2 0 .1 .1-.1 .1 .9 0 .7"/>
<path class="c" stroke-width="1.53" d="M1038.2 593.8l.2-1.3 .1 .9 .2-2.1 .1 1.7 .2-.8 .1-1 .2-1.1 .2 .9 .2-2 .1 .9 .2 .1 .2-.5 .2-.7 .1 .2 .1-.7 .1 .2 .1-1 .1-1.5 .1 1 .1-.8 .1-.2 .1-.8 .1-.8 .1-.6 .1 0 .3-.4 .3-.5 .4 .9 .3-1.3 .1-.4 0-.3 .1-.1 .1-1.1 .1-1.3 .1 .7 .1-1 0 .3 .1 .6 .1-1.5 .1 .5 .1-2.1 .1 .4 0-.8 .1-.2 .1 .8 0 .6 0 .6 .1-.3 0 .6 0-.5 .1 1.2 0 1.6 0-.3 .1 .1 0 .1 0 0 .1 .8 0 1.3 0-.7 .1 .9 0 1.1 0 .7 .1-.4 0 1.1 0 .1 .1 1 0-.1 0-.4 .1 1.1 0 .3 .1-.2 0-.9 .1-.8 .1-.8 0-.1 .1 .3 .1-1.7 0 .8 .1-1.7 .1 2 0-1.4 .1-.2 .1-.8 0-.7 .1-.2 .1-1.2 0 .2 .1-.5 0-.2 .1 .3 .1 .6 0-.3 .1 1.2 .1 .4 0 .5 .1 .6 .1-.7 0 1.9 .1-.1 0 .1 .1 1.7 .1-.2 0-.4 .1 .3 0 .9 .4-1.2 .3 .8 .3 .2 .3-1 .1 .7 .1 .2 .1 1 0-.1 .1-.6 .1 .3 .1 2 .1 1 0-1.9 .1 1.4 .1-.1 .1 1.9 .1 .1 .1 .5 .1-.2 0 .1 0-.2 .1-1 .1-.6 0-.4 0-.8 .1 .9 .1-.5 0-2 0 .3 .1-1.4 0-.7 .1-.1 .1 .8 0-1.5 0 .3 .1-1.4 .1 0 0 .2 .1-.7 .3 1.4 .3-1.3 .3 1.3 .3-.1 .1-.8 .2 .8 .1-.7 .2-1.1 .1-.4 .2-.4 0-.8 .1-.2 0 .1 0-1.4 .1 1 0-.3 .1-1.1 0-1.9 0 .7 .1-.3 0-.7 0-.3 .1-.2 0 .2 .1-1.7 0 .1 0 .8 .1-.3 0 .9 0 1.1 .1 .1 0 .5 0-.7 .1 2.2 0-.2 0-.2 .1 .6 0 .4 0 1.7 .1-.1 0-.1 0 1.6 0-1.1 .1 1.6 0-1.1 0 0 .1 1 0 .9 0 .3 .1-.3 0 .8 0 1.2 .1-.4 0 1.2 0 .2 .1 .8 0 .3"/>
<path class="c" stroke-width="1.55" d="M1054.5 588.1l.1-.5 0-1.2 .1 .5 .1-.5 .1-1.4 0-.6 .1 0 .1-.7 .1 .3 0-.5 .1-.1 .1-.3 .1-.8 .2 .8 .1-1.5 .2 .4 .2-.2 .1-1 .2-1.1 .1 .3 .2-.6 .1 .7 .1-2.5 .2-.2 .1 1.8 .2-1.2 .1-1.2 .1-.4 .2-.2 .1-1 0 .6 .1 .1 .1-2 .1-.3 .1 .8 .1-1.8 0 1.1 .1 .1 .1-1.1 .1 .1 .1-2.5 .1 .4 0 .3 .1-1 .2-.6 .2-.3 .3 .5 .2-.5 .2 .2 .2-1.2 .1 .8 .1 .2 .1 1.1 .1-.9 .1 1.9 .2 .3 .1-.7 .1 .1 .1 .6 .1 .7 .1 .3 .1-.3 .1-1 .1 1.1 .1-2 .1 .9 .1-1.1 .2 0 .1-1.5 .1 .3 .1-1.4 .1 0 .1 0 .1-.4 .2-1.5 .1 .1 .2 .4 .2 .3 .1-.2 .2-1.1 .1-.7 .2 .2 .1 .4 .2-.2 .2-.2 .1 3 .2-.6 .1 .2 .2 .3 0 .4 .1 .7 0 .1 .1 .7 0 1.1 0 .4 .1 .9 0-1.3 .1 0 0 1 .1 .1 0 2.4 0-.7 .1 1.1 0 0 .1 .1 0 .3 .1-.1 0 .6 0 .9 .1 .8 0-.1 .1 1 0-.4 0 1.2 .1-.7 0 1.6 0-.1 .1 .9 0-.4 .1 1.7 0-.8 0 .8 .1 1.7 0 .2 0-.2 .1 .1 0 1.3 .1-.6 0 .8 .1 .7 0 .5 .1 .4 0 0 .1 .1 .1 .1 0 2.2 .1-1.3 0 2.3 .1-1.2 0 1.6 .1-.6 .1 .9 0-.1 .1 .6 .1-.5 0 .6 .1-1.3 .1-.8 0-.5 .1 .2 .1-1.2 .1-.3 0-.8 .1 .6 .1-.1 .1-.9 .3 1.2 .3 0 .4-1.2 0 0 0-.5 .1 .1 0-1.5 .1 .5 0-2.3 .1 .3 0-.6 0 1.4 .1-1.9 0 .3 .1-.4 0 .3 .1-2.4 0-1 0 .7 .1 .6 0-1.3 .1-.1 0-.9 .1-.3 0-.6 .1-.4"/>
<path class="c" stroke-width="1.55" d="M1070.8 576.2l0-.6 .1 .2 .1-.6 0-.8 .1-.5 .1-1 0-.8 .1 .5 .1 .1 0-.7 .1-1 .1 .3 0-.7 .2-.4 .1-.3 .2-.8 .1 .3 .2-.9 .1-.4 0 .3 .1 .9 0 .8 0-.1 .1 .6 0 .3 0 .2 .1-.1 0 1 0 .7 .1 1.5 0-.2 0-.4 .1 .3 0-.4 0 1.9 .1 .6 0-1.3 0 1.9 .1 .6 0-.4 0 .3 .1 .6 0 .9 0 .9 .1 0 0 0 0 1.3 .1 0 0 .4 0 0 .1 .3 0 .9 0 .2 .1 .7 0 .5 0 1.5 0-1.8 .1 2.5 0-1.5 0 .9 .1 1 0-.3 0 1.2 .1-.1 0 .1 0 1.5 .1-.3 0 1.3 0 .2 .2 0 .1-.1 .1-1.9 .2 1.6 .1-.8 .2-.7 .1-.4 .1-.6 .2-.9 0 0 .1-1.5 0 .4 .1-1.6 0-.3 0 .8 .1-1.4 0 1.4 .1-.8 0-2.6 .1 1 0-1.6 0 1.4 .1-2.4 0-.2 .1-.3 0 .9 .1-1.3 0 .1 0-.7 .1 .1 .1-.8 0-.3 .1-1.8 .1 .5 0-1.3 .1 .2 .1 1.2 0-2.3 .1 .1 0-.3 .1 0 .1-.8 0 .2 .1-1.1 0-.6 .1-.6 0-.5 .1-.1 0 .1 0-.8 .1-1.8 0 .9 .1-1 0-1.2 0-.6 .1 .5 0-.8 0-.3 .1-.1 0-1.3 .1 .5 0 .3 0-1.2 .1 .4 0-.7 0-.6 .1-.3 0-.8 .3-.8 .4 .7 .3-.3 .3-.2 0 .8 .1 .5 0-.3 0 .5 .1-.3 0 2.2 0-1.5 .1 1.1 0 1.4 0 .2 .1-.5 0 1.9 .1-.6 0 .6 0 1.1 .1-1 0 .3 0 .5 .1 2.3 0-.2 0-.1 .1 1.2 0-.1 0 .6 .1-1.2 .1-.7 .1 1.1 .1-.3 .1-1.1 .1-.2 0-1.5 .1 .6 .1-.4 0 .1 .1 .4 0 .7 0-.1 0 1.4 .1 .6 0-.4 0 1.9 .1-1.6 0 1.5 0-.4 0 2.4 .1-.6 0-.8 0 .6 .1 1.6 0-1.1 0 3 0-2 .1 .5 0 2.2 0-.8 .1 1.1 0 .9 0-.4 0 .2 .1 .7 0 .1 0 1.7 .1-.5 0 .8 .1-1.1 .2 1.4 .1-1.5 .2-.6 .1-.9 .2 .2 0-.6 .1 .3 0-2 .1 1.8 .1-1.6 0-.6 .1-1 0 1.5 .1-2.4 .1-.2 0 .2 .1-.4 .1-.2 0 .8 .1 1 0 .3 .1-.5 .1 2 0-.2 .1 1.4 0-.8 .1 0 0 .6 .1 1.1 .1-.1 0 .5 .1 .3 0-.1 .1 .6 .1 .9 0 .6 .1-1 0 .8 .1-.1 0 2.3 .1 1 .1-.9 0-.3 .1 1.4 0-.5 .1 1.8 0-.2 .2 .8 .1-.9 .2 2.2 .1-1 .1 1.4 .2 1.2 .1 .2 .2-1.3 .1 1.1 .3 .9 .2-.7 .2 1 .3-.6 .3 1.3"/>
<path class="c" stroke-width="1.53" d="M1087.8 591.1l0-.5 0-.6 .1-.2 0-1.2 .1 .5 0-.6 0-1.5 .1 1.7 0-1.5 .1-.7 0-1.5 0 .4 .1-.2 0-.9 .1 .8 0-.8 .1-.1 0-1.3 0 .3 .1-.6 0-.1 .1-1.4 0-.4 .1-.2 0 0 0 1 .1 .4 .1-.3 0 1.1 0-.5 .1 .8 .1-.1 0 1.1 0 1.1 .1 .6 0 .2 .1-.1 .1 1.2 0 .2 0-.6 .1 .7 .1 .7 0 .3 .1 .9 0 .1 .1-1.3 0 .6 .1-1.9 0 .4 .1 .6 0-2.2 .1-.1 0 .4 .1-.4 0-.5 .1-.7 .1 .4 0-1.6 .1 .3 0-.9 .1 .6 0 .1 .1 1.2 0-.7 .1 1.6 0 1 .1 .4 0 .5 .1-.7 0 0 .1 .4 0 .7 .1-.4 0 1.1 .1 .1 0 .7 .1 .9 .1-.5 0-.3 .1 .1 .1-1.1 .1-1.3 0 1.3 .1-.6 .1-1.3 .1-.1 0-1.5 .1-.5 .1 .5 .1-1.4 0 1.1 .1-.9 .1-.4 .1-.6 .2-.2 .2-.2 .3 .3 .3 1.6 .2 .3 .4 .4 .4-.8 .4 .4 .1 .4 .1-.3 .1 .3 0 .9 .1 1 .1 1 0-1.5 .1 .8 0 1.3 .1 .3 .1-.4 0 .3 .1 1.4 .1-.2 0 1 .1 .7 .1 .9 0-.4 .1 1.4 0-.5 .1 .8 .1 1.3 0-.3 .1 1.3 0-.9 .1-.1 .1 1 0 1.1 .1-.2 0-.1 .1 1.5 0 0 .1 .5 0 .3 .1 .1 0 1 0-.7 .1 1.4 0-.2 .1 .8 0 1.8 0-.5 .1-.5 0 .6 .1 1 0-.5 0-.4 0 0 .1-1.1 0 0 .1 .3 0-.5 0-1.3 0 .5 .1-.4 0-1.4 .1-.5 0-1.6 0-.2 0 .4 .1 .3 0 0 0-.2 .1-2.9 0 1.1 .1-.8 0 .2 0-1 0-1 .1 .2 0-1 .1-.7 0-.3 0 .1 .1-.4 0 .1 .1-.1 .1-2 0 1 .1-.7 .1-2 0 .4 .1-.6 0 1.4 .1-2.3 .1-.6 0 .7 .1-1.5 .1 .9 .1-1 0-.7 .1-1 .1-.4 0-.1 .1-.7 .1 .6 .1 .4 0-.5 .1-.4 .1-2.2 0 1 .1-1 .1-.1 0-1.2 .1 .6 .1 .2 0-.5 .1-2 0 .4 .1 .5 0-.4 .1-.5 .1-1.4 0-.7 .1-.3 0-.6 .1-.2 .1 1 0 .2 .1 1.1 .1 .3 0 .6 .1-1.1 0-.4 .1 .9 .1 1 0 .9 .1 .5 0 0 .1 .5 .1 .8 0 .7 .1-.3 0-.3 .1 1.3 .1-.5 0 .2 .1 .8 0-.2 .1 1.6 0 .7 .1 .6 .1-.3 0 .6 .1-.3 0-.8 .1-.9 0-.6 0-.1 .1 1.1 0-1 .1-.8 0-1.7 .1 .9 0-1.4 0-.3 .1 .4 0-.6 .1 .1 0-1.9 .1-.1 0 .5 .1-1.2 0 0"/>
<path class="c" stroke-width="1.53" d="M1104 575.5l0-.6 .1 .4 0-1.4 .1-.9 0 1.4 0-1.7 .1-.3 0-1.6 0 2 .1-.6 0-2.2 .1 1 0-1 0-.4 .1-.3 0-1.1 0 0 .1-.7 0-.8 .1 .1 0-.3 0 .1 .1-1 0-1.5 .1 .2 0-.3 .1 .4 0-1.4 .1-.2 0-.7 .1 .7 0-.8 0 .3 .1-1.1 0-1 .1 .5 0-1.4 .1 0 0-.7 .1 .8 0 .7 0-.5 .1-.1 0 .9 0-.1 0 2.3 .1 .7 0-.8 0 1.6 .1-.8 0 .2 0 .4 .1-.4 0 2.3 0 .6 .1-.4 0 .7 0 .3 .1 .5 0 .2 0 0 .1 .3 0 .5 0 .5 .1 1.1 0 .4 0 .9 .1-.3 0 .6 .1 .9 0-.1 .1 .6 0-.2 .1 1 0 .1 0 1.6 .1-.5 0 1.8 .1-1.4 0 2.1 .1-.3 0-.1 0 .8 .2 .9 .1-.4 .1 .4 .1-.1 .1 .3 .1 .7 .1 1.4 .1-.1 .1-.1 0 1.7 .1 .1 .1 .4 0 1.2 .1-1.1 0-.5 .1 2.9 0-2 .1 1.6 .1-.5 0 2.1 .1-.1 0 0 .1 .6 .1-.4 0-1.1 .1-.7 0 .2 .1-.5 .1-.7 0 1 .1-1.8 .1 .2 0-.9 .1-1 .1 1.5 0-2.3 .1 .2 0-.5 .1-.4 .1-.3 0-1.1 .1 .5 0-.7 .1 .6 0 .1 .1 .7 0-.3 .1 1.4 0-.4 .1 1.1 0-1 .1 2 0-1 .1 1 0 .9 .1-.4 0 .9 .1 1.2 0 .1 .1-.1 0 .1 .1 1.9 .1 .5 .1-1.5 0 2.4 .1-1.6 .1 1 .1 1.4 0-.1 .1 .6 .1 .4 0-.1 .1-1 .1 .6 0-1.3 .1 .3 0-.8 .1 .6 0-1.6 .1-.5 .1-.3 0 .2 .1-1.5 0 .2 .1-.6 .1-.5 .1-.8 .1-.5 .1 1.1 .1-.3 .1-1.1 .1-2.1 .1 .9 .1-1.1 .1 .7 .1-.9 .1-.9 .1 0 0 .3 .1 .1 .1 .4 0 1.9 0-.2 .1-.8 0 1.7 .1-.7 .1 1.1 0 .2 0-.3 .1 1.7 .1 1.5 0-1.4 .1 1.3 0 .3 0 0 .1 .4 .1 1.1 0 .2 .1 .4 0 1.2 .1-.9 0 .1 .1 1.3 .1 1 0-.3 .1 .5 0 1.4 .1 .2 0-1 .1 1.3 .1 1 0 .2 .1 .9 0-.7 .1 .9 .1 .7 .1-.1 0 .1 .1 1.9 .1 .2 .1 .5 .1-.7 .1 .3 .1 .8 0 1.1 .1-.7 .1 .7 .1-.1 .1 1 0 .6 .2 .3 .2 1.3 .2 .5 .2-.8 .1 .8 .2 .2 .2 .1 .1-.2 0-.9 .1 .8 0-.9 .1-1.5 .1 1.3 0-.8 .1-1.4 0-.2 .1 .5 0-1.5 .1-.5 .1 .3 0-.5 .1-.7 0-.3 .1-.7 .1-1.3 0 .8 .1-.2 .1-.6 0-.3 .1-.1 0-1.2 .1-.5"/>
<path class="c" stroke-width="1.45" d="M1120 593.6l0 .4 .1 .3 0 .6 .1 .8 0-.5 .1 .1 0 1.3 .1 1.5 0-1.6 .1 .9 0 1.8 .1 .9 0-.2 .1 .8 0 .4 .1 .6 0-.3 .1 .8 0-.6 .1 .8 0 .6 0 .2 .1 1.3 0-.1 .1-.5 0 1.3 .1-.2 0 .1 .1 2.4 0 .2 0-.1 .1 .3 0 .4 .1 .1 0 1.2 .1 .5 0 .2 0-.3 .1 1.5 0 0 .1 .3 .1 .1 0 .1 .1 .6 .1 1.3 .1-.8 0 1.3 .1-.6 .1 1.1 .1-.2 0-.8 .1 .3 0-1.7 .1 .7 0-1.8 .1 .9 0-.8 .1-.1 0 0 .1-.6 0-1.6 .1 .2 0-1.2 .1 .9 0-1 .1-1 0-.2 .1-.1 0-.2 .1-.9 0 .1 0-.8 0-.6 .1-1.2 0 .5 0-.8 0-1 .1 .8 0-1.1 0-.2 0 .1 .1 .2 0-1.6 0-.6 0 0 .1 0 0-.9 .1-.2 .1 .4 .2 0 .1 1.7 .1-.1 .2 .3 .1 .6 .1 .5 0-.8 .1-.4 0 .2 .1 0 0-2.1 .1 1.4 0-1.2 .1 .4 0-2.4 0 .2 .1-1.2 0 .2 .1 .9 0-2.1 .1 1.2 0-1.4 0 .1 .1-.8 0-.6 .1-.4 0 .7 .1-.3 0 1.6 .1-1 0 1.4 0 .9 .1 .7 0-1.5 .1 .4 0 2.1 .1 .8 0-.7 0 .9 .1-.4 0 1.6 .1-.1 0-.6 .1 .5 0 .5 0 .6 .1 .9 0 .4 .1 .6 0 .4 .1 .3 0 .6 0 .1 .1 0 0 .6 0 1.4 .1-.4 0 .3 0 1.9 .1 .6 0-1.3 .1 1 0 0 0 .8 .1 .5 0 .7 .1 .3 .1 1.3 0-.5 .1 .1 .1 1.8 .1 .2 0-.3 .1 .6 .1 1.2 .1-1 0 1.2 .1 .5 .1 .2 .3-.7 .3 2 .3-1.6 .4 1 0-.2 .1-.3 .1-.7 .1-1.2 .1-.6 0 .4 .1-1 .1 .6 .1 .2 .1-1.6 .1-.6 .1-.8 0 .4 .1 0 .1-.9 .3-.2 .3 1.5 .3-.9 .3 .2 .1 .7 .1 .3 .1 1 .1 .4 0-.1 .1 .2 .1 1.1 .1 .8 .1-.1 0 .1 .1 .7 .1-.1 .1 1.1 0-.1 .1 .1 .1 .8 .2 .4 .2 .9 .2 .1 .2-.1 .2-.4 .3 1 0 0 .1-1.4 0 .5 .1-.4 0-.7 .1-.2 0-1.2 .1 .8 0-1.6 .1-.4 0 0 .1 .2 .1-.9 0-1.3 .1 .4 0-.7 .1 .4 0 1 .1-.6 0 .7 .1 .2 0 1.5 .1 .7 0-.5 .1 .7 0 .3 .1 1.2 0-1 .1 .9 0 1.1 .1 .1 0 .4 .1 .4"/>
<path class="c" stroke-width="1.47" d="M1136.5 620.5l.3 0 .4-.2 .3-.4 .2 .9 .1-.4 .2 .7 .1 .4 .2-.6 .1 2.1 .2-.5 .2 .5 .1 .3 .1 .6 .1-.3 .1 .8 .2 1.2 .1 0 .1 .8 .2 .2 .1 0 .1 .4 .1-.8 0 0 .1-.6 0-.5 .1-.3 0 .2 .1-.9 0-.7 .1-.6 .1 0 0-.7 .1 .3 0-1.9 .1 .8 0-.8 .1 .1 0-.9 .1-.5 0-.6 .1 .1 0-1.1 0-.1 .1-.4 0-.2 0-.7 .1-.8 0 0 0-.6 .1 0 0-1.6 0 .4 .1 0 0-.3 0-1.3 .1 .6 0-1 0-1.4 .1-.4 0 .2 0 0 .1-1.3 0 .7 0-.9 .1-.5 .2-.1 .1-1.2 .2 .5 .2-.8 .2-.3 .1 .3 .2-.5 .2 1.3 .2 .5 .1 1.1 .2-1.2 .2 1 0-.4 .1 .1 0-1.4 .1-.3 0-.4 0 0 .1-.8 0-.3 0-.8 .1-.2 0-1.2 .1 .9 0-1.8 0 .5 .1-.5 0 0 .1-.5 0-1.4 0 .9 .1-1.6 0 .2 0-.4 .1-.1 0-.6 .1-.4 0-.7 .3-.5 .3 .1 .3-.7 .3-.2 .2 .1 .1 .6 .1-.5 .2 1.4 .1 1.4 .1-.5 .1-.4 .1 1 .1-.3 .1-.6 .1-.6 0 .3 .1-.8 .1-.3 0-.7 .1 .6 .1-.5 0-2 .1 .6 .1-.8 0-.5 .1-.9 .1-.2 .2-.4 .1-.7 .1 1.3 .1-1.7 .1 .2 .1-.9 .2 .1 .1-.8 .1-.4 .1 .6 .2 .2 .1 .4 .2-.5 .1 1.3 .1 .6 .1 .2 .1 .3 0 1.2 .1-.6 0 1.6 .1-.4 0 1.6 .1-.2 0 .4 .1-.7 0 1.8 .1-.1 0 .5 .1 .6 .1 0 0 .7 .1-.3 0 1.5 .1 .4 .1 .7 0-.7 .1 2.1 0-1.7 .1 1.2 0 0 .1 1.2 .1-.2 0 1.1 .1 .2 0 0 0-1.3 .1 .7 0-.7 0-1.6 .1 0 0-.8 0-.2 .1-1 0 1.5 0-1.9 .1 .4 0-.4 0-.8 .1 .1 0-1.4 0 .5 .1-.4 0-.2 0-.9 .1-.6 0-.6 0 .2 .1-1.1 0 .1 .1-.8"/>
<path class="c" stroke-width="1.49" d="M1152.8 593l0-.1 .1-.9 .1-.8 .1 .4 .1-1.6 .1-.2 .1-.9 .1 1.4 .1-2.2 .1 0 .1 .5 .1-.6 .1-.6 .1 0 0 .9 .1 .8 0-.9 .1 2 0-.4 .1 .2 0 1.2 .1-.9 0 .6 .1 .1 0 .8 .1 .7 0-.1 .1 1.6 0 1 .1-.5 0 .8 .1 .2 .1 .2 .1-.9 .1-.5 .1-1.5 .2 1.2 .1-1.4 .1-.1 .1-1 .1 .3 .1 0 0 .5 .1 .9 0 .5 .1 .9 0 .1 .1 .5 0-1 .1 1.4 0 .2 .1 .7 0 1.4 .1-1.3 0 1.7 .1-.6 0 1 .1 .5 .2 .5 .1 .3 .2-.8 .2 2 .2-.3 .1 1.2 .2-.3 .2 .4 .2 .4 .3 .3 .2 1.1 .2-.8 .2 .4 .2 .4 .2 .3 .2 .2 .2-.4 .2 1.5 .2-.1 .1-.9 .1-.3 .1-.4 .1 .5 .1-1.8 0 .5 .1-1.7 .1 .4 .1 .4 .1-1.1 0 .3 .1 .4 .1 .5 0 .8 .1 .5 0 .1 0 .2 .1 .7 .1 .8 0-.1 0 1.5 .1-.6 .1 .7 0 .4 0-.4 .1 1.7 0 .1 .1 .9 .1 .2 0 .1 .1 0 0-1 .1-.2 0 .1 .1-1.5 0 .6 .1 0 0-.4 .1-.9 0-.2 .1-.2 0-1.5 .1 0 0-.5 .1-1.5 0 .5 .1-.6 0-.3 .1-.5 .1 .2 .1-.8 .1-1.6 .1 0 .1 .1 .1-.3 .1-.9 .1 .6 .1-1.1 .1 .2 .1-.8 .1-1 .1 .2 .1-1.8 .1 .7 .1 .5 .1-1 0-.8 .1 .4 .1 .4 .1 .1 0 .8 .1 .2 .1 .7 0-.2 .1 1.1 0 .6 .1 1.1 .1-1.4 0 .6 .1 1.5 .1 .1 0 .3 .4 1.1 .3-1.6 .3 1.7 .3 .1 .1-1 0-.3 .1-.4 .1-1 0 1 .1-.1 .1-1 0-.4 .1 0 .1 0 0-1.9 .1 .4 .1-.1 0-1 .1-.5 0 0 .1 .3 0 1 .1 .5 0 .7 .1 .5 0-.1 0-.4 .1 1.1 0 1.4 .1-1.2 0 2.1 0-1.2 .1 1.3 0 .6 .1 .9 0 .9 .1-.9 0 .5 0 1.1 .1 .3"/>
<path class="c" stroke-width="1.51" d="M1169.4 604.9l.1-.4 .1 .4 .1-.9 .1-.7 .1 0 .2-1.2 .1 .1 .1-1.5 .1 .9 .1-1.1 .1 0 .1-.4 0 .3 .1-2 .1 1.4 0-.9 .1-.9 0 0 .1-.1 0-1.4 .1 .3 .1-1.4 0-.2 .1 0 0-1 .1 0 .1-.8 0 .6 .1-1 0-.5 .1-.6 .1-.4 0 .8 .1-2.7 0 1.1 .1-2 0 1.3 .1-.6 .1-1.4 0 0 .1 .3 0-1 .1-.5 .3 .3 .2 .4 .2-.7 .3 1.3 .3 .5 0 0 .1 .6 0 .2 .1 .6 0 .4 .1 1.3 .1 .5 0 0 .1-.4 0 .5 .1 1.6 .1 .6 0-.4 .1 .7 0-.3 .1 1.7 .1-.1 0 0 .1-1 0-.5 .1 .3 0-.2 .1-.9 0-1 .1-1.3 0 .1 .1 .6 0 .2 .1-.8 .1-.3 0-1.5 .1 .4 0-1 .1 0 0 1.1 .1 .2 0 1.5 .1-.3 0 .9 .1-.3 0 1.4 .1 .7 0-1.6 .1 1.3 0-.3 .1 2.1 0-.3 .1-.3 0 1.2 .1 .3 .1-.5 0-.3 .1 .3 .1-2 0 1.3 .1-.7 0-.2 .1-2.6 .1-.4 0 .1 .1 1 0-.4 .1-1.7 .1-.1 0-.3 .1-.4 0 .3 .1 .5 0-.3 0 2 .1-.8 0 1.4 .1 .2 0 .5 0-.7 .1 .5 0 .4 0 2.3 .1-.9 0 .3 0 .3 .1 1.5 0 0 .1-.2 0-1 .1-.1 0 0 .1-1.4 0 .5 0-.4 .1-.7 0-.8 .1-1.1 0-.7 .1 1.2 0-1.1 .1 0 0-.1 .1-1 0-.6 .1 .1 0-.8 .1-.4 .1-.1 .2-1.9 .1 .4 .1-.6 .2 .2 0-.2 0-.6 .1-.9 0-1 .1 .4 0-.2 .1-.2 0-.4 .1-.9 0-.8 .1 .2 0 0 0-2.1 .1 1.6 0-1.9 .1-.1 0-.3 .1-.5 0-.3 .1 .6 0-.3 0 .7 .1 .7 0 1 0 1 .1-1.2 0 1.2 0-.8 .1 2.1 0-1.3 .1 1.5 0 1.2 0 .3 .1-.7 0 0 0 2.4 .1-.3 0 .3 .1 1.3 0 0 0 .4 .1 .4 0 .1 0-.5 .1 .2 0-.1 .1-1.8 0-.9 .1 .1 0 1.2 .1-2.1 0-1.1 .1 .7 0-1.4 .1 1.6 0-.9 .1-1.6 0-.1 0-.1 .1 .9 0 .1 .1 .1 0-.1 .1 1.7 0-.3 .1 .5 0 .6 0-.8 .1 1.3 0 .5 .1 1.1 0 0 .1 1.6 0 .3 0 .1 .1 .6 0-.8 .1 1.3 0 0 .1-.8 .1 .3 0-.3 .1-.5 .1-2 0 .7 .1-.8 .1-.1 0-1.4 .1 1.1 .1-.1 0-1.4 .1-.3 .1-1 0-.2 .1-.9 0 0 .1 .9 .1-.8 0-1.8 .1 1.6 .1-1.7 0 0 .1-.7 .1-.4 0 .5 0 .6 0-.4 .1 1.3 0-.3 0 1.9 0 0 .1-.4 0 .9 0 1.3 .1-1.6 0 2.6 0-1.4 0 .2 .1 .8 0 1.3 0 0 .1-.5 0 1.1 0 .7 0 .2 .1 1.4 0 0 0 1.2 .1-.4 0 .5 0 1 0 .3 .1 .6 0-.3 0 .6"/>
<path class="c" stroke-width="1.50" d="M1185.6 594.2l.1 .8 .1-.6 .1 1.2 .1-.8 .1 2.4 0 .3 .1 .6 .1-1.3 .1 1.6 .1 .2 .2-.2 .2 .6 .2-1.1 .2-.6 .2-.5 0-.2 .1-.2 .1-1.8 0 .3 .1-.4 0 .7 0-2 .1 1 .1-.2 0-1.1 0-1.7 .1 .2 .1-1.3 0 .9 0-.6 .1 .3 0-1 .1-.9 .1-.6 0-.2 0-.4 .1-.6 .1-1.4 0 1.8 .1-2.1 0 0 0-.3 .1-.1 .1-.3 0-1 .1 .9 0 0 .1 1 .1-1.2 0 2 .1-.2 .1 1 0-.6 .1 1.2 .1-.8 0 1.4 .1 1 .1-.5 0 1.1 .1 0 .2 .9 .1-1.2 .2 1.8 .2-.9 .1 1.6 .2 .3 .1-.1 .1-1.6 .1 .1 .1-.7 .2 1.4 .1-2.4 .1 .5 .1-.4 0 0 .1 1.1 0 .3 .1-.6 .1 1.1 0 1.4 .1 0 0 .3 .1 .5 0 .2 .1 .3 0 .2 .1 .3 0 .6 .1 1.3 .1-.1 0-.3 .1-.9 .1 .7 .1-.2 0-1.8 .1 .3 .1-1.4 .1 .3 0-.7 .1-1.1 .1-.4 .1 .5 .1-.6 0 .7 .1-.6 .1 .6 .1 .3 .1 2.2 0-.2 .1 1 .1 .3 .1-.8 .1 .4 .1 .7 .1 .4 0 0 .1-.9 .1 .1 .1-1.9 .1 .1 .1 1.1 .1-2 0 .9 .1-1.3 .1-.5 .1-.5 .1 .1 .1-.4 .2 .4 .1-.4 .1-1.2 .1-.4 .1-.7 .2 .4 .1 .8 .2 .9 .1-1.7 .2 2 .2-1.3 .1 1.6 .2 .4 .2 .5 .1 .2 0 .6 .1 0 0 1.4 0-.7 .1 1.4 0 .4 0 .5 0-1.2 .1 1 0 .9 0 1.1 0-.8 .1 1.5 0-.5 0 .8 .1 .5 0 .7 0 .8 0-.2 .1 .3 0 1.2 0-.6 .1 .9 0 .2 0 .8 .1 .7 0-.3 0 .7 .1-.2 0 1.2 .1 .3 0 1.4 0 .3 .1-.1 0-.3 .1 .2 0 .5 0 .8 .1 .6 0-.3 .1-1.2 0 .2 .1-1.2 0-.6 .1 .8 0-1.5 0 .3 .1 .8 0-2.6 .1 .5 0-.7 .1 .5 0-1.6 .1 0 0-.6 .1 .4 0-1.2 0-.1 .2-.6 .2 .8 .2-2 .2-.7 .1 1.7 .2-1.3 .2-.4 .2 .5 .2-1.9 .2-.4 .2 .3 .2 .7 .3-1.1"/>
<path class="c" stroke-width="1.46" d="M1202.8 596.1l0 .6 .1 .5 0 .2 .1 .7 0 .8 .1-1.2 .1 .4 0 1.7 .1-.4 0 .5 .1 .3 .1 1.4 0 .9 .1 .4 0-.2 .1 .9 .1 0 0 .2 0 .5 .1-.3 0 .9 .1 .8 0 1.3 .1-1.3 0 1.3 .1 1.5 0-.6 .1 1.1 0-.3 .1 .5 .1 .8 .1-.3 .1 1.4 .1-.1 .1 .5 .1-.7 .1 1.8 .1 0 0 .4 .2-.8 .2 .5 .2-.7 .2 .6 .1-1 .2-1.1 .2 0 .3-1 .3 .6 .3 .1 .4-1 .3 .3 .3-1.7 .3 .1 .3 .1 .1-.9 0 0 .1-.7 0 .4 .1-1.1 .1 .2 0-2 .1 1 0-.7 .1-.7 0-1.2 .1 .8 .1-.2 0-1.3 .1-.1 0-.4 .1-.6 .1 0 .1-.5 .2 .1 .1-1.5 .1-1 .2-.3 .1 .4 .1-.3 .1 .9 0-.6 .1 1.5 .1-1 0 2.2 .1 .6 .1-1.6 0 2.4 .1-.7 .1 .3 0 1 .1 .5 .1 .1 .1-.4 0-.8 .1 .3 .1-.9 0-1.2 .1 1.5 .1-1.1 .1-1.6 0-.4 .1 .2 .1 0 .1-.6 .2-.3 .2 .2 .2-.8 .2-.7 .2 0 .2-.3 .1 .5 .1 .8 .1-.7 .1 .8 .1-.3 .1 1 .1 .8 .1 .2 0 .7 0-.3 .1 .8 0 .1 0 1.8 .1-1.2 0 1.6 0-.6 .1 1.2 0 1.4 0-.9 .1 .5 0 .7 .1 1 0 .5 0-1 .1 .8 0 1.1 0 .5 .1 .4 0 .5 0 .1 .1 .3 0 .7 .3 .8 .3-1.3 .3 1.1 0 .4 0 .8 .1 .5 0 .1 0-.3 0 1.6 .1 .2 0 .3 0-.2 0 .9 .1 .8 0 .1 0-.4 0 1.2 .1 1.4 0 .7 0 .4 0 0 .1-1 0 2 0-.5 0 .6 .1 .5 0 .5 0 .5 0-.3 .1 1.2 0 .6 0-.1 0 .6 0 .6 .1-.5 .1 .2 .1-1.3 0 .9 .1-.4 .1-1.1 .1-1.2 0 0 .1-.5 .1-.9 0 .7 .1-.9 .1-.6 .1 .1 .1-.8 .1-.8 .1-.1 .1-.4 .1 .1 .1-.4 .1-.8"/>
<path class="c" stroke-width="1.43" d="M1219 615.5l.1 0 .1 .8 .2 1.3 .1-.9 .1 1.7 .2-.8 .1 0 .1 1 .1-.9 .1-.4 0 .3 .1-.6 .1-1.1 .1 .3 0 .4 .1-.8 .1-1.1 .1-1.1 0 .2 .1-.4 .1-.4 .1 .8 0-.3 .1 .3 0 .8 .1 1.2 .1-.1 0-.8 .1 2.1 0 .3 .1 .3 0-.3 .1 .6 .1 .1 0 .5 .1 .7 .1-.7 0 .2 .1-.9 .1-1.1 0 .9 .1-1.5 .1-.6 .1 .4 0-1.2 .1 0 .1 .2 .1-.7 0 .7 .1-.3 .1 .1 .1 1.1 .1 .7 0-.1 .1 .7 .1 1.4 .1-1.3 .1 1.1 .1 0 .1 .9 .1 .3 .2-.9 .1-.9 .2-1 .1 1.3 .2-.4 .1-1.7 .2 .2 .1-.8 0-.3 .1-.9 0 .8 .1-1.1 .1-1.2 0 .4 .1-.9 .1 .4 0-.4 .1-1.6 .1 .7 0 0 .1-.6 0-.6 .1-.8 .2 .3 .2-1.2 .1-.2 .2-.2 .2-.1 .2-.1 .1-.9 .1 .6 0 .5 .1-.3 0 .5 0 1.5 .1-.7 0 1.9 0 .4 .1-.8 0 1.1 0 .8 .1 .3 0-.3 .1 .7 0-.2 0-.4 .1-.7 0-.9 .1-.5 0 .2 .1-1.4 0 .1 0 .1 .1-1.4 0 .6 .1-.5 0 0 .1-1.5 0-.2 .1-.1 0-.7 .1-.4 .1 .2 .1-.9 .1-.9 0 0 .1-.8 .1-.3 .1-.6 .1-.2 .1-.5 0 .8 .1-.4 0 1 .1-.1 0 .5 .1 1.4 0-.6 0 .6 .1 1.3 0-.1 .1 .6 0 0 .1 .4 0 .7 .1 .6 0 .2 .1 .1 0 1.1 0 0 .1 .5 .1 .7 .1-.3 0 .9 .1 .3 .1 1.3 0 .5 .1-.2 0-.1 .1 1.4 .1-.2 0 .2 .1 0 .1 1.3 0 0 .2 .8 .2-.5 .2 .4 .1 1.8 .2 .2 .1-.2 .1 .6 .1 .3 0 .2 .1 .2 0 .2 .1 1 .1-.1 0 1.2 .1-.7 0 .7 .1 .7 0 .4 .1 1.3 .1 0 0 .2 .1 .5 .1 .4 0 .2 .1 .6 .1-.1 .1 .8 0 .4 .1 .1 .1 .5 .1 .4 0 1.2 .1 0 .1 .5 0 .8 .1 .6 0-.4 .1 .3 .1 .9 0-.6 .1 .7 .1 .5 0 1.5 .1-.4 .1 .6 .1-.4 .1-.2 .1-.7 .1-.2 .1 0 .1-1.3 .1 .1 .1-.1 .1-1.3 .1-.6 .1 .2 .1-.5"/>
<path class="c" stroke-width="1.40" d="M1236 629.2l.1-.1 .2-.8 .1-.2 .2 .3 .1-1.5 .1-.4 .2-.7 .1 .2 .1-.5 .2 .5 .1 .9 .1-.5 .1 .6 .1 1.4 .1-.3 .1 .4 .1-.2 .1 1.1 .1 .8 .1-.4 .1 .7 .1 .3 .2 .6 .1 .6 .2-.5 .1 1.9 .1-.1 .2 .8 .1-.6 .2 .7 0-.4 .1-.2 0-.4 .1-.3 0-.1 .1-.4 0-1 .1-.9 0-.5 .1-1 0 .4 .1-.9 0 .7 .1-1.3 0-.1 .1-.5 0-.5 .1 .2 0 .4 .1 1.1 0 .2 .1 .3 0-.1 .1 1.7 .1-.7 0 .3 .1 .8 0 .1 .1 1.5 0 .1 .1-.2 0 .8 .1 .3 .2-.2 .3 1.1 .2-.1 .2 1.5 .3-.7 .2 .8 .2 .1 .2-.9 .1 .8 .2-1.6 .2 .7 .1-1 .2-.4 .1-.3 .2-.4 .1-.4 .1-.3 .1-.8 .1 .3 .1-.5 .1-.1 .1-.9 .1-1 .1-.4 .1-.5 .1-.2 .1-.2 .1-.7 0-.1 .1-.6 0-.4 0-.6 .1-.2 0-.3 .1 .3 0-1.6 .1 .2 0-.4 0-.5 .1-.1 0-.3 .1-2 0 .6 .1-.8 0-.5 .1-.2 0-.6 .1-.2 .1-.7 .1 .5 .1-1.4 .1 .1 .1-1.4 .1 .1 .1-.2 .1-.3 .1-.8 .1-1 .2 .6 .1-1.1 .1-1 .1 .8 .1-.6 .2-.4 .1-.4 0-.2 .1-.3 0-.2 .1-1.1 0-.1 .1-1.6 0-.3 .1 1.3 0-1.6 .1 .7 0-.7 .1-1.2 0-1 0 .5 .1-.8 0-.3 .1 .1 0-1.3 .1-.1 0 .1 .1 1.1 0 .8 0 0 .1-.6 0 1.7 .1 0 0 .1 .1 1.3 0 1 0-1.6 .1 2.5 0-.2 .1-.4 0 1.5 0-.2 .1 .7 0 .9 .1-.2 0 .1 0 .8 .1 0 .1-.2 0-1.3 .1-1.2 0 .5 .1-1.4 0 .8 .1-.7 0-.7 .1 .6 0-1.8 .1 .7 0-1.6 .1 .1 .1 .5 0 .3 .1 .1 0 .9 .1 .4 0 .9 .1 .1 0 .5 .1 .5 0-.4 .1 .3 0 1.6 .1-.5 0 1.2 .1 .5 0 .2 .1 .3 0-.2 0-.7 0-.1 .1-.5 0-1 0 .1 0-.9 0-.8 .1-.3 0 0 0 .1 0 0 0-.4 .1-.4 0-.5 0-1.2 0-1.1 0-.1 0 0 .1-.7 0-.1 0-1 0-.2 0-1.3 .1 1 0-1 0-1.4 0 .3 0-.3 .1-.3 0-.5 0-.7"/>
<path class="c" stroke-width="1.54" d="M1252.5 600l.1-.1 0-1.4 .1 .2 .1-.7 0 .5 .1-.4 .1-2.1 0 1.3 .1-1.8 .1-.2 0 .4 .1-1.5 .1 1 0-1 .1-.4 .3 1.2 .3-1.7 .3 1.1 .4 .6 .1-1 .1 .5 .1-1 .1-.8 .1 .5 .1-1.3 .1 .6 .1-.1 .1-1.4 .1-.3 .1-.5 .1-.2 .1-.9 0 .5 .1-.4 0-.3 .1-1.8 0-.5 .1 .5 0-1.1 .1-1 .1 1.8 0-2.4 .1-.2 0 .5 .1-.7 0-.1 .1-.8 0 .5 .1 .8 0-.9 .1 2.1 .1-.4 0 1.1 .1-.3 0-.4 .1 .8 0 1.6 .1-.1 0-.4 .1 1.8 0-.2 .1 .5 .1 .4 0-.6 .1 .2 0-.1 .1-1.8 0 .2 .1-.9 .1 1 0-1.4 .1-.8 0-.9 .1 .2 .1 .7 0-.5 .1-1 0-.5 .1-.8 .1-.5 0-.6 .1 .6 .1-2 .1 1.2 0-.8 .1-2 .1 .1 .1 .3 0-1.6 .1-.5 .1 .6 .1-.6 .1-.3 0-.5 .1-.4 .1-.3 0-1.7 .1 .7 .1 .2 0 .2 .1-2.3 .1 .1 0 .7 .1-2.3 .1-.2 0 .1 .1-.9 0 .5 .1-.2 0-.7 .1-1.1 0 .7 .1-1.4 .1-1.6 0 2 .1-1.4 0 .4 .1-.9 0-1.9 .1-.2 0-.1 .1 0 0 .1 .1 .8 0 .8 .1 .5 0-.6 0 1.1 .1 1.5 0 0 .1 .2 0-1.4 0 2 .1-.6 0 1.9 .1-.1 0-.3 0 .4 .1 1.5 0 .1 0 .2 .1-.2 .1 1.1 0 .8 .1 .2 0-.1 .1 2 .1-.9 0 1.7 .1-1.6 0 1.5 .1 .9 0-.2 .1 0 .1 0 0 1.1 .1-.6 0-.6 0 .2 .1-1.6 0 .5 0 .4 .1-2.5 0 1.4 0-1.2 .1-.5 0-1 0-.8 .1-.5 0 1.3 0-1.7 .1-.4 0-.8 0-.6 .1 1.5 0-.6 0-.7 .1-.7 0-.8 0 .5 .1-1.2 0-.3 .1-.5 0-.8 .1 .8 0-.9 .1-1 .1-1.3 0 1.9 .1-1.1 0 .2 .1-.8 0-2.4 .1 .3 .1-.2 0-.9 .1-.1 0 .3 .1-1 0 .5 .1 .1 0-.1 .1 2.1 0-.3 0 1.1 .1-.9 0 2.1 0-1 .1-.5 0 1.8 .1-.1 0 1.1 0 1.5 .1-1.1 0-.2 .1 1.2 0-.3 0 2.3 .1-1 0 .2 0 1.2 .1 .3 0 .3 .1 .1 0 .8 .1 .8 0 1 .1-1.1 .1 1 .1 .3 0 1 .1 .4 .1 .8 .1 0 0 .7 .1-.9 .1 1 .3 .5 .3-.6 .3-1.5 .3 .4 .1-.6 0 .3 .1-1.5 .1 .3 0 .6 .1-1.5 0 .8 .1-3 0 .3 .1 1.2 .1-.7 0-1.4 .1-.1 0-.6 .1-.3"/>
<path class="c" stroke-width="1.51" d="M1269 568.8l0-.5 .1-1.1 0 .6 0 .1 .1-.5 0-2.3 0 .4 .1-1 0 .7 .1 .1 0-.7 0-.7 .1-.7 0-.4 0-.5 .1-1 0 .3 0-1.2 .1 .6 0-1.2 .1-.4 0 .5 0 .5 .1 .2 0-.2 0 1.1 .1 1.6 0-1.4 0 2.1 .1-1.7 0 1.7 0 .4 .1-.2 0 2 .1-1.3 0 .3 0 1.7 .1 0 0 .6 0 1.5 .1-.2 0 .4 0 0 .1 .2 0 .8 .1-.2 .1 0 .1 2.6 .1 .2 .1 .7 .1-1.4 .1 1.7 .1-.6 .1 .8 0 .7 .1-.6 0 1.6 .1 .6 0 .3 .1 .7 0 .3 .1-.4 0 .7 0 1.7 .1-1.1 0 .9 .1 1 0-.4 .1 .6 0 .5 0 .3 .1 .1 0 .9 .1-.5 0 .4 .1 1.1 0 .9 .1 .1 0-.1 0 2.2 .1-.5 0 1.5 .1-2 0 .5 .1 2.6 0-1.6 0 1 .1 .5 0 .8 .1 .5 0 .4 .1-1.1 .1 .6 .1 .4 .1-.9 .1-.8 .1 .4 .1-2.5 .1 0 .1 .1 .1 .4 .1 .2 .1 .9 .1-.1 .1 1.8 .1-.8 .1 1.3 .1-.7 .1 1.1 .1 .3 .1-1 .1 .4 .1 0 .1-.1 .1-2 .1 1.2 .1-2.2 .1-.5 .1 .1 .1-.3 .2 .2 .2-.3 .1 1.7 .2-.3 .2-.5 .2 .9 .1 .9 .1 .4 .1 1 0-.3 .1 .9 .1 .6 0 .7 .1-.2 .1 0 0 1.7 .1 .7 0-1.2 .1 .2 .1 .6 0 .8 .1 .4 0 1.1 .1-.8 .1 1.9 0-.2 .1 .4 .1 .5 .1 .6 .1 .1 .2-.3 .1 2.3 .1-1.2 .1 1.1 .1 .4 .1 .1 .2 1 .1-.6 .1 1.3 .1 .3 .1-.1 .1 1.3 .1-.9 .2 .9 .1-.3 .1 .3 .1 .5 .1 1.2 .1 1 .1 0 .1 .5 .2 1 .1-.9 .1 2.1 .1-1.7 .1 2.5 .1 0 .1 0 .2-.8 .1 1.5 .1 .2 .1 .5 .1-.8 .1 .1 .1 .1 .1-2.1 .1 .4 .1-.4 .1-.9 .1 .4 .1-.4 .1-.1 .1-1.4 .1 .5 .1-1.1 0-.9 .1 .5 0-1.4 .1-.9 0-.1 .1-.1 .1 .4 0-1.7 .1-.5 0 1.1 .1-2.4 .1 1.8 0-1.1 .1-.3 0-1.7 .1 .8 .1-.9 0-.7 .1 0 0-.3 .1-1.5 0 1.3 .1-2.2 .1 .2 0-.7 .1 1.2 0-.6 .1-.7 0-1.8 .1 .7 .1-1 0-.2"/>
<path class="c" stroke-width="1.57" d="M1285.6 592.5l.1-.9 0 .3 .1-.4 0-.2 .1-1.1 0-1.5 .1 .6 0-.6 .1-.1 0-1.1 .1 1.3 0-2.1 .1-.2 0 .4 .1-1.6 0 0 .1-.3 0-.9 .1 .2 0-.3 0-.7 .1-.5 0 0 .1-1.5 0-1 0-.1 .1 .2 0-1.4 0 1.9 .1-2.8 0 .4 0-.9 .1 .1 0 .9 0-1.1 .1 .2 0-.6 0-1.5 .1-1.2 0 .1 .1-.9 0 .8 0-1 .1-.3 0-.6 0-.7 .1 .1 0-.9 0-.5 .1-.3 0-.7 .1-1.2 0 1 0-2 .1 .6 0-1.5 0 1.9 .1-.9 0-2.1 0-.8 .1 2.1 0-1.3 0-1 .1 .3 0-1.4 0 1 .1-1.8 0 .1 .1-.6 0-.4 0-.5 .1-.3 0-.7 0-.5 .1-.9 0-.2 .1 .7 0-1.5 0-1.2 .1 .8 0-.4 0-.1 .1-.3 0-.3 .1-1.9 0 1.1 0-2 .1-1 0 .3 .1 1 0-.9 0 0 .1-.8 0-.5 0-1 .1-.4 .1-.3 .1-1.2 .1 1.5 .1-2.9 .1 .9 .1-.5 0 1 .1-.9 0 2.2 0-.3 .1 .7 0-.5 .1 2.2 0-1.4 0 .5 .1 1.2 0 .8 0 .2 .1-.3 0-.2 0 1.3 .1 .1 0 .9 .1 .6 0 1.2 .1-1.3 0 .7 0 1.1 .1 .2 0 .6 .1 .2 0-.5 .1 .6 0 1.6 .1 .8 0 0 0 .4 .2 .4 .1-2.2 .1 1.2 .1-.5 .1-2 .1 1 .1-.7 .1-.3 .1-.1 .1 1.4 .1 0 0 1.1 .1-.1 .1-1 .1 .4 0 .8 .1 1.8 .1-1 .1 .6 0 1.4 .1 .4 .1 .5 .1 .7 0 1 .1-1 .1 .9 .1-.1 0-.5 .1 1.8 .1 .2 .1 1.6 0-.9 .1 .8 .1-.3 .1 1.9 0-.5 .1-.8 .1 2.4 .1 .6 .1-.2 .1-.6 .1 1.2 0 .1 .1-1.5 0-.6 .1-.2 0 .8 .1-1.4 0-.9 .1 1.2 0-1.6 .1-.1 0-1.9 .1 0 0-.8 .1 .3 0-.2 .1-.8 0 .1 .1 0 0-.5 .1 .4 .1-.7 0-2.7 .1 1.2 .1-.4 0 .1 .1-1.2 0-.6 .1 .3 0 1 .1 .5 0 .4 .1-1 0 1.1 0 .4 .1 2.1 0-.7 .1 1.2 0 0 .1 1.1 0-.8 0-.7 .1 1.4 0 1.7 .1-.5 0 1.6 0-1.1 .1 0 0 2 .1 .4 0-.6 0 .8 .1-.3 .1-.6 .1 .9 .1-2.9 .1 1 .1-.6 .1-.1 .1-1.5 .1 .4 .1 1 0-.9 .1 1.8 0-1.2 .1 .3 0 1.6 .1 .5 0 .6 .1 1.6 0-1.3 .1-.4 0 2 .1 .4 0-.2 .1 1.1 0 .1 .1 .5 .1 .6 .1 1.3 .1 .4 .1-1.1 .1 .8 .1 .4 .1 .1 .1 .6 0-.6 0 .4 .1-2 0 .3 .1 0 0-.5 0-1.5 .1 .9 0-2.3 .1 1.8 0-2.7 0 1.1 .1 .6 0-2.8 .1-.5 0-.1 .1-.2 0-.3 0 0 .1-.9 0 0 .1-.2 .1-.9 0 .3 .1-1.3 .1 0 0 .4 .1-1.9 .1 .9 0-1.1 .1 0 .1 1 0 .7 .1-.6 0 .1 .1 2.5 .1-.4 0-.1 .1 .4 0 .4 .1 1.8 .1-.4 0-.1 .1-.1 0 2 .1 .4 0-.1"/>
<path class="c" stroke-width="1.55" d="M1302.2 572.5l.2-.9 .1-.1 .1 0 .1-1.4 .1-.8 .1 1.2 .1-1.1 .1 0 0 .3 .1 1.1 0-.6 0 .7 0-.2 0 1.7 .1 1.1 0-1.7 0 .6 0 1.3 .1 1.3 0-.6 0 .5 0-.7 0 2.1 .1 .8 0-.9 0 2.3 0 .3 0-.9 .1 1.5 0-.6 0 .4 0-.3 0 1.6 .1 .1 0-.1 0 1.2 0 .6 .1 .2 0 .6 .1 .7 0-.3 .1-.5 .1 3 0-.2 .1-.8 .1 .3 0 1.3 .1 .3 .1-.2 .2 .1 .1-1 .2 .8 .2-1 .1-1.3 .2 .6 .1-1.1 .1-.1 .1-1.2 .1 .5 .1-1.9 .1-.7 .1 1 .1-1 .1 .1 .1-.5 .1 .1 0-1.8 .1 .2 .1 .6 0 0 .1-1.4 .1-.3 0-.6 .1-1.8 .1-.2 0 .1 .1-.6 .1 0 0 0 .1-.5 .1-1.2 .1-.7 .1 .7 .1-.5 .2-.4 .1 .1 .1-.5 .1-.7 0 .6 0-.5 .1 1.4 0-.1 0 .7 .1-.4 0 2.3 0 .2 .1 .7 0 .3 0-.6 .1 .7 0 1 0-.4 .1 .6 0 .2 0-.1 .1 .6 0 1 .1 .2 .1-1.6 0 1.1 .1-.2 .1-2.6 .1 .7 .1-.6 .1-.4 .1-1.2 0 .8 .1-1.5 .1 .3 .2-.3 .3 .3 .3-.9 .2-.4 .1-.7 .2-.9 .1-.3 .2-.5 .1-.2 .2 .1 0 .5 .1 .2 0-.4 .1 .7 0 2.4 0-1.1 .1 1.4 0 1.1 .1 .4 0-1.2 .1 1 0 0 .1 .8 0 .4 0 .7 .1 .3 0-.2 .1 1.3 0 .1 0 .6 .1 .7 0-.5 0 .4 .1 0 0 1.6 .1 .1 0-.4 0 1 .1 .9 0 .3 .1-.3 0-.5 .1-1 .1 .9 0-1.4 .1-1 0-.6 .1 1.2 0 0 .1-.4 .1-1.3 0-.6 .1 .2 0-1.5 .1 .1"/>
</g>
</svg>
</body></html>
